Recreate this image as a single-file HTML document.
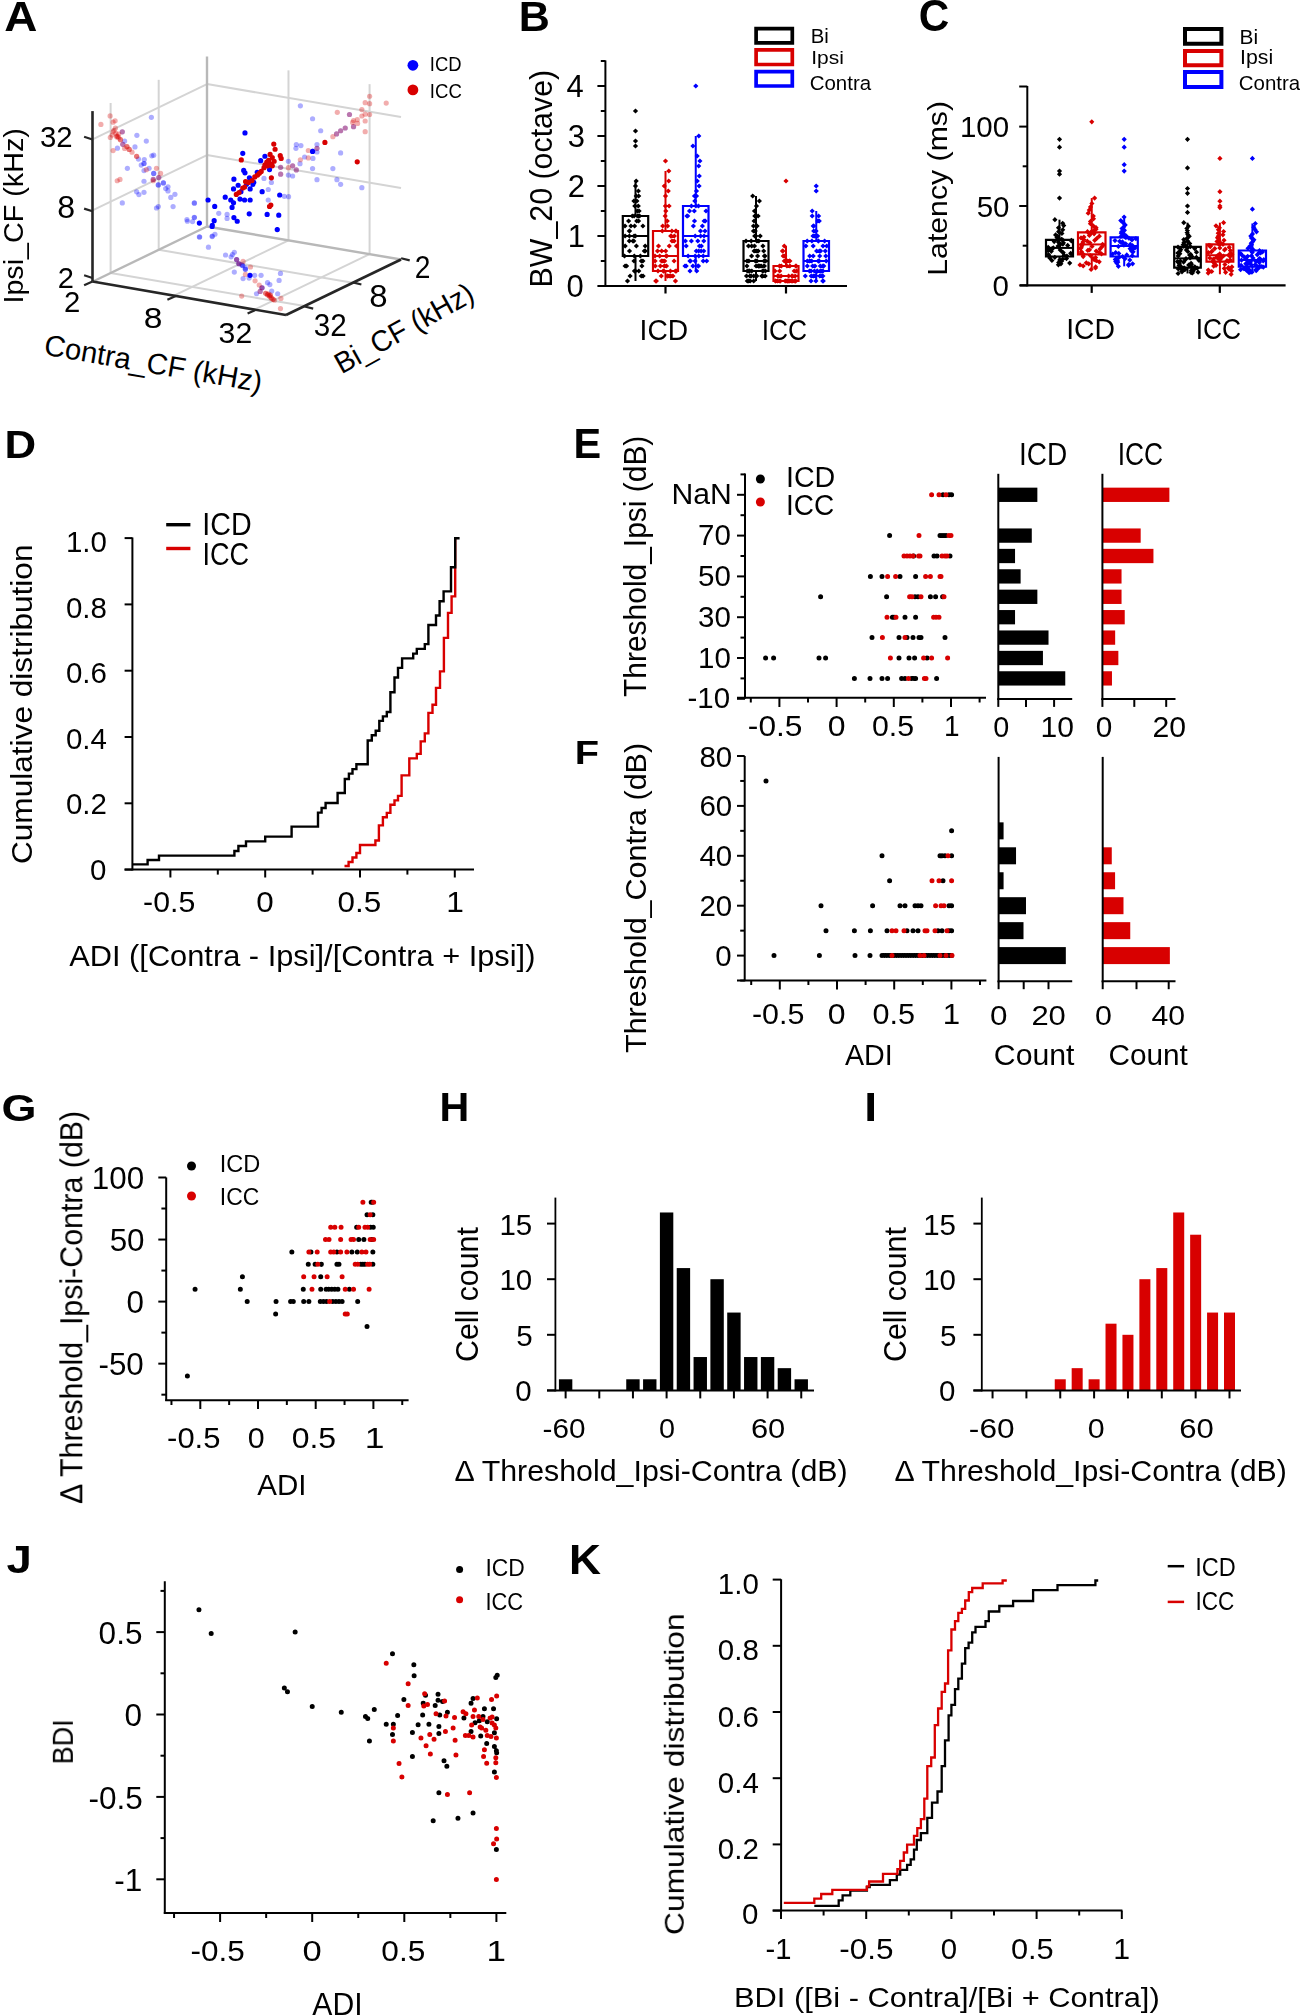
<!DOCTYPE html><html><head><meta charset="utf-8"><style>html,body{margin:0;padding:0;background:#fff;overflow:hidden}svg{display:block}</style></head><body>
<svg width="1300" height="2016" viewBox="0 0 1300 2016" style="font-family:&quot;Liberation Sans&quot;, sans-serif">
<rect width="1300" height="2016" fill="#fff"/>
<line x1="132.40" y1="537.50" x2="132.40" y2="870.60" stroke="#000" stroke-width="2.0" stroke-linecap="butt"/>
<line x1="124.60" y1="869.60" x2="474.00" y2="869.60" stroke="#000" stroke-width="2.0" stroke-linecap="butt"/>
<line x1="124.60" y1="869.60" x2="132.40" y2="869.60" stroke="#000" stroke-width="2.0" stroke-linecap="butt"/>
<line x1="124.60" y1="803.30" x2="132.40" y2="803.30" stroke="#000" stroke-width="2.0" stroke-linecap="butt"/>
<line x1="124.60" y1="737.00" x2="132.40" y2="737.00" stroke="#000" stroke-width="2.0" stroke-linecap="butt"/>
<line x1="124.60" y1="670.70" x2="132.40" y2="670.70" stroke="#000" stroke-width="2.0" stroke-linecap="butt"/>
<line x1="124.60" y1="604.40" x2="132.40" y2="604.40" stroke="#000" stroke-width="2.0" stroke-linecap="butt"/>
<line x1="124.60" y1="538.10" x2="132.40" y2="538.10" stroke="#000" stroke-width="2.0" stroke-linecap="butt"/>
<line x1="170.40" y1="869.60" x2="170.40" y2="877.50" stroke="#000" stroke-width="2.0" stroke-linecap="butt"/>
<line x1="265.20" y1="869.60" x2="265.20" y2="877.50" stroke="#000" stroke-width="2.0" stroke-linecap="butt"/>
<line x1="360.00" y1="869.60" x2="360.00" y2="877.50" stroke="#000" stroke-width="2.0" stroke-linecap="butt"/>
<line x1="454.80" y1="869.60" x2="454.80" y2="877.50" stroke="#000" stroke-width="2.0" stroke-linecap="butt"/>
<line x1="217.80" y1="869.60" x2="217.80" y2="874.60" stroke="#000" stroke-width="2.0" stroke-linecap="butt"/>
<line x1="312.60" y1="869.60" x2="312.60" y2="874.60" stroke="#000" stroke-width="2.0" stroke-linecap="butt"/>
<line x1="407.40" y1="869.60" x2="407.40" y2="874.60" stroke="#000" stroke-width="2.0" stroke-linecap="butt"/>
<line x1="166.20" y1="524.70" x2="190.40" y2="524.70" stroke="#000" stroke-width="3.4" stroke-linecap="butt"/>
<line x1="166.20" y1="548.50" x2="190.40" y2="548.50" stroke="#d80000" stroke-width="3.4" stroke-linecap="butt"/>
<path d="M344.5,866.0 H348.6 V862.0 H352.5 V857.5 H356.4 V853.0 H360.0 V845.0 H375.4 V840.5 H378.9 V825.4 H382.9 V817.3 H386.8 V812.9 H390.4 V804.8 H394.5 V800.4 H398.0 V795.9 H401.6 V775.4 H409.3 V758.4 H416.8 V753.9 H420.7 V741.4 H424.8 V733.4 H428.4 V712.9 H432.5 V704.8 H436.0 V687.9 H440.0 V671.4 H443.9 V637.9 H448.0 V612.9 H451.6 V596.4 H455.2 V568.2 H455.2 V538.3 H455.2" stroke="#d80000" stroke-width="2.4" fill="none" />
<path d="M132.4,864.4 H147.6 V860.0 H159.0 V855.6 H234.4 V851.0 H238.4 V846.0 H246.0 V841.4 H265.2 V836.6 H291.6 V826.6 H318.0 V812.6 H321.6 V808.0 H325.6 V803.0 H337.6 V793.0 H344.8 V779.0 H348.9 V773.6 H352.5 V769.1 H356.4 V764.3 H367.7 V740.5 H371.8 V735.2 H375.7 V730.7 H379.3 V720.9 H382.9 V716.4 H386.8 V712.0 H390.4 V692.3 H394.5 V677.5 H398.0 V667.9 H402.1 V658.4 H413.2 V653.6 H416.8 V648.9 H424.8 V644.1 H428.4 V625.0 H436.0 V615.5 H439.6 V601.3 H443.6 V591.4 H451.0 V567.3 H455.2 V538.3 H459.6" stroke="#000" stroke-width="2.4" fill="none" />
<rect x="558.92" y="1379.28" width="13.40" height="11.12" fill="#000"/>
<rect x="626.24" y="1379.28" width="13.40" height="11.12" fill="#000"/>
<rect x="643.07" y="1379.28" width="13.40" height="11.12" fill="#000"/>
<rect x="659.90" y="1212.48" width="13.40" height="177.92" fill="#000"/>
<rect x="676.73" y="1268.08" width="13.40" height="122.32" fill="#000"/>
<rect x="693.56" y="1357.04" width="13.40" height="33.36" fill="#000"/>
<rect x="710.39" y="1279.20" width="13.40" height="111.20" fill="#000"/>
<rect x="727.22" y="1312.56" width="13.40" height="77.84" fill="#000"/>
<rect x="744.05" y="1357.04" width="13.40" height="33.36" fill="#000"/>
<rect x="760.88" y="1357.04" width="13.40" height="33.36" fill="#000"/>
<rect x="777.71" y="1368.16" width="13.40" height="22.24" fill="#000"/>
<rect x="794.54" y="1379.28" width="13.40" height="11.12" fill="#000"/>
<line x1="555.40" y1="1197.60" x2="555.40" y2="1391.40" stroke="#000" stroke-width="1.8" stroke-linecap="butt"/>
<line x1="547.00" y1="1390.40" x2="814.00" y2="1390.40" stroke="#000" stroke-width="2.0" stroke-linecap="butt"/>
<line x1="547.00" y1="1390.40" x2="555.40" y2="1390.40" stroke="#000" stroke-width="2.0" stroke-linecap="butt"/>
<line x1="547.00" y1="1334.80" x2="555.40" y2="1334.80" stroke="#000" stroke-width="2.0" stroke-linecap="butt"/>
<line x1="547.00" y1="1279.20" x2="555.40" y2="1279.20" stroke="#000" stroke-width="2.0" stroke-linecap="butt"/>
<line x1="547.00" y1="1223.60" x2="555.40" y2="1223.60" stroke="#000" stroke-width="2.0" stroke-linecap="butt"/>
<line x1="565.62" y1="1390.40" x2="565.62" y2="1398.40" stroke="#000" stroke-width="2.0" stroke-linecap="butt"/>
<line x1="599.28" y1="1390.40" x2="599.28" y2="1398.40" stroke="#000" stroke-width="2.0" stroke-linecap="butt"/>
<line x1="632.94" y1="1390.40" x2="632.94" y2="1398.40" stroke="#000" stroke-width="2.0" stroke-linecap="butt"/>
<line x1="666.60" y1="1390.40" x2="666.60" y2="1398.40" stroke="#000" stroke-width="2.0" stroke-linecap="butt"/>
<line x1="700.26" y1="1390.40" x2="700.26" y2="1398.40" stroke="#000" stroke-width="2.0" stroke-linecap="butt"/>
<line x1="733.92" y1="1390.40" x2="733.92" y2="1398.40" stroke="#000" stroke-width="2.0" stroke-linecap="butt"/>
<line x1="767.58" y1="1390.40" x2="767.58" y2="1398.40" stroke="#000" stroke-width="2.0" stroke-linecap="butt"/>
<line x1="801.24" y1="1390.40" x2="801.24" y2="1398.40" stroke="#000" stroke-width="2.0" stroke-linecap="butt"/>
<rect x="1054.75" y="1379.28" width="11.00" height="11.12" fill="#d80000"/>
<rect x="1071.67" y="1368.16" width="11.00" height="22.24" fill="#d80000"/>
<rect x="1088.60" y="1379.28" width="11.00" height="11.12" fill="#d80000"/>
<rect x="1105.52" y="1323.68" width="11.00" height="66.72" fill="#d80000"/>
<rect x="1122.45" y="1334.80" width="11.00" height="55.60" fill="#d80000"/>
<rect x="1139.38" y="1279.20" width="11.00" height="111.20" fill="#d80000"/>
<rect x="1156.30" y="1268.08" width="11.00" height="122.32" fill="#d80000"/>
<rect x="1173.22" y="1212.48" width="11.00" height="177.92" fill="#d80000"/>
<rect x="1190.15" y="1234.72" width="11.00" height="155.68" fill="#d80000"/>
<rect x="1207.07" y="1312.56" width="11.00" height="77.84" fill="#d80000"/>
<rect x="1224.00" y="1312.56" width="11.00" height="77.84" fill="#d80000"/>
<line x1="981.80" y1="1197.60" x2="981.80" y2="1391.40" stroke="#000" stroke-width="1.8" stroke-linecap="butt"/>
<line x1="973.40" y1="1390.40" x2="1241.00" y2="1390.40" stroke="#000" stroke-width="2.0" stroke-linecap="butt"/>
<line x1="973.40" y1="1390.40" x2="981.80" y2="1390.40" stroke="#000" stroke-width="2.0" stroke-linecap="butt"/>
<line x1="973.40" y1="1334.80" x2="981.80" y2="1334.80" stroke="#000" stroke-width="2.0" stroke-linecap="butt"/>
<line x1="973.40" y1="1279.20" x2="981.80" y2="1279.20" stroke="#000" stroke-width="2.0" stroke-linecap="butt"/>
<line x1="973.40" y1="1223.60" x2="981.80" y2="1223.60" stroke="#000" stroke-width="2.0" stroke-linecap="butt"/>
<line x1="992.55" y1="1390.40" x2="992.55" y2="1398.40" stroke="#000" stroke-width="2.0" stroke-linecap="butt"/>
<line x1="1026.40" y1="1390.40" x2="1026.40" y2="1398.40" stroke="#000" stroke-width="2.0" stroke-linecap="butt"/>
<line x1="1060.25" y1="1390.40" x2="1060.25" y2="1398.40" stroke="#000" stroke-width="2.0" stroke-linecap="butt"/>
<line x1="1094.10" y1="1390.40" x2="1094.10" y2="1398.40" stroke="#000" stroke-width="2.0" stroke-linecap="butt"/>
<line x1="1127.95" y1="1390.40" x2="1127.95" y2="1398.40" stroke="#000" stroke-width="2.0" stroke-linecap="butt"/>
<line x1="1161.80" y1="1390.40" x2="1161.80" y2="1398.40" stroke="#000" stroke-width="2.0" stroke-linecap="butt"/>
<line x1="1195.65" y1="1390.40" x2="1195.65" y2="1398.40" stroke="#000" stroke-width="2.0" stroke-linecap="butt"/>
<line x1="1229.50" y1="1390.40" x2="1229.50" y2="1398.40" stroke="#000" stroke-width="2.0" stroke-linecap="butt"/>
<line x1="781.10" y1="1579.20" x2="781.10" y2="1911.60" stroke="#000" stroke-width="2.0" stroke-linecap="butt"/>
<line x1="772.70" y1="1910.60" x2="1122.40" y2="1910.60" stroke="#000" stroke-width="2.0" stroke-linecap="butt"/>
<line x1="772.70" y1="1910.60" x2="781.10" y2="1910.60" stroke="#000" stroke-width="2.0" stroke-linecap="butt"/>
<line x1="772.70" y1="1844.40" x2="781.10" y2="1844.40" stroke="#000" stroke-width="2.0" stroke-linecap="butt"/>
<line x1="772.70" y1="1778.20" x2="781.10" y2="1778.20" stroke="#000" stroke-width="2.0" stroke-linecap="butt"/>
<line x1="772.70" y1="1712.00" x2="781.10" y2="1712.00" stroke="#000" stroke-width="2.0" stroke-linecap="butt"/>
<line x1="772.70" y1="1645.80" x2="781.10" y2="1645.80" stroke="#000" stroke-width="2.0" stroke-linecap="butt"/>
<line x1="772.70" y1="1579.60" x2="781.10" y2="1579.60" stroke="#000" stroke-width="2.0" stroke-linecap="butt"/>
<line x1="781.00" y1="1910.60" x2="781.00" y2="1919.00" stroke="#000" stroke-width="2.0" stroke-linecap="butt"/>
<line x1="866.20" y1="1910.60" x2="866.20" y2="1919.00" stroke="#000" stroke-width="2.0" stroke-linecap="butt"/>
<line x1="951.40" y1="1910.60" x2="951.40" y2="1919.00" stroke="#000" stroke-width="2.0" stroke-linecap="butt"/>
<line x1="1036.60" y1="1910.60" x2="1036.60" y2="1919.00" stroke="#000" stroke-width="2.0" stroke-linecap="butt"/>
<line x1="1121.80" y1="1910.60" x2="1121.80" y2="1919.00" stroke="#000" stroke-width="2.0" stroke-linecap="butt"/>
<line x1="823.60" y1="1910.60" x2="823.60" y2="1915.50" stroke="#000" stroke-width="2.0" stroke-linecap="butt"/>
<line x1="908.80" y1="1910.60" x2="908.80" y2="1915.50" stroke="#000" stroke-width="2.0" stroke-linecap="butt"/>
<line x1="994.00" y1="1910.60" x2="994.00" y2="1915.50" stroke="#000" stroke-width="2.0" stroke-linecap="butt"/>
<line x1="1079.20" y1="1910.60" x2="1079.20" y2="1915.50" stroke="#000" stroke-width="2.0" stroke-linecap="butt"/>
<line x1="1167.70" y1="1566.20" x2="1184.10" y2="1566.20" stroke="#000" stroke-width="2.5" stroke-linecap="butt"/>
<line x1="1167.70" y1="1601.90" x2="1184.10" y2="1601.90" stroke="#d80000" stroke-width="2.5" stroke-linecap="butt"/>
<path d="M814.3,1905.9 H838.7 V1900.4 H842.6 V1895.4 H850.3 V1890.7 H866.9 V1887.1 H869.7 V1884.9 H889.9 V1880.2 H896.8 V1874.6 H900.2 V1869.9 H907.1 V1864.9 H910.7 V1859.4 H914.0 V1849.7 H916.8 V1840.0 H920.9 V1833.1 H927.3 V1817.9 H932.0 V1802.6 H937.5 V1791.5 H941.7 V1766.1 H945.0 V1740.3 H948.6 V1715.4 H951.4 V1704.9 H955.0 V1689.1 H958.3 V1678.6 H961.9 V1663.6 H965.2 V1648.1 H968.6 V1642.6 H972.2 V1632.3 H975.5 V1626.8 H985.5 V1621.2 H988.8 V1611.5 H999.3 V1606.0 H1013.1 V1601.0 H1033.1 V1590.2 H1057.5 V1585.2 H1095.4 V1580.5 H1098.2" stroke="#000" stroke-width="2.3" fill="none" />
<path d="M783.8,1902.9 H814.3 V1898.7 H821.2 V1894.0 H832.3 V1889.9 H866.9 V1886.3 H869.1 V1881.5 H883.0 V1873.8 H897.4 V1869.1 H900.2 V1860.8 H903.8 V1852.5 H907.1 V1844.7 H914.0 V1835.9 H917.3 V1828.1 H920.9 V1819.2 H924.3 V1798.7 H927.3 V1766.1 H931.2 V1757.5 H934.8 V1725.1 H938.1 V1708.5 H941.7 V1691.8 H945.0 V1683.5 H948.1 V1650.3 H951.4 V1629.5 H955.0 V1621.2 H958.3 V1612.9 H961.9 V1608.8 H965.2 V1600.5 H968.8 V1592.2 H972.2 V1588.0 H982.7 V1583.3 H1002.6 V1580.5 H1006.8" stroke="#d80000" stroke-width="2.3" fill="none" />
<path d="M624.9,281.0L627.5,278.4L630.1,281.0L627.5,283.6ZM640.5,276.0L643.1,273.4L645.7,276.0L643.1,278.6ZM638.7,276.0L641.3,273.4L643.9,276.0L641.3,278.6ZM627.5,276.0L630.1,273.4L632.7,276.0L630.1,278.6ZM632.8,271.0L635.4,268.4L638.0,271.0L635.4,273.6ZM631.8,271.0L634.4,268.4L637.0,271.0L634.4,273.6ZM636.2,271.0L638.8,268.4L641.4,271.0L638.8,273.6ZM639.3,266.0L641.9,263.4L644.5,266.0L641.9,268.6ZM624.0,266.0L626.6,263.4L629.2,266.0L626.6,268.6ZM622.5,266.0L625.1,263.4L627.7,266.0L625.1,268.6ZM640.3,261.0L642.9,258.4L645.5,261.0L642.9,263.6ZM631.4,261.0L634.0,258.4L636.6,261.0L634.0,263.6ZM638.7,261.0L641.3,258.4L643.9,261.0L641.3,263.6ZM621.9,256.0L624.5,253.4L627.1,256.0L624.5,258.6ZM631.7,256.0L634.3,253.4L636.9,256.0L634.3,258.6ZM637.8,256.0L640.4,253.4L643.0,256.0L640.4,258.6ZM626.9,251.0L629.5,248.4L632.1,251.0L629.5,253.6ZM642.7,251.0L645.3,248.4L647.9,251.0L645.3,253.6ZM641.7,251.0L644.3,248.4L646.9,251.0L644.3,253.6ZM622.6,246.0L625.2,243.4L627.8,246.0L625.2,248.6ZM622.5,246.0L625.1,243.4L627.7,246.0L625.1,248.6ZM633.8,246.0L636.4,243.4L639.0,246.0L636.4,248.6ZM642.6,246.0L645.2,243.4L647.8,246.0L645.2,248.6ZM630.3,241.0L632.9,238.4L635.5,241.0L632.9,243.6ZM626.7,241.0L629.3,238.4L631.9,241.0L629.3,243.6ZM631.2,241.0L633.8,238.4L636.4,241.0L633.8,243.6ZM622.5,236.0L625.1,233.4L627.7,236.0L625.1,238.6ZM626.8,236.0L629.4,233.4L632.0,236.0L629.4,238.6ZM631.5,236.0L634.1,233.4L636.7,236.0L634.1,238.6ZM632.8,236.0L635.4,233.4L638.0,236.0L635.4,238.6ZM627.0,231.0L629.6,228.4L632.2,231.0L629.6,233.6ZM627.0,231.0L629.6,228.4L632.2,231.0L629.6,233.6ZM626.7,231.0L629.3,228.4L631.9,231.0L629.3,233.6ZM632.0,226.0L634.6,223.4L637.2,226.0L634.6,228.6ZM628.3,226.0L630.9,223.4L633.5,226.0L630.9,228.6ZM622.4,226.0L625.0,223.4L627.6,226.0L625.0,228.6ZM640.3,226.0L642.9,223.4L645.5,226.0L642.9,228.6ZM634.1,221.0L636.7,218.4L639.3,221.0L636.7,223.6ZM636.0,221.0L638.6,218.4L641.2,221.0L638.6,223.6ZM626.0,221.0L628.6,218.4L631.2,221.0L628.6,223.6ZM637.0,216.0L639.6,213.4L642.2,216.0L639.6,218.6ZM635.9,216.0L638.5,213.4L641.1,216.0L638.5,218.6ZM629.7,216.0L632.3,213.4L634.9,216.0L632.3,218.6ZM631.5,216.0L634.1,213.4L636.7,216.0L634.1,218.6ZM634.8,216.0L637.4,213.4L640.0,216.0L637.4,218.6ZM634.7,211.0L637.3,208.4L639.9,211.0L637.3,213.6ZM636.5,211.0L639.1,208.4L641.7,211.0L639.1,213.6ZM632.2,206.0L634.8,203.4L637.4,206.0L634.8,208.6ZM635.7,206.0L638.3,203.4L640.9,206.0L638.3,208.6ZM634.3,201.0L636.9,198.4L639.5,201.0L636.9,203.6ZM631.3,201.0L633.9,198.4L636.5,201.0L633.9,203.6ZM633.6,196.0L636.2,193.4L638.8,196.0L636.2,198.6ZM636.1,196.0L638.7,193.4L641.3,196.0L638.7,198.6ZM635.8,191.0L638.4,188.4L641.0,191.0L638.4,193.6ZM632.9,186.0L635.5,183.4L638.1,186.0L635.5,188.6ZM633.6,181.0L636.2,178.4L638.8,181.0L636.2,183.6ZM632.9,146.0L635.5,143.4L638.1,146.0L635.5,148.6ZM632.9,141.0L635.5,138.4L638.1,141.0L635.5,143.6ZM632.9,131.0L635.5,128.4L638.1,131.0L635.5,133.6ZM632.9,111.0L635.5,108.4L638.1,111.0L635.5,113.6Z" fill="#000"/>
<line x1="635.50" y1="216.00" x2="635.50" y2="181.00" stroke="#000" stroke-width="2.0" stroke-linecap="butt"/>
<line x1="635.50" y1="281.00" x2="635.50" y2="256.00" stroke="#000" stroke-width="2.0" stroke-linecap="butt"/>
<path d="M622.8,256.0H648.2V216.0H622.8Z" stroke="#000" stroke-width="2.2" fill="none" />
<line x1="622.75" y1="236.00" x2="648.25" y2="236.00" stroke="#000" stroke-width="2.0" stroke-linecap="butt"/>
<path d="M672.9,281.0L675.5,278.4L678.1,281.0L675.5,283.6ZM672.8,281.0L675.4,278.4L678.0,281.0L675.4,283.6ZM653.1,281.0L655.7,278.4L658.3,281.0L655.7,283.6ZM653.8,281.0L656.4,278.4L659.0,281.0L656.4,283.6ZM670.3,276.0L672.9,273.4L675.5,276.0L672.9,278.6ZM668.1,276.0L670.7,273.4L673.3,276.0L670.7,278.6ZM666.6,276.0L669.2,273.4L671.8,276.0L669.2,278.6ZM658.7,276.0L661.3,273.4L663.9,276.0L661.3,278.6ZM665.2,276.0L667.8,273.4L670.4,276.0L667.8,278.6ZM665.2,276.0L667.8,273.4L670.4,276.0L667.8,278.6ZM664.7,276.0L667.3,273.4L669.9,276.0L667.3,278.6ZM655.4,271.0L658.0,268.4L660.6,271.0L658.0,273.6ZM661.4,271.0L664.0,268.4L666.6,271.0L664.0,273.6ZM660.6,271.0L663.2,268.4L665.8,271.0L663.2,273.6ZM667.8,271.0L670.4,268.4L673.0,271.0L670.4,273.6ZM673.8,271.0L676.4,268.4L679.0,271.0L676.4,273.6ZM672.8,271.0L675.4,268.4L678.0,271.0L675.4,273.6ZM663.9,266.0L666.5,263.4L669.1,266.0L666.5,268.6ZM661.7,266.0L664.3,263.4L666.9,266.0L664.3,268.6ZM657.8,266.0L660.4,263.4L663.0,266.0L660.4,268.6ZM652.7,266.0L655.3,263.4L657.9,266.0L655.3,268.6ZM652.5,261.0L655.1,258.4L657.7,261.0L655.1,263.6ZM662.1,261.0L664.7,258.4L667.3,261.0L664.7,263.6ZM658.9,261.0L661.5,258.4L664.1,261.0L661.5,263.6ZM660.3,261.0L662.9,258.4L665.5,261.0L662.9,263.6ZM671.5,261.0L674.1,258.4L676.7,261.0L674.1,263.6ZM663.5,256.0L666.1,253.4L668.7,256.0L666.1,258.6ZM664.2,256.0L666.8,253.4L669.4,256.0L666.8,258.6ZM657.1,256.0L659.7,253.4L662.3,256.0L659.7,258.6ZM652.4,256.0L655.0,253.4L657.6,256.0L655.0,258.6ZM659.1,251.0L661.7,248.4L664.3,251.0L661.7,253.6ZM654.9,251.0L657.5,248.4L660.1,251.0L657.5,253.6ZM663.1,251.0L665.7,248.4L668.3,251.0L665.7,253.6ZM673.9,246.0L676.5,243.4L679.1,246.0L676.5,248.6ZM666.7,246.0L669.3,243.4L671.9,246.0L669.3,248.6ZM655.9,246.0L658.5,243.4L661.1,246.0L658.5,248.6ZM671.6,241.0L674.2,238.4L676.8,241.0L674.2,243.6ZM669.4,241.0L672.0,238.4L674.6,241.0L672.0,243.6ZM668.1,236.0L670.7,233.4L673.3,236.0L670.7,238.6ZM671.8,236.0L674.4,233.4L677.0,236.0L674.4,238.6ZM668.7,236.0L671.3,233.4L673.9,236.0L671.3,238.6ZM669.3,231.0L671.9,228.4L674.5,231.0L671.9,233.6ZM659.7,231.0L662.3,228.4L664.9,231.0L662.3,233.6ZM673.5,231.0L676.1,228.4L678.7,231.0L676.1,233.6ZM673.1,231.0L675.7,228.4L678.3,231.0L675.7,233.6ZM660.1,226.0L662.7,223.4L665.3,226.0L662.7,228.6ZM665.0,226.0L667.6,223.4L670.2,226.0L667.6,228.6ZM664.7,221.0L667.3,218.4L669.9,221.0L667.3,223.6ZM662.6,216.0L665.2,213.4L667.8,216.0L665.2,218.6ZM663.2,211.0L665.8,208.4L668.4,211.0L665.8,213.6ZM662.8,206.0L665.4,203.4L668.0,206.0L665.4,208.6ZM666.5,206.0L669.1,203.4L671.7,206.0L669.1,208.6ZM662.9,196.0L665.5,193.4L668.1,196.0L665.5,198.6ZM665.7,191.0L668.3,188.4L670.9,191.0L668.3,193.6ZM661.7,186.0L664.3,183.4L666.9,186.0L664.3,188.6ZM666.1,181.0L668.7,178.4L671.3,181.0L668.7,183.6ZM666.2,171.0L668.8,168.4L671.4,171.0L668.8,173.6ZM662.9,161.0L665.5,158.4L668.1,161.0L665.5,163.6Z" fill="#d80000"/>
<line x1="665.50" y1="231.00" x2="665.50" y2="171.00" stroke="#d80000" stroke-width="2.0" stroke-linecap="butt"/>
<line x1="665.50" y1="281.00" x2="665.50" y2="271.00" stroke="#d80000" stroke-width="2.0" stroke-linecap="butt"/>
<path d="M653.0,271.0H678.0V231.0H653.0Z" stroke="#d80000" stroke-width="2.2" fill="none" />
<line x1="653.00" y1="256.00" x2="678.00" y2="256.00" stroke="#d80000" stroke-width="2.0" stroke-linecap="butt"/>
<path d="M687.4,271.0L690.0,268.4L692.6,271.0L690.0,273.6ZM694.1,271.0L696.7,268.4L699.3,271.0L696.7,273.6ZM690.3,266.0L692.9,263.4L695.5,266.0L692.9,268.6ZM695.4,266.0L698.0,263.4L700.6,266.0L698.0,268.6ZM695.9,266.0L698.5,263.4L701.1,266.0L698.5,268.6ZM683.6,266.0L686.2,263.4L688.8,266.0L686.2,268.6ZM682.4,266.0L685.0,263.4L687.6,266.0L685.0,268.6ZM700.6,261.0L703.2,258.4L705.8,261.0L703.2,263.6ZM687.9,261.0L690.5,258.4L693.1,261.0L690.5,263.6ZM687.3,261.0L689.9,258.4L692.5,261.0L689.9,263.6ZM704.1,261.0L706.7,258.4L709.3,261.0L706.7,263.6ZM692.5,261.0L695.1,258.4L697.7,261.0L695.1,263.6ZM700.6,256.0L703.2,253.4L705.8,256.0L703.2,258.6ZM692.6,256.0L695.2,253.4L697.8,256.0L695.2,258.6ZM696.2,256.0L698.8,253.4L701.4,256.0L698.8,258.6ZM685.5,256.0L688.1,253.4L690.7,256.0L688.1,258.6ZM696.1,251.0L698.7,248.4L701.3,251.0L698.7,253.6ZM701.2,251.0L703.8,248.4L706.4,251.0L703.8,253.6ZM693.7,251.0L696.3,248.4L698.9,251.0L696.3,253.6ZM698.5,251.0L701.1,248.4L703.7,251.0L701.1,253.6ZM696.9,246.0L699.5,243.4L702.1,246.0L699.5,248.6ZM683.6,246.0L686.2,243.4L688.8,246.0L686.2,248.6ZM698.8,246.0L701.4,243.4L704.0,246.0L701.4,248.6ZM695.2,241.0L697.8,238.4L700.4,241.0L697.8,243.6ZM688.8,241.0L691.4,238.4L694.0,241.0L691.4,243.6ZM682.8,241.0L685.4,238.4L688.0,241.0L685.4,243.6ZM701.2,241.0L703.8,238.4L706.4,241.0L703.8,243.6ZM692.6,236.0L695.2,233.4L697.8,236.0L695.2,238.6ZM698.0,236.0L700.6,233.4L703.2,236.0L700.6,238.6ZM701.5,236.0L704.1,233.4L706.7,236.0L704.1,238.6ZM697.9,231.0L700.5,228.4L703.1,231.0L700.5,233.6ZM702.4,231.0L705.0,228.4L707.6,231.0L705.0,233.6ZM690.8,226.0L693.4,223.4L696.0,226.0L693.4,228.6ZM699.8,226.0L702.4,223.4L705.0,226.0L702.4,228.6ZM691.9,221.0L694.5,218.4L697.1,221.0L694.5,223.6ZM702.7,221.0L705.3,218.4L707.9,221.0L705.3,223.6ZM701.5,221.0L704.1,218.4L706.7,221.0L704.1,223.6ZM684.3,216.0L686.9,213.4L689.5,216.0L686.9,218.6ZM685.1,216.0L687.7,213.4L690.3,216.0L687.7,218.6ZM686.9,211.0L689.5,208.4L692.1,211.0L689.5,213.6ZM703.4,211.0L706.0,208.4L708.6,211.0L706.0,213.6ZM691.7,211.0L694.3,208.4L696.9,211.0L694.3,213.6ZM695.9,206.0L698.5,203.4L701.1,206.0L698.5,208.6ZM688.8,206.0L691.4,203.4L694.0,206.0L691.4,208.6ZM693.3,206.0L695.9,203.4L698.5,206.0L695.9,208.6ZM692.2,201.0L694.8,198.4L697.4,201.0L694.8,203.6ZM691.9,196.0L694.5,193.4L697.1,196.0L694.5,198.6ZM693.9,196.0L696.5,193.4L699.1,196.0L696.5,198.6ZM693.9,191.0L696.5,188.4L699.1,191.0L696.5,193.6ZM696.5,186.0L699.1,183.4L701.7,186.0L699.1,188.6ZM694.7,181.0L697.3,178.4L699.9,181.0L697.3,183.6ZM696.7,176.0L699.3,173.4L701.9,176.0L699.3,178.6ZM696.1,166.0L698.7,163.4L701.3,166.0L698.7,168.6ZM697.3,161.0L699.9,158.4L702.5,161.0L699.9,163.6ZM694.6,156.0L697.2,153.4L699.8,156.0L697.2,158.6ZM690.3,146.0L692.9,143.4L695.5,146.0L692.9,148.6ZM696.2,136.0L698.8,133.4L701.4,136.0L698.8,138.6ZM693.1,86.0L695.8,83.4L698.4,86.0L695.8,88.6Z" fill="#0000ff"/>
<line x1="695.75" y1="206.00" x2="695.75" y2="136.00" stroke="#0000ff" stroke-width="2.0" stroke-linecap="butt"/>
<line x1="695.75" y1="271.00" x2="695.75" y2="256.00" stroke="#0000ff" stroke-width="2.0" stroke-linecap="butt"/>
<path d="M683.0,256.0H708.5V206.0H683.0Z" stroke="#0000ff" stroke-width="2.2" fill="none" />
<line x1="683.00" y1="236.00" x2="708.50" y2="236.00" stroke="#0000ff" stroke-width="2.0" stroke-linecap="butt"/>
<path d="M747.6,281.0L750.2,278.4L752.8,281.0L750.2,283.6ZM744.7,281.0L747.3,278.4L749.9,281.0L747.3,283.6ZM751.1,281.0L753.7,278.4L756.3,281.0L753.7,283.6ZM745.8,281.0L748.4,278.4L751.0,281.0L748.4,283.6ZM743.9,276.0L746.5,273.4L749.1,276.0L746.5,278.6ZM751.2,276.0L753.8,273.4L756.4,276.0L753.8,278.6ZM762.6,276.0L765.2,273.4L767.8,276.0L765.2,278.6ZM760.0,276.0L762.6,273.4L765.2,276.0L762.6,278.6ZM759.2,276.0L761.8,273.4L764.4,276.0L761.8,278.6ZM747.3,276.0L749.9,273.4L752.5,276.0L749.9,278.6ZM754.2,276.0L756.8,273.4L759.4,276.0L756.8,278.6ZM748.5,276.0L751.1,273.4L753.7,276.0L751.1,278.6ZM746.2,271.0L748.8,268.4L751.4,271.0L748.8,273.6ZM744.7,271.0L747.3,268.4L749.9,271.0L747.3,273.6ZM747.1,271.0L749.7,268.4L752.3,271.0L749.7,273.6ZM762.8,271.0L765.4,268.4L768.0,271.0L765.4,273.6ZM760.6,271.0L763.2,268.4L765.8,271.0L763.2,273.6ZM760.1,271.0L762.7,268.4L765.3,271.0L762.7,273.6ZM760.0,271.0L762.6,268.4L765.2,271.0L762.6,273.6ZM746.7,271.0L749.3,268.4L751.9,271.0L749.3,273.6ZM749.2,271.0L751.8,268.4L754.4,271.0L751.8,273.6ZM756.2,266.0L758.8,263.4L761.4,266.0L758.8,268.6ZM758.5,266.0L761.1,263.4L763.7,266.0L761.1,268.6ZM761.2,266.0L763.8,263.4L766.4,266.0L763.8,268.6ZM761.8,266.0L764.4,263.4L767.0,266.0L764.4,268.6ZM744.3,266.0L746.9,263.4L749.5,266.0L746.9,268.6ZM755.7,266.0L758.3,263.4L760.9,266.0L758.3,268.6ZM757.2,266.0L759.8,263.4L762.4,266.0L759.8,268.6ZM753.5,266.0L756.1,263.4L758.7,266.0L756.1,268.6ZM746.3,261.0L748.9,258.4L751.5,261.0L748.9,263.6ZM752.8,261.0L755.4,258.4L758.0,261.0L755.4,263.6ZM744.4,261.0L747.0,258.4L749.6,261.0L747.0,263.6ZM763.0,261.0L765.6,258.4L768.2,261.0L765.6,263.6ZM761.4,261.0L764.0,258.4L766.6,261.0L764.0,263.6ZM754.4,261.0L757.0,258.4L759.6,261.0L757.0,263.6ZM749.0,256.0L751.6,253.4L754.2,256.0L751.6,258.6ZM762.4,256.0L765.0,253.4L767.6,256.0L765.0,258.6ZM755.0,256.0L757.6,253.4L760.2,256.0L757.6,258.6ZM761.8,256.0L764.4,253.4L767.0,256.0L764.4,258.6ZM761.1,251.0L763.7,248.4L766.3,251.0L763.7,253.6ZM753.6,251.0L756.2,248.4L758.8,251.0L756.2,253.6ZM751.5,251.0L754.1,248.4L756.7,251.0L754.1,253.6ZM755.6,251.0L758.2,248.4L760.8,251.0L758.2,253.6ZM751.9,246.0L754.5,243.4L757.1,246.0L754.5,248.6ZM745.9,246.0L748.5,243.4L751.1,246.0L748.5,248.6ZM749.1,246.0L751.7,243.4L754.3,246.0L751.7,248.6ZM760.3,246.0L762.9,243.4L765.5,246.0L762.9,248.6ZM743.4,241.0L746.0,238.4L748.6,241.0L746.0,243.6ZM743.4,241.0L746.0,238.4L748.6,241.0L746.0,243.6ZM756.2,241.0L758.8,238.4L761.4,241.0L758.8,243.6ZM748.6,241.0L751.2,238.4L753.8,241.0L751.2,243.6ZM754.2,241.0L756.8,238.4L759.4,241.0L756.8,243.6ZM753.2,236.0L755.8,233.4L758.4,236.0L755.8,238.6ZM752.1,236.0L754.7,233.4L757.3,236.0L754.7,238.6ZM757.6,236.0L760.2,233.4L762.8,236.0L760.2,238.6ZM750.9,231.0L753.5,228.4L756.1,231.0L753.5,233.6ZM752.7,231.0L755.3,228.4L757.9,231.0L755.3,233.6ZM750.9,226.0L753.5,223.4L756.1,226.0L753.5,228.6ZM754.5,226.0L757.1,223.4L759.7,226.0L757.1,228.6ZM751.5,221.0L754.1,218.4L756.7,221.0L754.1,223.6ZM752.2,216.0L754.8,213.4L757.4,216.0L754.8,218.6ZM755.5,216.0L758.1,213.4L760.7,216.0L758.1,218.6ZM751.9,211.0L754.5,208.4L757.1,211.0L754.5,213.6ZM753.9,206.0L756.5,203.4L759.1,206.0L756.5,208.6ZM756.8,201.0L759.4,198.4L762.0,201.0L759.4,203.6ZM750.1,196.0L752.7,193.4L755.3,196.0L752.7,198.6Z" fill="#000"/>
<line x1="756.00" y1="241.00" x2="756.00" y2="196.00" stroke="#000" stroke-width="2.0" stroke-linecap="butt"/>
<line x1="756.00" y1="281.00" x2="756.00" y2="271.00" stroke="#000" stroke-width="2.0" stroke-linecap="butt"/>
<path d="M743.5,271.0H768.5V241.0H743.5Z" stroke="#000" stroke-width="2.2" fill="none" />
<line x1="743.50" y1="261.00" x2="768.50" y2="261.00" stroke="#000" stroke-width="2.0" stroke-linecap="butt"/>
<path d="M786.1,281.0L788.7,278.4L791.3,281.0L788.7,283.6ZM788.7,281.0L791.3,278.4L793.9,281.0L791.3,283.6ZM789.9,281.0L792.5,278.4L795.1,281.0L792.5,283.6ZM793.1,281.0L795.7,278.4L798.3,281.0L795.7,283.6ZM788.7,281.0L791.3,278.4L793.9,281.0L791.3,283.6ZM792.7,281.0L795.3,278.4L797.9,281.0L795.3,283.6ZM773.0,281.0L775.6,278.4L778.2,281.0L775.6,283.6ZM782.6,281.0L785.2,278.4L787.8,281.0L785.2,283.6ZM793.2,281.0L795.8,278.4L798.4,281.0L795.8,283.6ZM786.7,281.0L789.3,278.4L791.9,281.0L789.3,283.6ZM792.2,281.0L794.8,278.4L797.4,281.0L794.8,283.6ZM774.9,281.0L777.5,278.4L780.1,281.0L777.5,283.6ZM782.7,281.0L785.3,278.4L787.9,281.0L785.3,283.6ZM777.8,281.0L780.4,278.4L783.0,281.0L780.4,283.6ZM784.4,281.0L787.0,278.4L789.6,281.0L787.0,283.6ZM785.0,281.0L787.6,278.4L790.2,281.0L787.6,283.6ZM772.7,281.0L775.3,278.4L777.9,281.0L775.3,283.6ZM777.2,281.0L779.8,278.4L782.4,281.0L779.8,283.6ZM778.5,276.0L781.1,273.4L783.7,276.0L781.1,278.6ZM792.6,276.0L795.2,273.4L797.8,276.0L795.2,278.6ZM789.2,276.0L791.8,273.4L794.4,276.0L791.8,278.6ZM775.9,276.0L778.5,273.4L781.1,276.0L778.5,278.6ZM789.9,276.0L792.5,273.4L795.1,276.0L792.5,278.6ZM775.5,276.0L778.1,273.4L780.7,276.0L778.1,278.6ZM786.0,276.0L788.6,273.4L791.2,276.0L788.6,278.6ZM775.2,276.0L777.8,273.4L780.4,276.0L777.8,278.6ZM772.4,271.0L775.0,268.4L777.6,271.0L775.0,273.6ZM791.6,271.0L794.2,268.4L796.8,271.0L794.2,273.6ZM777.0,271.0L779.6,268.4L782.2,271.0L779.6,273.6ZM777.1,271.0L779.7,268.4L782.3,271.0L779.7,273.6ZM794.0,271.0L796.6,268.4L799.2,271.0L796.6,273.6ZM791.6,271.0L794.2,268.4L796.8,271.0L794.2,273.6ZM778.8,266.0L781.4,263.4L784.0,266.0L781.4,268.6ZM793.6,266.0L796.2,263.4L798.8,266.0L796.2,268.6ZM784.3,266.0L786.9,263.4L789.5,266.0L786.9,268.6ZM787.3,266.0L789.9,263.4L792.5,266.0L789.9,268.6ZM776.9,266.0L779.5,263.4L782.1,266.0L779.5,268.6ZM793.1,266.0L795.7,263.4L798.3,266.0L795.7,268.6ZM785.0,261.0L787.6,258.4L790.2,261.0L787.6,263.6ZM787.3,261.0L789.9,258.4L792.5,261.0L789.9,263.6ZM786.7,261.0L789.3,258.4L791.9,261.0L789.3,263.6ZM781.7,261.0L784.3,258.4L786.9,261.0L784.3,263.6ZM782.2,256.0L784.8,253.4L787.4,256.0L784.8,258.6ZM780.6,256.0L783.2,253.4L785.8,256.0L783.2,258.6ZM780.4,251.0L783.0,248.4L785.6,251.0L783.0,253.6ZM779.8,251.0L782.4,248.4L785.0,251.0L782.4,253.6ZM781.7,246.0L784.3,243.4L786.9,246.0L784.3,248.6ZM783.4,181.0L786.0,178.4L788.6,181.0L786.0,183.6Z" fill="#d80000"/>
<line x1="786.00" y1="266.00" x2="786.00" y2="246.00" stroke="#d80000" stroke-width="2.0" stroke-linecap="butt"/>
<line x1="786.00" y1="281.00" x2="786.00" y2="281.00" stroke="#d80000" stroke-width="2.0" stroke-linecap="butt"/>
<path d="M773.5,281.0H798.5V266.0H773.5Z" stroke="#d80000" stroke-width="2.2" fill="none" />
<line x1="773.50" y1="276.00" x2="798.50" y2="276.00" stroke="#d80000" stroke-width="2.0" stroke-linecap="butt"/>
<path d="M820.1,281.0L822.7,278.4L825.3,281.0L822.7,283.6ZM820.7,281.0L823.3,278.4L825.9,281.0L823.3,283.6ZM813.3,281.0L815.9,278.4L818.5,281.0L815.9,283.6ZM808.4,281.0L811.0,278.4L813.6,281.0L811.0,283.6ZM802.7,276.0L805.3,273.4L807.9,276.0L805.3,278.6ZM817.2,276.0L819.8,273.4L822.4,276.0L819.8,278.6ZM813.0,276.0L815.6,273.4L818.2,276.0L815.6,278.6ZM819.4,276.0L822.0,273.4L824.6,276.0L822.0,278.6ZM810.9,276.0L813.5,273.4L816.1,276.0L813.5,278.6ZM819.6,276.0L822.2,273.4L824.8,276.0L822.2,278.6ZM808.6,276.0L811.2,273.4L813.8,276.0L811.2,278.6ZM820.3,276.0L822.9,273.4L825.5,276.0L822.9,278.6ZM818.7,271.0L821.3,268.4L823.9,271.0L821.3,273.6ZM811.8,271.0L814.4,268.4L817.0,271.0L814.4,273.6ZM814.5,271.0L817.1,268.4L819.7,271.0L817.1,273.6ZM817.7,271.0L820.3,268.4L822.9,271.0L820.3,273.6ZM806.9,271.0L809.5,268.4L812.1,271.0L809.5,273.6ZM814.8,271.0L817.4,268.4L820.0,271.0L817.4,273.6ZM820.4,271.0L823.0,268.4L825.6,271.0L823.0,273.6ZM808.5,271.0L811.1,268.4L813.7,271.0L811.1,273.6ZM820.3,266.0L822.9,263.4L825.5,266.0L822.9,268.6ZM817.7,266.0L820.3,263.4L822.9,266.0L820.3,268.6ZM821.2,266.0L823.8,263.4L826.4,266.0L823.8,268.6ZM810.0,266.0L812.6,263.4L815.2,266.0L812.6,268.6ZM804.7,266.0L807.3,263.4L809.9,266.0L807.3,268.6ZM820.3,266.0L822.9,263.4L825.5,266.0L822.9,268.6ZM820.4,266.0L823.0,263.4L825.6,266.0L823.0,268.6ZM812.4,266.0L815.0,263.4L817.6,266.0L815.0,268.6ZM804.7,261.0L807.3,258.4L809.9,261.0L807.3,263.6ZM807.0,261.0L809.6,258.4L812.2,261.0L809.6,263.6ZM816.6,261.0L819.2,258.4L821.8,261.0L819.2,263.6ZM809.1,261.0L811.7,258.4L814.3,261.0L811.7,263.6ZM823.6,261.0L826.2,258.4L828.8,261.0L826.2,263.6ZM815.6,261.0L818.2,258.4L820.8,261.0L818.2,263.6ZM807.1,256.0L809.7,253.4L812.3,256.0L809.7,258.6ZM817.1,256.0L819.7,253.4L822.3,256.0L819.7,258.6ZM810.6,256.0L813.2,253.4L815.8,256.0L813.2,258.6ZM823.2,256.0L825.8,253.4L828.4,256.0L825.8,258.6ZM822.7,251.0L825.3,248.4L827.9,251.0L825.3,253.6ZM814.0,251.0L816.6,248.4L819.2,251.0L816.6,253.6ZM816.8,251.0L819.4,248.4L822.0,251.0L819.4,253.6ZM818.0,251.0L820.6,248.4L823.2,251.0L820.6,253.6ZM820.4,246.0L823.0,243.4L825.6,246.0L823.0,248.6ZM824.1,246.0L826.7,243.4L829.3,246.0L826.7,248.6ZM803.3,246.0L805.9,243.4L808.5,246.0L805.9,248.6ZM810.6,246.0L813.2,243.4L815.8,246.0L813.2,248.6ZM815.9,241.0L818.5,238.4L821.1,241.0L818.5,243.6ZM809.3,241.0L811.9,238.4L814.5,241.0L811.9,243.6ZM815.6,241.0L818.2,238.4L820.8,241.0L818.2,243.6ZM804.6,241.0L807.2,238.4L809.8,241.0L807.2,243.6ZM822.0,241.0L824.6,238.4L827.2,241.0L824.6,243.6ZM813.9,236.0L816.5,233.4L819.1,236.0L816.5,238.6ZM810.4,236.0L813.0,233.4L815.6,236.0L813.0,238.6ZM815.0,236.0L817.6,233.4L820.2,236.0L817.6,238.6ZM812.1,236.0L814.7,233.4L817.3,236.0L814.7,238.6ZM811.1,231.0L813.7,228.4L816.3,231.0L813.7,233.6ZM813.5,231.0L816.1,228.4L818.7,231.0L816.1,233.6ZM810.6,226.0L813.2,223.4L815.8,226.0L813.2,228.6ZM811.2,226.0L813.8,223.4L816.4,226.0L813.8,228.6ZM816.7,221.0L819.3,218.4L821.9,221.0L819.3,223.6ZM815.3,221.0L817.9,218.4L820.5,221.0L817.9,223.6ZM809.6,216.0L812.2,213.4L814.8,216.0L812.2,218.6ZM816.0,216.0L818.6,213.4L821.2,216.0L818.6,218.6ZM809.6,211.0L812.2,208.4L814.8,211.0L812.2,213.6ZM813.6,191.0L816.2,188.4L818.9,191.0L816.2,193.6ZM813.6,186.0L816.2,183.4L818.9,186.0L816.2,188.6Z" fill="#0000ff"/>
<line x1="816.25" y1="241.00" x2="816.25" y2="211.00" stroke="#0000ff" stroke-width="2.0" stroke-linecap="butt"/>
<line x1="816.25" y1="281.00" x2="816.25" y2="271.00" stroke="#0000ff" stroke-width="2.0" stroke-linecap="butt"/>
<path d="M803.5,271.0H829.0V241.0H803.5Z" stroke="#0000ff" stroke-width="2.2" fill="none" />
<line x1="803.50" y1="261.00" x2="829.00" y2="261.00" stroke="#0000ff" stroke-width="2.0" stroke-linecap="butt"/>
<line x1="605.40" y1="60.40" x2="605.40" y2="287.00" stroke="#000" stroke-width="2.0" stroke-linecap="butt"/>
<line x1="598.00" y1="286.00" x2="847.00" y2="286.00" stroke="#000" stroke-width="2.2" stroke-linecap="butt"/>
<line x1="597.40" y1="286.00" x2="605.40" y2="286.00" stroke="#000" stroke-width="2.0" stroke-linecap="butt"/>
<line x1="600.80" y1="261.00" x2="605.40" y2="261.00" stroke="#000" stroke-width="2.0" stroke-linecap="butt"/>
<line x1="597.40" y1="236.00" x2="605.40" y2="236.00" stroke="#000" stroke-width="2.0" stroke-linecap="butt"/>
<line x1="600.80" y1="211.00" x2="605.40" y2="211.00" stroke="#000" stroke-width="2.0" stroke-linecap="butt"/>
<line x1="597.40" y1="186.00" x2="605.40" y2="186.00" stroke="#000" stroke-width="2.0" stroke-linecap="butt"/>
<line x1="600.80" y1="161.00" x2="605.40" y2="161.00" stroke="#000" stroke-width="2.0" stroke-linecap="butt"/>
<line x1="597.40" y1="136.00" x2="605.40" y2="136.00" stroke="#000" stroke-width="2.0" stroke-linecap="butt"/>
<line x1="600.80" y1="111.00" x2="605.40" y2="111.00" stroke="#000" stroke-width="2.0" stroke-linecap="butt"/>
<line x1="597.40" y1="86.00" x2="605.40" y2="86.00" stroke="#000" stroke-width="2.0" stroke-linecap="butt"/>
<line x1="600.80" y1="61.00" x2="605.40" y2="61.00" stroke="#000" stroke-width="2.0" stroke-linecap="butt"/>
<line x1="665.50" y1="286.00" x2="665.50" y2="293.50" stroke="#000" stroke-width="2.2" stroke-linecap="butt"/>
<line x1="786.00" y1="286.00" x2="786.00" y2="293.50" stroke="#000" stroke-width="2.2" stroke-linecap="butt"/>
<path d="M756.1,28.6H792.3V42.9H756.1Z" stroke="#000" stroke-width="3.7" fill="none" />
<path d="M756.1,49.9H792.3V64.5H756.1Z" stroke="#d80000" stroke-width="3.7" fill="none" />
<path d="M756.1,71.7H792.3V86.0H756.1Z" stroke="#0000ff" stroke-width="3.7" fill="none" />
<path d="M1055.8,264.8L1058.4,262.2L1061.0,264.8L1058.4,267.4ZM1058.3,263.8L1060.9,261.2L1063.5,263.8L1060.9,266.4ZM1067.1,263.1L1069.7,260.5L1072.3,263.1L1069.7,265.7ZM1056.1,262.5L1058.7,259.9L1061.3,262.5L1058.7,265.1ZM1057.1,261.8L1059.7,259.2L1062.3,261.8L1059.7,264.4ZM1059.0,261.2L1061.6,258.6L1064.2,261.2L1061.6,263.8ZM1049.3,260.5L1051.9,257.9L1054.5,260.5L1051.9,263.1ZM1057.2,259.9L1059.8,257.3L1062.4,259.9L1059.8,262.5ZM1060.0,259.3L1062.6,256.7L1065.2,259.3L1062.6,261.9ZM1063.9,258.6L1066.5,256.0L1069.1,258.6L1066.5,261.2ZM1047.2,258.0L1049.8,255.4L1052.4,258.0L1049.8,260.6ZM1052.2,257.3L1054.8,254.7L1057.4,257.3L1054.8,259.9ZM1047.1,256.7L1049.7,254.1L1052.3,256.7L1049.7,259.3ZM1064.3,256.0L1066.9,253.4L1069.5,256.0L1066.9,258.6ZM1061.5,255.3L1064.1,252.7L1066.7,255.3L1064.1,257.9ZM1045.9,254.6L1048.5,252.0L1051.1,254.6L1048.5,257.2ZM1068.5,254.0L1071.1,251.4L1073.7,254.0L1071.1,256.6ZM1068.1,253.3L1070.7,250.7L1073.3,253.3L1070.7,255.9ZM1060.6,252.6L1063.2,250.0L1065.8,252.6L1063.2,255.2ZM1059.7,252.0L1062.3,249.4L1064.9,252.0L1062.3,254.6ZM1048.7,251.3L1051.3,248.7L1053.9,251.3L1051.3,253.9ZM1045.3,250.6L1047.9,248.0L1050.5,250.6L1047.9,253.2ZM1057.6,249.9L1060.2,247.3L1062.8,249.9L1060.2,252.5ZM1046.3,249.3L1048.9,246.7L1051.5,249.3L1048.9,251.9ZM1049.5,248.6L1052.1,246.0L1054.7,248.6L1052.1,251.2ZM1050.7,247.9L1053.3,245.3L1055.9,247.9L1053.3,250.5ZM1045.6,247.3L1048.2,244.7L1050.8,247.3L1048.2,249.9ZM1056.0,246.7L1058.6,244.1L1061.2,246.7L1058.6,249.3ZM1055.5,246.0L1058.1,243.4L1060.7,246.0L1058.1,248.6ZM1065.1,245.4L1067.7,242.8L1070.3,245.4L1067.7,248.0ZM1057.4,244.7L1060.0,242.1L1062.6,244.7L1060.0,247.3ZM1060.3,244.1L1062.9,241.5L1065.5,244.1L1062.9,246.7ZM1056.9,243.5L1059.5,240.9L1062.1,243.5L1059.5,246.1ZM1060.8,242.8L1063.4,240.2L1066.0,242.8L1063.4,245.4ZM1055.9,242.2L1058.5,239.6L1061.1,242.2L1058.5,244.8ZM1051.6,241.6L1054.2,239.0L1056.8,241.6L1054.2,244.2ZM1068.8,240.9L1071.4,238.3L1074.0,240.9L1071.4,243.5ZM1068.8,240.3L1071.4,237.7L1074.0,240.3L1071.4,242.9ZM1060.0,239.8L1062.6,237.2L1065.2,239.8L1062.6,242.4ZM1058.8,239.3L1061.4,236.7L1064.0,239.3L1061.4,241.9ZM1055.2,238.6L1057.8,236.0L1060.4,238.6L1057.8,241.2ZM1054.4,237.6L1057.0,235.0L1059.6,237.6L1057.0,240.2ZM1055.0,236.3L1057.6,233.7L1060.2,236.3L1057.6,238.9ZM1053.0,234.9L1055.6,232.3L1058.2,234.9L1055.6,237.5ZM1059.3,233.4L1061.9,230.8L1064.5,233.4L1061.9,236.0ZM1056.0,231.7L1058.6,229.1L1061.2,231.7L1058.6,234.3ZM1060.1,229.8L1062.7,227.2L1065.3,229.8L1062.7,232.4ZM1055.9,227.8L1058.5,225.2L1061.1,227.8L1058.5,230.4ZM1061.1,225.6L1063.7,223.0L1066.3,225.6L1063.7,228.2ZM1060.1,223.3L1062.7,220.7L1065.3,223.3L1062.7,225.9ZM1052.3,219.7L1054.9,217.1L1057.5,219.7L1054.9,222.3ZM1056.9,198.1L1059.5,195.5L1062.1,198.1L1059.5,200.7ZM1056.9,174.2L1059.5,171.6L1062.1,174.2L1059.5,176.8ZM1056.9,171.1L1059.5,168.5L1062.1,171.1L1059.5,173.7ZM1056.9,147.2L1059.5,144.6L1062.1,147.2L1059.5,149.8ZM1056.9,139.3L1059.5,136.7L1062.1,139.3L1059.5,141.9Z" fill="#000"/>
<line x1="1059.50" y1="239.82" x2="1059.50" y2="219.66" stroke="#000" stroke-width="2.0" stroke-linecap="butt"/>
<line x1="1059.50" y1="264.76" x2="1059.50" y2="256.50" stroke="#000" stroke-width="2.0" stroke-linecap="butt"/>
<path d="M1046.0,256.5H1073.0V239.8H1046.0Z" stroke="#000" stroke-width="2.2" fill="none" />
<line x1="1046.00" y1="247.92" x2="1073.00" y2="247.92" stroke="#000" stroke-width="2.0" stroke-linecap="butt"/>
<path d="M1088.5,269.5L1091.1,266.9L1093.7,269.5L1091.1,272.1ZM1092.9,268.0L1095.5,265.4L1098.1,268.0L1095.5,270.6ZM1093.1,266.9L1095.7,264.3L1098.3,266.9L1095.7,269.5ZM1080.6,265.9L1083.2,263.3L1085.8,265.9L1083.2,268.5ZM1077.4,264.9L1080.0,262.3L1082.6,264.9L1080.0,267.5ZM1086.1,263.8L1088.7,261.2L1091.3,263.8L1088.7,266.4ZM1083.7,262.8L1086.3,260.2L1088.9,262.8L1086.3,265.4ZM1096.6,261.8L1099.2,259.2L1101.8,261.8L1099.2,264.4ZM1093.7,260.7L1096.3,258.1L1098.9,260.7L1096.3,263.3ZM1091.6,259.7L1094.2,257.1L1096.8,259.7L1094.2,262.3ZM1090.5,258.7L1093.1,256.1L1095.7,258.7L1093.1,261.3ZM1093.0,257.6L1095.6,255.0L1098.2,257.6L1095.6,260.2ZM1080.6,256.6L1083.2,254.0L1085.8,256.6L1083.2,259.2ZM1087.7,255.6L1090.3,253.0L1092.9,255.6L1090.3,258.2ZM1081.0,254.5L1083.6,251.9L1086.2,254.5L1083.6,257.1ZM1098.9,253.8L1101.5,251.2L1104.1,253.8L1101.5,256.4ZM1078.6,253.1L1081.2,250.5L1083.8,253.1L1081.2,255.7ZM1096.8,252.4L1099.4,249.8L1102.0,252.4L1099.4,255.0ZM1078.9,251.8L1081.5,249.2L1084.1,251.8L1081.5,254.4ZM1093.6,251.1L1096.2,248.5L1098.8,251.1L1096.2,253.7ZM1085.2,250.4L1087.8,247.8L1090.4,250.4L1087.8,253.0ZM1086.9,249.8L1089.5,247.2L1092.1,249.8L1089.5,252.4ZM1097.4,249.1L1100.0,246.5L1102.6,249.1L1100.0,251.7ZM1077.6,248.4L1080.2,245.8L1082.8,248.4L1080.2,251.0ZM1078.6,247.8L1081.2,245.2L1083.8,247.8L1081.2,250.4ZM1099.1,247.1L1101.7,244.5L1104.3,247.1L1101.7,249.7ZM1089.4,246.4L1092.0,243.8L1094.6,246.4L1092.0,249.0ZM1079.3,245.8L1081.9,243.2L1084.5,245.8L1081.9,248.4ZM1100.8,245.1L1103.4,242.5L1106.0,245.1L1103.4,247.7ZM1099.9,244.4L1102.5,241.8L1105.1,244.4L1102.5,247.0ZM1079.9,243.6L1082.5,241.0L1085.1,243.6L1082.5,246.2ZM1087.3,242.8L1089.9,240.2L1092.5,242.8L1089.9,245.4ZM1080.4,242.0L1083.0,239.4L1085.6,242.0L1083.0,244.6ZM1084.7,241.2L1087.3,238.6L1089.9,241.2L1087.3,243.8ZM1092.1,240.3L1094.7,237.7L1097.3,240.3L1094.7,242.9ZM1081.1,239.5L1083.7,236.9L1086.3,239.5L1083.7,242.1ZM1093.9,238.7L1096.5,236.1L1099.1,238.7L1096.5,241.3ZM1078.4,237.9L1081.0,235.3L1083.6,237.9L1081.0,240.5ZM1081.3,237.1L1083.9,234.5L1086.5,237.1L1083.9,239.7ZM1096.7,236.2L1099.3,233.6L1101.9,236.2L1099.3,238.8ZM1086.8,235.4L1089.4,232.8L1092.0,235.4L1089.4,238.0ZM1087.2,234.6L1089.8,232.0L1092.4,234.6L1089.8,237.2ZM1091.5,233.8L1094.1,231.2L1096.7,233.8L1094.1,236.4ZM1088.6,233.0L1091.2,230.4L1093.8,233.0L1091.2,235.6ZM1088.1,232.3L1090.7,229.7L1093.3,232.3L1090.7,234.9ZM1084.9,231.7L1087.5,229.1L1090.1,231.7L1087.5,234.3ZM1091.2,230.7L1093.8,228.1L1096.4,230.7L1093.8,233.3ZM1093.4,229.3L1096.0,226.7L1098.6,229.3L1096.0,231.9ZM1093.5,227.7L1096.1,225.1L1098.7,227.7L1096.1,230.3ZM1090.6,225.8L1093.2,223.2L1095.8,225.8L1093.2,228.4ZM1087.8,223.7L1090.4,221.1L1093.0,223.7L1090.4,226.3ZM1087.9,221.4L1090.5,218.8L1093.1,221.4L1090.5,224.0ZM1090.9,218.8L1093.5,216.2L1096.1,218.8L1093.5,221.4ZM1090.7,216.1L1093.3,213.5L1095.9,216.1L1093.3,218.7ZM1085.6,213.2L1088.2,210.6L1090.8,213.2L1088.2,215.8ZM1086.7,210.1L1089.3,207.5L1091.9,210.1L1089.3,212.7ZM1087.9,206.9L1090.5,204.3L1093.1,206.9L1090.5,209.5ZM1089.3,203.5L1091.9,200.9L1094.5,203.5L1091.9,206.1ZM1092.0,198.1L1094.6,195.5L1097.2,198.1L1094.6,200.7ZM1089.2,121.8L1091.8,119.2L1094.3,121.8L1091.8,124.4Z" fill="#d80000"/>
<line x1="1091.75" y1="232.36" x2="1091.75" y2="198.06" stroke="#d80000" stroke-width="2.0" stroke-linecap="butt"/>
<line x1="1091.75" y1="269.52" x2="1091.75" y2="254.28" stroke="#d80000" stroke-width="2.0" stroke-linecap="butt"/>
<path d="M1078.0,254.3H1105.5V232.4H1078.0Z" stroke="#d80000" stroke-width="2.2" fill="none" />
<line x1="1078.00" y1="244.43" x2="1105.50" y2="244.43" stroke="#d80000" stroke-width="2.0" stroke-linecap="butt"/>
<path d="M1115.8,266.3L1118.4,263.7L1121.0,266.3L1118.4,268.9ZM1126.0,265.3L1128.6,262.7L1131.2,265.3L1128.6,267.9ZM1126.0,264.5L1128.6,261.9L1131.2,264.5L1128.6,267.1ZM1130.0,263.8L1132.6,261.2L1135.2,263.8L1132.6,266.4ZM1114.1,263.1L1116.7,260.5L1119.3,263.1L1116.7,265.7ZM1115.1,262.3L1117.7,259.7L1120.3,262.3L1117.7,264.9ZM1113.1,261.6L1115.7,259.0L1118.3,261.6L1115.7,264.2ZM1115.0,260.9L1117.6,258.3L1120.2,260.9L1117.6,263.5ZM1127.2,260.1L1129.8,257.5L1132.4,260.1L1129.8,262.7ZM1112.7,259.4L1115.3,256.8L1117.9,259.4L1115.3,262.0ZM1122.4,258.7L1125.0,256.1L1127.6,258.7L1125.0,261.3ZM1114.7,258.0L1117.3,255.4L1119.9,258.0L1117.3,260.6ZM1116.7,257.2L1119.3,254.6L1121.9,257.2L1119.3,259.8ZM1120.0,256.5L1122.6,253.9L1125.2,256.5L1122.6,259.1ZM1129.7,255.7L1132.3,253.1L1134.9,255.7L1132.3,258.3ZM1124.2,254.9L1126.8,252.3L1129.4,254.9L1126.8,257.5ZM1109.9,254.2L1112.5,251.6L1115.1,254.2L1112.5,256.8ZM1116.2,253.4L1118.8,250.8L1121.4,253.4L1118.8,256.0ZM1113.1,252.6L1115.7,250.0L1118.3,252.6L1115.7,255.2ZM1130.5,251.8L1133.1,249.2L1135.7,251.8L1133.1,254.4ZM1129.0,251.1L1131.6,248.5L1134.2,251.1L1131.6,253.7ZM1128.9,250.3L1131.5,247.7L1134.1,250.3L1131.5,252.9ZM1129.4,249.5L1132.0,246.9L1134.6,249.5L1132.0,252.1ZM1127.5,248.7L1130.1,246.1L1132.7,248.7L1130.1,251.3ZM1132.4,248.0L1135.0,245.4L1137.6,248.0L1135.0,250.6ZM1128.7,247.2L1131.3,244.6L1133.9,247.2L1131.3,249.8ZM1115.8,246.4L1118.4,243.8L1121.0,246.4L1118.4,249.0ZM1130.0,245.7L1132.6,243.1L1135.2,245.7L1132.6,248.3ZM1121.3,245.1L1123.9,242.5L1126.5,245.1L1123.9,247.7ZM1127.7,244.4L1130.3,241.8L1132.9,244.4L1130.3,247.0ZM1123.1,243.8L1125.7,241.2L1128.3,243.8L1125.7,246.4ZM1119.9,243.2L1122.5,240.6L1125.1,243.2L1122.5,245.8ZM1118.3,242.5L1120.9,239.9L1123.5,242.5L1120.9,245.1ZM1119.9,241.9L1122.5,239.3L1125.1,241.9L1122.5,244.5ZM1117.1,241.3L1119.7,238.7L1122.3,241.3L1119.7,243.9ZM1112.4,240.6L1115.0,238.0L1117.6,240.6L1115.0,243.2ZM1129.3,240.0L1131.9,237.4L1134.5,240.0L1131.9,242.6ZM1128.8,239.3L1131.4,236.7L1134.0,239.3L1131.4,241.9ZM1133.3,238.7L1135.9,236.1L1138.5,238.7L1135.9,241.3ZM1126.2,238.1L1128.8,235.5L1131.4,238.1L1128.8,240.7ZM1122.9,237.4L1125.5,234.8L1128.1,237.4L1125.5,240.0ZM1123.9,237.1L1126.5,234.5L1129.1,237.1L1126.5,239.7ZM1118.3,236.5L1120.9,233.9L1123.5,236.5L1120.9,239.1ZM1123.2,235.6L1125.8,233.0L1128.4,235.6L1125.8,238.2ZM1121.1,234.5L1123.7,231.9L1126.3,234.5L1123.7,237.1ZM1118.7,233.3L1121.3,230.7L1123.9,233.3L1121.3,235.9ZM1118.9,231.9L1121.5,229.3L1124.1,231.9L1121.5,234.5ZM1121.8,230.3L1124.4,227.7L1127.0,230.3L1124.4,232.9ZM1119.4,228.6L1122.0,226.0L1124.6,228.6L1122.0,231.2ZM1121.2,226.8L1123.8,224.2L1126.4,226.8L1123.8,229.4ZM1122.6,224.9L1125.2,222.3L1127.8,224.9L1125.2,227.5ZM1120.6,222.8L1123.2,220.2L1125.8,222.8L1123.2,225.4ZM1118.2,220.6L1120.8,218.0L1123.4,220.6L1120.8,223.2ZM1121.5,217.1L1124.1,214.5L1126.7,217.1L1124.1,219.7ZM1121.6,171.1L1124.2,168.5L1126.8,171.1L1124.2,173.7ZM1121.6,164.7L1124.2,162.1L1126.8,164.7L1124.2,167.3ZM1121.6,147.2L1124.2,144.6L1126.8,147.2L1124.2,149.8ZM1121.6,139.3L1124.2,136.7L1126.8,139.3L1124.2,141.9Z" fill="#0000ff"/>
<line x1="1124.20" y1="237.44" x2="1124.20" y2="217.12" stroke="#0000ff" stroke-width="2.0" stroke-linecap="butt"/>
<line x1="1124.20" y1="266.34" x2="1124.20" y2="256.50" stroke="#0000ff" stroke-width="2.0" stroke-linecap="butt"/>
<path d="M1110.6,256.5H1137.8V237.4H1110.6Z" stroke="#0000ff" stroke-width="2.2" fill="none" />
<line x1="1110.60" y1="246.02" x2="1137.80" y2="246.02" stroke="#0000ff" stroke-width="2.0" stroke-linecap="butt"/>
<path d="M1175.5,273.5L1178.1,270.9L1180.7,273.5L1178.1,276.1ZM1189.8,272.9L1192.4,270.3L1195.0,272.9L1192.4,275.5ZM1188.5,272.6L1191.1,270.0L1193.7,272.6L1191.1,275.2ZM1195.5,272.2L1198.1,269.6L1200.7,272.2L1198.1,274.8ZM1179.4,271.8L1182.0,269.2L1184.6,271.8L1182.0,274.4ZM1179.0,271.5L1181.6,268.9L1184.2,271.5L1181.6,274.1ZM1190.5,271.1L1193.1,268.5L1195.7,271.1L1193.1,273.7ZM1188.7,270.7L1191.3,268.1L1193.9,270.7L1191.3,273.3ZM1180.2,270.4L1182.8,267.8L1185.4,270.4L1182.8,273.0ZM1189.3,270.0L1191.9,267.4L1194.5,270.0L1191.9,272.6ZM1182.4,269.6L1185.0,267.0L1187.6,269.6L1185.0,272.2ZM1191.6,269.3L1194.2,266.7L1196.8,269.3L1194.2,271.9ZM1175.7,268.9L1178.3,266.3L1180.9,268.9L1178.3,271.5ZM1178.3,268.5L1180.9,265.9L1183.5,268.5L1180.9,271.1ZM1194.5,268.2L1197.1,265.6L1199.7,268.2L1197.1,270.8ZM1181.5,267.8L1184.1,265.2L1186.7,267.8L1184.1,270.4ZM1179.1,267.3L1181.7,264.7L1184.3,267.3L1181.7,269.9ZM1192.2,266.8L1194.8,264.2L1197.4,266.8L1194.8,269.4ZM1188.1,266.2L1190.7,263.6L1193.3,266.2L1190.7,268.8ZM1176.5,265.6L1179.1,263.0L1181.7,265.6L1179.1,268.2ZM1186.1,265.0L1188.7,262.4L1191.3,265.0L1188.7,267.6ZM1188.8,264.4L1191.4,261.8L1194.0,264.4L1191.4,267.0ZM1176.9,263.9L1179.5,261.3L1182.1,263.9L1179.5,266.5ZM1188.5,263.3L1191.1,260.7L1193.7,263.3L1191.1,265.9ZM1175.9,262.7L1178.5,260.1L1181.1,262.7L1178.5,265.3ZM1181.0,262.1L1183.6,259.5L1186.2,262.1L1183.6,264.7ZM1174.9,261.6L1177.5,259.0L1180.1,261.6L1177.5,264.2ZM1177.8,261.0L1180.4,258.4L1183.0,261.0L1180.4,263.6ZM1196.4,260.4L1199.0,257.8L1201.6,260.4L1199.0,263.0ZM1182.6,259.8L1185.2,257.2L1187.8,259.8L1185.2,262.4ZM1196.7,259.3L1199.3,256.7L1201.9,259.3L1199.3,261.9ZM1183.4,258.7L1186.0,256.1L1188.6,258.7L1186.0,261.3ZM1187.5,258.0L1190.1,255.4L1192.7,258.0L1190.1,260.6ZM1193.8,257.3L1196.4,254.7L1199.0,257.3L1196.4,259.9ZM1189.4,256.6L1192.0,254.0L1194.6,256.6L1192.0,259.2ZM1175.6,255.9L1178.2,253.3L1180.8,255.9L1178.2,258.5ZM1187.0,255.1L1189.6,252.5L1192.2,255.1L1189.6,257.7ZM1188.1,254.4L1190.7,251.8L1193.3,254.4L1190.7,257.0ZM1177.2,253.7L1179.8,251.1L1182.4,253.7L1179.8,256.3ZM1175.2,253.0L1177.8,250.4L1180.4,253.0L1177.8,255.6ZM1193.9,252.2L1196.5,249.6L1199.1,252.2L1196.5,254.8ZM1185.2,251.5L1187.8,248.9L1190.4,251.5L1187.8,254.1ZM1177.6,250.8L1180.2,248.2L1182.8,250.8L1180.2,253.4ZM1183.8,250.1L1186.4,247.5L1189.0,250.1L1186.4,252.7ZM1178.1,249.3L1180.7,246.7L1183.3,249.3L1180.7,251.9ZM1192.1,248.6L1194.7,246.0L1197.3,248.6L1194.7,251.2ZM1184.9,247.9L1187.5,245.3L1190.1,247.9L1187.5,250.5ZM1175.4,247.2L1178.0,244.6L1180.6,247.2L1178.0,249.8ZM1187.8,246.7L1190.4,244.1L1193.0,246.7L1190.4,249.3ZM1181.2,246.3L1183.8,243.7L1186.4,246.3L1183.8,248.9ZM1182.9,245.6L1185.5,243.0L1188.1,245.6L1185.5,248.2ZM1180.6,244.7L1183.2,242.1L1185.8,244.7L1183.2,247.3ZM1187.1,243.6L1189.7,241.0L1192.3,243.6L1189.7,246.2ZM1181.4,242.4L1184.0,239.8L1186.6,242.4L1184.0,245.0ZM1185.1,241.1L1187.7,238.5L1190.3,241.1L1187.7,243.7ZM1181.2,239.6L1183.8,237.0L1186.4,239.6L1183.8,242.2ZM1184.7,238.0L1187.3,235.4L1189.9,238.0L1187.3,240.6ZM1186.6,236.3L1189.2,233.7L1191.8,236.3L1189.2,238.9ZM1185.2,234.5L1187.8,231.9L1190.4,234.5L1187.8,237.1ZM1184.5,232.6L1187.1,230.0L1189.7,232.6L1187.1,235.2ZM1184.8,230.6L1187.4,228.0L1190.0,230.6L1187.4,233.2ZM1184.3,228.4L1186.9,225.8L1189.5,228.4L1186.9,231.0ZM1185.8,226.2L1188.4,223.6L1191.0,226.2L1188.4,228.8ZM1181.2,222.7L1183.8,220.1L1186.4,222.7L1183.8,225.3ZM1184.9,212.4L1187.5,209.8L1190.1,212.4L1187.5,215.0ZM1184.9,206.0L1187.5,203.4L1190.1,206.0L1187.5,208.6ZM1184.9,193.3L1187.5,190.7L1190.1,193.3L1187.5,195.9ZM1184.9,188.5L1187.5,185.9L1190.1,188.5L1187.5,191.1ZM1184.9,167.9L1187.5,165.3L1190.1,167.9L1187.5,170.5ZM1184.9,139.3L1187.5,136.7L1190.1,139.3L1187.5,141.9Z" fill="#000"/>
<line x1="1187.50" y1="246.81" x2="1187.50" y2="222.67" stroke="#000" stroke-width="2.0" stroke-linecap="butt"/>
<line x1="1187.50" y1="273.49" x2="1187.50" y2="267.61" stroke="#000" stroke-width="2.0" stroke-linecap="butt"/>
<path d="M1174.2,267.6H1200.8V246.8H1174.2Z" stroke="#000" stroke-width="2.2" fill="none" />
<line x1="1174.20" y1="258.40" x2="1200.80" y2="258.40" stroke="#000" stroke-width="2.0" stroke-linecap="butt"/>
<path d="M1228.5,274.3L1231.1,271.7L1233.7,274.3L1231.1,276.9ZM1205.6,273.1L1208.2,270.5L1210.8,273.1L1208.2,275.7ZM1223.0,272.3L1225.6,269.7L1228.2,272.3L1225.6,274.9ZM1209.1,271.5L1211.7,268.9L1214.3,271.5L1211.7,274.1ZM1229.0,270.8L1231.6,268.2L1234.2,270.8L1231.6,273.4ZM1205.7,270.0L1208.3,267.4L1210.9,270.0L1208.3,272.6ZM1226.4,269.2L1229.0,266.6L1231.6,269.2L1229.0,271.8ZM1221.7,268.4L1224.3,265.8L1226.9,268.4L1224.3,271.0ZM1225.9,267.6L1228.5,265.0L1231.1,267.6L1228.5,270.2ZM1229.3,266.9L1231.9,264.3L1234.5,266.9L1231.9,269.5ZM1211.1,266.1L1213.7,263.5L1216.3,266.1L1213.7,268.7ZM1213.4,265.3L1216.0,262.7L1218.6,265.3L1216.0,267.9ZM1222.3,264.5L1224.9,261.9L1227.5,264.5L1224.9,267.1ZM1212.0,263.7L1214.6,261.1L1217.2,263.7L1214.6,266.3ZM1211.6,262.9L1214.2,260.3L1216.8,262.9L1214.2,265.5ZM1210.8,262.2L1213.4,259.6L1216.0,262.2L1213.4,264.8ZM1225.9,261.5L1228.5,258.9L1231.1,261.5L1228.5,264.1ZM1226.3,261.1L1228.9,258.5L1231.5,261.1L1228.9,263.7ZM1224.4,260.7L1227.0,258.1L1229.6,260.7L1227.0,263.3ZM1210.7,260.3L1213.3,257.7L1215.9,260.3L1213.3,262.9ZM1227.5,259.9L1230.1,257.3L1232.7,259.9L1230.1,262.5ZM1217.6,259.5L1220.2,256.9L1222.8,259.5L1220.2,262.1ZM1210.9,259.1L1213.5,256.5L1216.1,259.1L1213.5,261.7ZM1216.2,258.7L1218.8,256.1L1221.4,258.7L1218.8,261.3ZM1215.4,258.4L1218.0,255.8L1220.6,258.4L1218.0,261.0ZM1207.2,258.0L1209.8,255.4L1212.4,258.0L1209.8,260.6ZM1218.9,257.6L1221.5,255.0L1224.1,257.6L1221.5,260.2ZM1213.9,257.2L1216.5,254.6L1219.1,257.2L1216.5,259.8ZM1219.0,256.8L1221.6,254.2L1224.2,256.8L1221.6,259.4ZM1227.6,256.4L1230.2,253.8L1232.8,256.4L1230.2,259.0ZM1220.8,256.0L1223.4,253.4L1226.0,256.0L1223.4,258.6ZM1215.0,255.6L1217.6,253.0L1220.2,255.6L1217.6,258.2ZM1226.0,255.2L1228.6,252.6L1231.2,255.2L1228.6,257.8ZM1229.2,254.6L1231.8,252.0L1234.4,254.6L1231.8,257.2ZM1217.1,253.9L1219.7,251.3L1222.3,253.9L1219.7,256.5ZM1228.0,253.2L1230.6,250.6L1233.2,253.2L1230.6,255.8ZM1205.8,252.6L1208.4,250.0L1211.0,252.6L1208.4,255.2ZM1208.7,251.9L1211.3,249.3L1213.9,251.9L1211.3,254.5ZM1209.4,251.2L1212.0,248.6L1214.6,251.2L1212.0,253.8ZM1227.8,250.6L1230.4,248.0L1233.0,250.6L1230.4,253.2ZM1221.9,249.9L1224.5,247.3L1227.1,249.9L1224.5,252.5ZM1222.6,249.2L1225.2,246.6L1227.8,249.2L1225.2,251.8ZM1212.2,248.6L1214.8,246.0L1217.4,248.6L1214.8,251.2ZM1217.2,247.9L1219.8,245.3L1222.4,247.9L1219.8,250.5ZM1226.6,247.3L1229.2,244.7L1231.8,247.3L1229.2,249.9ZM1207.7,246.6L1210.3,244.0L1212.9,246.6L1210.3,249.2ZM1208.1,245.9L1210.7,243.3L1213.3,245.9L1210.7,248.5ZM1206.4,245.3L1209.0,242.7L1211.6,245.3L1209.0,247.9ZM1216.5,244.6L1219.1,242.0L1221.7,244.6L1219.1,247.2ZM1220.4,244.3L1223.0,241.7L1225.6,244.3L1223.0,246.9ZM1217.8,243.8L1220.4,241.2L1223.0,243.8L1220.4,246.4ZM1216.4,243.2L1219.0,240.6L1221.6,243.2L1219.0,245.8ZM1217.3,242.3L1219.9,239.7L1222.5,242.3L1219.9,244.9ZM1214.4,241.4L1217.0,238.8L1219.6,241.4L1217.0,244.0ZM1221.4,240.3L1224.0,237.7L1226.6,240.3L1224.0,242.9ZM1216.0,239.1L1218.6,236.5L1221.2,239.1L1218.6,241.7ZM1214.9,237.8L1217.5,235.2L1220.1,237.8L1217.5,240.4ZM1215.6,236.3L1218.2,233.7L1220.8,236.3L1218.2,238.9ZM1220.3,234.8L1222.9,232.2L1225.5,234.8L1222.9,237.4ZM1215.6,233.2L1218.2,230.6L1220.8,233.2L1218.2,235.8ZM1221.0,231.5L1223.6,228.9L1226.2,231.5L1223.6,234.1ZM1215.8,229.7L1218.4,227.1L1221.0,229.7L1218.4,232.3ZM1216.8,227.8L1219.4,225.2L1222.0,227.8L1219.4,230.4ZM1213.4,225.8L1216.0,223.2L1218.6,225.8L1216.0,228.4ZM1221.0,222.7L1223.6,220.1L1226.2,222.7L1223.6,225.3ZM1217.3,207.6L1219.9,205.0L1222.5,207.6L1219.9,210.2ZM1217.3,206.0L1219.9,203.4L1222.5,206.0L1219.9,208.6ZM1217.3,201.2L1219.9,198.6L1222.5,201.2L1219.9,203.8ZM1217.3,191.7L1219.9,189.1L1222.5,191.7L1219.9,194.3ZM1217.3,158.4L1219.9,155.8L1222.5,158.4L1219.9,161.0Z" fill="#d80000"/>
<line x1="1219.90" y1="244.43" x2="1219.90" y2="222.67" stroke="#d80000" stroke-width="2.0" stroke-linecap="butt"/>
<line x1="1219.90" y1="274.28" x2="1219.90" y2="261.58" stroke="#d80000" stroke-width="2.0" stroke-linecap="butt"/>
<path d="M1206.5,261.6H1233.3V244.4H1206.5Z" stroke="#d80000" stroke-width="2.2" fill="none" />
<line x1="1206.50" y1="255.23" x2="1233.30" y2="255.23" stroke="#d80000" stroke-width="2.0" stroke-linecap="butt"/>
<path d="M1246.5,272.7L1249.1,270.1L1251.7,272.7L1249.1,275.3ZM1249.3,272.2L1251.9,269.6L1254.5,272.2L1251.9,274.8ZM1247.8,271.8L1250.4,269.2L1253.0,271.8L1250.4,274.4ZM1248.5,271.5L1251.1,268.9L1253.7,271.5L1251.1,274.1ZM1247.6,271.1L1250.2,268.5L1252.8,271.1L1250.2,273.7ZM1253.6,270.7L1256.2,268.1L1258.8,270.7L1256.2,273.3ZM1244.0,270.4L1246.6,267.8L1249.2,270.4L1246.6,273.0ZM1253.0,270.0L1255.6,267.4L1258.2,270.0L1255.6,272.6ZM1238.0,269.7L1240.6,267.1L1243.2,269.7L1240.6,272.3ZM1245.0,269.3L1247.6,266.7L1250.2,269.3L1247.6,271.9ZM1245.8,269.0L1248.4,266.4L1251.0,269.0L1248.4,271.6ZM1241.2,268.6L1243.8,266.0L1246.4,268.6L1243.8,271.2ZM1255.6,268.3L1258.2,265.7L1260.8,268.3L1258.2,270.9ZM1245.2,267.9L1247.8,265.3L1250.4,267.9L1247.8,270.5ZM1256.7,267.5L1259.3,264.9L1261.9,267.5L1259.3,270.1ZM1260.7,267.2L1263.3,264.6L1265.9,267.2L1263.3,269.8ZM1243.9,266.8L1246.5,264.2L1249.1,266.8L1246.5,269.4ZM1259.2,266.5L1261.8,263.9L1264.4,266.5L1261.8,269.1ZM1257.2,266.1L1259.8,263.5L1262.4,266.1L1259.8,268.7ZM1253.8,265.7L1256.4,263.1L1259.0,265.7L1256.4,268.3ZM1238.5,265.3L1241.1,262.7L1243.7,265.3L1241.1,267.9ZM1248.8,264.9L1251.4,262.3L1254.0,264.9L1251.4,267.5ZM1252.8,264.5L1255.4,261.9L1258.0,264.5L1255.4,267.1ZM1244.9,264.1L1247.5,261.5L1250.1,264.1L1247.5,266.7ZM1243.2,263.7L1245.8,261.1L1248.4,263.7L1245.8,266.3ZM1245.2,263.3L1247.8,260.7L1250.4,263.3L1247.8,265.9ZM1244.0,262.9L1246.6,260.3L1249.2,262.9L1246.6,265.5ZM1256.7,262.5L1259.3,259.9L1261.9,262.5L1259.3,265.1ZM1246.1,262.1L1248.7,259.5L1251.3,262.1L1248.7,264.7ZM1248.0,261.8L1250.6,259.2L1253.2,261.8L1250.6,264.4ZM1253.2,261.4L1255.8,258.8L1258.4,261.4L1255.8,264.0ZM1260.6,261.0L1263.2,258.4L1265.8,261.0L1263.2,263.6ZM1244.8,260.6L1247.4,258.0L1250.0,260.6L1247.4,263.2ZM1238.9,260.2L1241.5,257.6L1244.1,260.2L1241.5,262.8ZM1261.2,259.7L1263.8,257.1L1266.4,259.7L1263.8,262.3ZM1257.8,259.2L1260.4,256.6L1263.0,259.2L1260.4,261.8ZM1256.8,258.6L1259.4,256.0L1262.0,258.6L1259.4,261.2ZM1250.4,258.0L1253.0,255.4L1255.6,258.0L1253.0,260.6ZM1243.4,257.5L1246.0,254.9L1248.6,257.5L1246.0,260.1ZM1241.5,256.9L1244.1,254.3L1246.7,256.9L1244.1,259.5ZM1245.1,256.3L1247.7,253.7L1250.3,256.3L1247.7,258.9ZM1248.9,255.8L1251.5,253.2L1254.1,255.8L1251.5,258.4ZM1239.4,255.2L1242.0,252.6L1244.6,255.2L1242.0,257.8ZM1254.6,254.7L1257.2,252.1L1259.8,254.7L1257.2,257.3ZM1255.3,254.1L1257.9,251.5L1260.5,254.1L1257.9,256.7ZM1238.1,253.5L1240.7,250.9L1243.3,253.5L1240.7,256.1ZM1258.0,253.0L1260.6,250.4L1263.2,253.0L1260.6,255.6ZM1249.6,252.4L1252.2,249.8L1254.8,252.4L1252.2,255.0ZM1259.9,251.9L1262.5,249.3L1265.1,251.9L1262.5,254.5ZM1249.2,251.3L1251.8,248.7L1254.4,251.3L1251.8,253.9ZM1256.9,250.7L1259.5,248.1L1262.1,250.7L1259.5,253.3ZM1249.4,250.4L1252.0,247.8L1254.6,250.4L1252.0,253.0ZM1250.8,249.9L1253.4,247.3L1256.0,249.9L1253.4,252.5ZM1249.8,249.2L1252.4,246.6L1255.0,249.2L1252.4,251.8ZM1245.4,248.3L1248.0,245.7L1250.6,248.3L1248.0,250.9ZM1246.6,247.2L1249.2,244.6L1251.8,247.2L1249.2,249.8ZM1247.4,246.0L1250.0,243.4L1252.6,246.0L1250.0,248.6ZM1248.9,244.7L1251.5,242.1L1254.1,244.7L1251.5,247.3ZM1248.6,243.2L1251.2,240.6L1253.8,243.2L1251.2,245.8ZM1250.2,241.6L1252.8,239.0L1255.4,241.6L1252.8,244.2ZM1251.3,239.8L1253.9,237.2L1256.5,239.8L1253.9,242.4ZM1248.9,238.0L1251.5,235.4L1254.1,238.0L1251.5,240.6ZM1248.2,236.0L1250.8,233.4L1253.4,236.0L1250.8,238.6ZM1249.9,234.0L1252.5,231.4L1255.1,234.0L1252.5,236.6ZM1253.9,231.8L1256.5,229.2L1259.1,231.8L1256.5,234.4ZM1252.4,229.5L1255.0,226.9L1257.6,229.5L1255.0,232.1ZM1251.2,227.2L1253.8,224.6L1256.4,227.2L1253.8,229.8ZM1252.7,223.5L1255.3,220.9L1257.9,223.5L1255.3,226.1ZM1249.8,209.2L1252.4,206.6L1255.0,209.2L1252.4,211.8ZM1249.8,158.4L1252.4,155.8L1255.0,158.4L1252.4,161.0Z" fill="#0000ff"/>
<line x1="1252.40" y1="250.46" x2="1252.40" y2="223.47" stroke="#0000ff" stroke-width="2.0" stroke-linecap="butt"/>
<line x1="1252.40" y1="272.70" x2="1252.40" y2="266.66" stroke="#0000ff" stroke-width="2.0" stroke-linecap="butt"/>
<path d="M1238.8,266.7H1266.0V250.5H1238.8Z" stroke="#0000ff" stroke-width="2.2" fill="none" />
<line x1="1238.80" y1="259.99" x2="1266.00" y2="259.99" stroke="#0000ff" stroke-width="2.0" stroke-linecap="butt"/>
<line x1="1027.30" y1="86.00" x2="1027.30" y2="286.40" stroke="#000" stroke-width="2.0" stroke-linecap="butt"/>
<line x1="1020.00" y1="285.40" x2="1285.60" y2="285.40" stroke="#000" stroke-width="2.2" stroke-linecap="butt"/>
<line x1="1019.20" y1="285.40" x2="1027.30" y2="285.40" stroke="#000" stroke-width="2.0" stroke-linecap="butt"/>
<line x1="1022.70" y1="245.70" x2="1027.30" y2="245.70" stroke="#000" stroke-width="2.0" stroke-linecap="butt"/>
<line x1="1019.20" y1="206.00" x2="1027.30" y2="206.00" stroke="#000" stroke-width="2.0" stroke-linecap="butt"/>
<line x1="1022.70" y1="166.30" x2="1027.30" y2="166.30" stroke="#000" stroke-width="2.0" stroke-linecap="butt"/>
<line x1="1019.20" y1="126.60" x2="1027.30" y2="126.60" stroke="#000" stroke-width="2.0" stroke-linecap="butt"/>
<line x1="1019.20" y1="86.50" x2="1027.30" y2="86.50" stroke="#000" stroke-width="2.0" stroke-linecap="butt"/>
<line x1="1091.70" y1="285.40" x2="1091.70" y2="292.90" stroke="#000" stroke-width="2.2" stroke-linecap="butt"/>
<line x1="1219.80" y1="285.40" x2="1219.80" y2="292.90" stroke="#000" stroke-width="2.2" stroke-linecap="butt"/>
<path d="M1185.0,29.1H1221.4V43.7H1185.0Z" stroke="#000" stroke-width="4.0" fill="none" />
<path d="M1185.0,50.9H1221.4V65.2H1185.0Z" stroke="#d80000" stroke-width="4.0" fill="none" />
<path d="M1185.0,72.1H1221.4V87.1H1185.0Z" stroke="#0000ff" stroke-width="4.0" fill="none" />
<path d="M940.50,494.80a2.5,2.5 0 1,0 5.0,0a2.5,2.5 0 1,0 -5.0,0M946.50,494.80a2.5,2.5 0 1,0 5.0,0a2.5,2.5 0 1,0 -5.0,0M949.10,494.80a2.5,2.5 0 1,0 5.0,0a2.5,2.5 0 1,0 -5.0,0M887.10,535.60a2.5,2.5 0 1,0 5.0,0a2.5,2.5 0 1,0 -5.0,0M937.50,535.60a2.5,2.5 0 1,0 5.0,0a2.5,2.5 0 1,0 -5.0,0M939.50,535.60a2.5,2.5 0 1,0 5.0,0a2.5,2.5 0 1,0 -5.0,0M941.50,535.60a2.5,2.5 0 1,0 5.0,0a2.5,2.5 0 1,0 -5.0,0M943.50,535.60a2.5,2.5 0 1,0 5.0,0a2.5,2.5 0 1,0 -5.0,0M911.10,556.00a2.5,2.5 0 1,0 5.0,0a2.5,2.5 0 1,0 -5.0,0M931.50,556.00a2.5,2.5 0 1,0 5.0,0a2.5,2.5 0 1,0 -5.0,0M934.50,556.00a2.5,2.5 0 1,0 5.0,0a2.5,2.5 0 1,0 -5.0,0M947.50,556.00a2.5,2.5 0 1,0 5.0,0a2.5,2.5 0 1,0 -5.0,0M867.90,576.40a2.5,2.5 0 1,0 5.0,0a2.5,2.5 0 1,0 -5.0,0M879.50,576.40a2.5,2.5 0 1,0 5.0,0a2.5,2.5 0 1,0 -5.0,0M897.50,576.40a2.5,2.5 0 1,0 5.0,0a2.5,2.5 0 1,0 -5.0,0M913.10,576.40a2.5,2.5 0 1,0 5.0,0a2.5,2.5 0 1,0 -5.0,0M818.10,596.80a2.5,2.5 0 1,0 5.0,0a2.5,2.5 0 1,0 -5.0,0M884.10,596.80a2.5,2.5 0 1,0 5.0,0a2.5,2.5 0 1,0 -5.0,0M912.50,596.80a2.5,2.5 0 1,0 5.0,0a2.5,2.5 0 1,0 -5.0,0M915.50,596.80a2.5,2.5 0 1,0 5.0,0a2.5,2.5 0 1,0 -5.0,0M927.90,596.80a2.5,2.5 0 1,0 5.0,0a2.5,2.5 0 1,0 -5.0,0M933.10,596.80a2.5,2.5 0 1,0 5.0,0a2.5,2.5 0 1,0 -5.0,0M940.10,596.80a2.5,2.5 0 1,0 5.0,0a2.5,2.5 0 1,0 -5.0,0M889.90,617.20a2.5,2.5 0 1,0 5.0,0a2.5,2.5 0 1,0 -5.0,0M891.50,617.20a2.5,2.5 0 1,0 5.0,0a2.5,2.5 0 1,0 -5.0,0M902.50,617.20a2.5,2.5 0 1,0 5.0,0a2.5,2.5 0 1,0 -5.0,0M913.10,617.20a2.5,2.5 0 1,0 5.0,0a2.5,2.5 0 1,0 -5.0,0M869.50,637.60a2.5,2.5 0 1,0 5.0,0a2.5,2.5 0 1,0 -5.0,0M896.50,637.60a2.5,2.5 0 1,0 5.0,0a2.5,2.5 0 1,0 -5.0,0M904.50,637.60a2.5,2.5 0 1,0 5.0,0a2.5,2.5 0 1,0 -5.0,0M910.50,637.60a2.5,2.5 0 1,0 5.0,0a2.5,2.5 0 1,0 -5.0,0M916.50,637.60a2.5,2.5 0 1,0 5.0,0a2.5,2.5 0 1,0 -5.0,0M918.50,637.60a2.5,2.5 0 1,0 5.0,0a2.5,2.5 0 1,0 -5.0,0M942.50,637.60a2.5,2.5 0 1,0 5.0,0a2.5,2.5 0 1,0 -5.0,0M763.10,658.00a2.5,2.5 0 1,0 5.0,0a2.5,2.5 0 1,0 -5.0,0M771.10,658.00a2.5,2.5 0 1,0 5.0,0a2.5,2.5 0 1,0 -5.0,0M816.50,658.00a2.5,2.5 0 1,0 5.0,0a2.5,2.5 0 1,0 -5.0,0M823.10,658.00a2.5,2.5 0 1,0 5.0,0a2.5,2.5 0 1,0 -5.0,0M896.50,658.00a2.5,2.5 0 1,0 5.0,0a2.5,2.5 0 1,0 -5.0,0M906.50,658.00a2.5,2.5 0 1,0 5.0,0a2.5,2.5 0 1,0 -5.0,0M912.10,658.00a2.5,2.5 0 1,0 5.0,0a2.5,2.5 0 1,0 -5.0,0M924.50,658.00a2.5,2.5 0 1,0 5.0,0a2.5,2.5 0 1,0 -5.0,0M851.90,678.40a2.5,2.5 0 1,0 5.0,0a2.5,2.5 0 1,0 -5.0,0M867.50,678.40a2.5,2.5 0 1,0 5.0,0a2.5,2.5 0 1,0 -5.0,0M879.50,678.40a2.5,2.5 0 1,0 5.0,0a2.5,2.5 0 1,0 -5.0,0M885.10,678.40a2.5,2.5 0 1,0 5.0,0a2.5,2.5 0 1,0 -5.0,0M899.10,678.40a2.5,2.5 0 1,0 5.0,0a2.5,2.5 0 1,0 -5.0,0M902.50,678.40a2.5,2.5 0 1,0 5.0,0a2.5,2.5 0 1,0 -5.0,0M909.10,678.40a2.5,2.5 0 1,0 5.0,0a2.5,2.5 0 1,0 -5.0,0M911.50,678.40a2.5,2.5 0 1,0 5.0,0a2.5,2.5 0 1,0 -5.0,0M913.10,678.40a2.5,2.5 0 1,0 5.0,0a2.5,2.5 0 1,0 -5.0,0M934.10,678.40a2.5,2.5 0 1,0 5.0,0a2.5,2.5 0 1,0 -5.0,0" fill="#000"/>
<path d="M929.10,494.80a2.5,2.5 0 1,0 5.0,0a2.5,2.5 0 1,0 -5.0,0M936.50,494.80a2.5,2.5 0 1,0 5.0,0a2.5,2.5 0 1,0 -5.0,0M943.50,494.80a2.5,2.5 0 1,0 5.0,0a2.5,2.5 0 1,0 -5.0,0M916.50,535.60a2.5,2.5 0 1,0 5.0,0a2.5,2.5 0 1,0 -5.0,0M946.50,535.60a2.5,2.5 0 1,0 5.0,0a2.5,2.5 0 1,0 -5.0,0M948.50,535.60a2.5,2.5 0 1,0 5.0,0a2.5,2.5 0 1,0 -5.0,0M901.50,556.00a2.5,2.5 0 1,0 5.0,0a2.5,2.5 0 1,0 -5.0,0M904.50,556.00a2.5,2.5 0 1,0 5.0,0a2.5,2.5 0 1,0 -5.0,0M907.50,556.00a2.5,2.5 0 1,0 5.0,0a2.5,2.5 0 1,0 -5.0,0M910.50,556.00a2.5,2.5 0 1,0 5.0,0a2.5,2.5 0 1,0 -5.0,0M916.10,556.00a2.5,2.5 0 1,0 5.0,0a2.5,2.5 0 1,0 -5.0,0M917.50,556.00a2.5,2.5 0 1,0 5.0,0a2.5,2.5 0 1,0 -5.0,0M939.50,556.00a2.5,2.5 0 1,0 5.0,0a2.5,2.5 0 1,0 -5.0,0M942.50,556.00a2.5,2.5 0 1,0 5.0,0a2.5,2.5 0 1,0 -5.0,0M944.50,556.00a2.5,2.5 0 1,0 5.0,0a2.5,2.5 0 1,0 -5.0,0M885.10,576.40a2.5,2.5 0 1,0 5.0,0a2.5,2.5 0 1,0 -5.0,0M893.10,576.40a2.5,2.5 0 1,0 5.0,0a2.5,2.5 0 1,0 -5.0,0M923.10,576.40a2.5,2.5 0 1,0 5.0,0a2.5,2.5 0 1,0 -5.0,0M927.90,576.40a2.5,2.5 0 1,0 5.0,0a2.5,2.5 0 1,0 -5.0,0M937.50,576.40a2.5,2.5 0 1,0 5.0,0a2.5,2.5 0 1,0 -5.0,0M938.50,576.40a2.5,2.5 0 1,0 5.0,0a2.5,2.5 0 1,0 -5.0,0M907.10,596.80a2.5,2.5 0 1,0 5.0,0a2.5,2.5 0 1,0 -5.0,0M909.50,596.80a2.5,2.5 0 1,0 5.0,0a2.5,2.5 0 1,0 -5.0,0M918.50,596.80a2.5,2.5 0 1,0 5.0,0a2.5,2.5 0 1,0 -5.0,0M941.50,596.80a2.5,2.5 0 1,0 5.0,0a2.5,2.5 0 1,0 -5.0,0M884.50,617.20a2.5,2.5 0 1,0 5.0,0a2.5,2.5 0 1,0 -5.0,0M893.50,617.20a2.5,2.5 0 1,0 5.0,0a2.5,2.5 0 1,0 -5.0,0M931.10,617.20a2.5,2.5 0 1,0 5.0,0a2.5,2.5 0 1,0 -5.0,0M933.50,617.20a2.5,2.5 0 1,0 5.0,0a2.5,2.5 0 1,0 -5.0,0M936.50,617.20a2.5,2.5 0 1,0 5.0,0a2.5,2.5 0 1,0 -5.0,0M879.90,637.60a2.5,2.5 0 1,0 5.0,0a2.5,2.5 0 1,0 -5.0,0M902.50,637.60a2.5,2.5 0 1,0 5.0,0a2.5,2.5 0 1,0 -5.0,0M887.90,658.00a2.5,2.5 0 1,0 5.0,0a2.5,2.5 0 1,0 -5.0,0M921.10,658.00a2.5,2.5 0 1,0 5.0,0a2.5,2.5 0 1,0 -5.0,0M929.10,658.00a2.5,2.5 0 1,0 5.0,0a2.5,2.5 0 1,0 -5.0,0M945.10,658.00a2.5,2.5 0 1,0 5.0,0a2.5,2.5 0 1,0 -5.0,0M905.90,678.40a2.5,2.5 0 1,0 5.0,0a2.5,2.5 0 1,0 -5.0,0M921.90,678.40a2.5,2.5 0 1,0 5.0,0a2.5,2.5 0 1,0 -5.0,0M923.50,678.40a2.5,2.5 0 1,0 5.0,0a2.5,2.5 0 1,0 -5.0,0" fill="#d80000"/>
<line x1="745.00" y1="473.60" x2="745.00" y2="698.80" stroke="#000" stroke-width="2.0" stroke-linecap="butt"/>
<line x1="737.00" y1="697.80" x2="986.00" y2="697.80" stroke="#000" stroke-width="2.0" stroke-linecap="butt"/>
<line x1="737.00" y1="698.80" x2="745.00" y2="698.80" stroke="#000" stroke-width="2.0" stroke-linecap="butt"/>
<line x1="740.50" y1="678.40" x2="745.00" y2="678.40" stroke="#000" stroke-width="2.0" stroke-linecap="butt"/>
<line x1="737.00" y1="658.00" x2="745.00" y2="658.00" stroke="#000" stroke-width="2.0" stroke-linecap="butt"/>
<line x1="740.50" y1="637.60" x2="745.00" y2="637.60" stroke="#000" stroke-width="2.0" stroke-linecap="butt"/>
<line x1="737.00" y1="617.20" x2="745.00" y2="617.20" stroke="#000" stroke-width="2.0" stroke-linecap="butt"/>
<line x1="740.50" y1="596.80" x2="745.00" y2="596.80" stroke="#000" stroke-width="2.0" stroke-linecap="butt"/>
<line x1="737.00" y1="576.40" x2="745.00" y2="576.40" stroke="#000" stroke-width="2.0" stroke-linecap="butt"/>
<line x1="740.50" y1="556.00" x2="745.00" y2="556.00" stroke="#000" stroke-width="2.0" stroke-linecap="butt"/>
<line x1="737.00" y1="535.60" x2="745.00" y2="535.60" stroke="#000" stroke-width="2.0" stroke-linecap="butt"/>
<line x1="740.50" y1="515.20" x2="745.00" y2="515.20" stroke="#000" stroke-width="2.0" stroke-linecap="butt"/>
<line x1="737.00" y1="494.80" x2="745.00" y2="494.80" stroke="#000" stroke-width="2.0" stroke-linecap="butt"/>
<line x1="740.50" y1="474.40" x2="745.00" y2="474.40" stroke="#000" stroke-width="2.0" stroke-linecap="butt"/>
<line x1="779.40" y1="697.80" x2="779.40" y2="707.00" stroke="#000" stroke-width="2.0" stroke-linecap="butt"/>
<line x1="836.60" y1="697.80" x2="836.60" y2="707.00" stroke="#000" stroke-width="2.0" stroke-linecap="butt"/>
<line x1="893.80" y1="697.80" x2="893.80" y2="707.00" stroke="#000" stroke-width="2.0" stroke-linecap="butt"/>
<line x1="951.00" y1="697.80" x2="951.00" y2="707.00" stroke="#000" stroke-width="2.0" stroke-linecap="butt"/>
<line x1="750.80" y1="697.80" x2="750.80" y2="702.50" stroke="#000" stroke-width="2.0" stroke-linecap="butt"/>
<line x1="808.00" y1="697.80" x2="808.00" y2="702.50" stroke="#000" stroke-width="2.0" stroke-linecap="butt"/>
<line x1="865.20" y1="697.80" x2="865.20" y2="702.50" stroke="#000" stroke-width="2.0" stroke-linecap="butt"/>
<line x1="922.40" y1="697.80" x2="922.40" y2="702.50" stroke="#000" stroke-width="2.0" stroke-linecap="butt"/>
<line x1="979.60" y1="697.80" x2="979.60" y2="702.50" stroke="#000" stroke-width="2.0" stroke-linecap="butt"/>
<circle cx="760.40" cy="479.00" r="4.5" fill="#000"/>
<circle cx="760.40" cy="502.00" r="4.5" fill="#d80000"/>
<rect x="998.30" y="487.65" width="39.06" height="14.30" fill="#000"/>
<rect x="998.30" y="528.45" width="33.48" height="14.30" fill="#000"/>
<rect x="998.30" y="548.85" width="16.74" height="14.30" fill="#000"/>
<rect x="998.30" y="569.25" width="22.32" height="14.30" fill="#000"/>
<rect x="998.30" y="589.65" width="39.06" height="14.30" fill="#000"/>
<rect x="998.30" y="610.05" width="16.74" height="14.30" fill="#000"/>
<rect x="998.30" y="630.45" width="50.22" height="14.30" fill="#000"/>
<rect x="998.30" y="650.85" width="44.64" height="14.30" fill="#000"/>
<rect x="998.30" y="671.25" width="66.96" height="14.30" fill="#000"/>
<line x1="998.30" y1="473.80" x2="998.30" y2="699.90" stroke="#000" stroke-width="2.0" stroke-linecap="butt"/>
<line x1="997.30" y1="698.90" x2="1072.20" y2="698.90" stroke="#000" stroke-width="2.0" stroke-linecap="butt"/>
<line x1="998.30" y1="698.90" x2="998.30" y2="706.90" stroke="#000" stroke-width="2.0" stroke-linecap="butt"/>
<line x1="1026.00" y1="698.90" x2="1026.00" y2="706.90" stroke="#000" stroke-width="2.0" stroke-linecap="butt"/>
<line x1="1054.10" y1="698.90" x2="1054.10" y2="706.90" stroke="#000" stroke-width="2.0" stroke-linecap="butt"/>
<rect x="1102.40" y="487.65" width="66.99" height="14.30" fill="#d80000"/>
<rect x="1102.40" y="528.45" width="38.28" height="14.30" fill="#d80000"/>
<rect x="1102.40" y="548.85" width="51.04" height="14.30" fill="#d80000"/>
<rect x="1102.40" y="569.25" width="19.14" height="14.30" fill="#d80000"/>
<rect x="1102.40" y="589.65" width="19.14" height="14.30" fill="#d80000"/>
<rect x="1102.40" y="610.05" width="22.33" height="14.30" fill="#d80000"/>
<rect x="1102.40" y="630.45" width="12.76" height="14.30" fill="#d80000"/>
<rect x="1102.40" y="650.85" width="15.95" height="14.30" fill="#d80000"/>
<rect x="1102.40" y="671.25" width="9.57" height="14.30" fill="#d80000"/>
<line x1="1102.40" y1="473.80" x2="1102.40" y2="699.90" stroke="#000" stroke-width="2.0" stroke-linecap="butt"/>
<line x1="1101.40" y1="698.90" x2="1175.50" y2="698.90" stroke="#000" stroke-width="2.0" stroke-linecap="butt"/>
<line x1="1102.40" y1="698.90" x2="1102.40" y2="706.90" stroke="#000" stroke-width="2.0" stroke-linecap="butt"/>
<line x1="1134.30" y1="698.90" x2="1134.30" y2="706.90" stroke="#000" stroke-width="2.0" stroke-linecap="butt"/>
<line x1="1166.20" y1="698.90" x2="1166.20" y2="706.90" stroke="#000" stroke-width="2.0" stroke-linecap="butt"/>
<path d="M763.50,780.95a2.5,2.5 0 1,0 5.0,0a2.5,2.5 0 1,0 -5.0,0M949.10,830.85a2.5,2.5 0 1,0 5.0,0a2.5,2.5 0 1,0 -5.0,0M879.50,855.80a2.5,2.5 0 1,0 5.0,0a2.5,2.5 0 1,0 -5.0,0M937.50,855.80a2.5,2.5 0 1,0 5.0,0a2.5,2.5 0 1,0 -5.0,0M939.50,855.80a2.5,2.5 0 1,0 5.0,0a2.5,2.5 0 1,0 -5.0,0M942.50,855.80a2.5,2.5 0 1,0 5.0,0a2.5,2.5 0 1,0 -5.0,0M949.10,855.80a2.5,2.5 0 1,0 5.0,0a2.5,2.5 0 1,0 -5.0,0M887.10,880.75a2.5,2.5 0 1,0 5.0,0a2.5,2.5 0 1,0 -5.0,0M940.50,880.75a2.5,2.5 0 1,0 5.0,0a2.5,2.5 0 1,0 -5.0,0M818.50,905.70a2.5,2.5 0 1,0 5.0,0a2.5,2.5 0 1,0 -5.0,0M870.10,905.70a2.5,2.5 0 1,0 5.0,0a2.5,2.5 0 1,0 -5.0,0M897.50,905.70a2.5,2.5 0 1,0 5.0,0a2.5,2.5 0 1,0 -5.0,0M902.50,905.70a2.5,2.5 0 1,0 5.0,0a2.5,2.5 0 1,0 -5.0,0M912.50,905.70a2.5,2.5 0 1,0 5.0,0a2.5,2.5 0 1,0 -5.0,0M915.50,905.70a2.5,2.5 0 1,0 5.0,0a2.5,2.5 0 1,0 -5.0,0M918.50,905.70a2.5,2.5 0 1,0 5.0,0a2.5,2.5 0 1,0 -5.0,0M946.50,905.70a2.5,2.5 0 1,0 5.0,0a2.5,2.5 0 1,0 -5.0,0M949.10,905.70a2.5,2.5 0 1,0 5.0,0a2.5,2.5 0 1,0 -5.0,0M823.50,930.65a2.5,2.5 0 1,0 5.0,0a2.5,2.5 0 1,0 -5.0,0M851.90,930.65a2.5,2.5 0 1,0 5.0,0a2.5,2.5 0 1,0 -5.0,0M867.90,930.65a2.5,2.5 0 1,0 5.0,0a2.5,2.5 0 1,0 -5.0,0M884.50,930.65a2.5,2.5 0 1,0 5.0,0a2.5,2.5 0 1,0 -5.0,0M904.50,930.65a2.5,2.5 0 1,0 5.0,0a2.5,2.5 0 1,0 -5.0,0M910.50,930.65a2.5,2.5 0 1,0 5.0,0a2.5,2.5 0 1,0 -5.0,0M915.50,930.65a2.5,2.5 0 1,0 5.0,0a2.5,2.5 0 1,0 -5.0,0M935.50,930.65a2.5,2.5 0 1,0 5.0,0a2.5,2.5 0 1,0 -5.0,0M939.50,930.65a2.5,2.5 0 1,0 5.0,0a2.5,2.5 0 1,0 -5.0,0M946.50,930.65a2.5,2.5 0 1,0 5.0,0a2.5,2.5 0 1,0 -5.0,0M949.10,930.65a2.5,2.5 0 1,0 5.0,0a2.5,2.5 0 1,0 -5.0,0M771.50,955.60a2.5,2.5 0 1,0 5.0,0a2.5,2.5 0 1,0 -5.0,0M816.90,955.60a2.5,2.5 0 1,0 5.0,0a2.5,2.5 0 1,0 -5.0,0M852.50,955.60a2.5,2.5 0 1,0 5.0,0a2.5,2.5 0 1,0 -5.0,0M867.50,955.60a2.5,2.5 0 1,0 5.0,0a2.5,2.5 0 1,0 -5.0,0M879.50,955.60a2.5,2.5 0 1,0 5.0,0a2.5,2.5 0 1,0 -5.0,0M881.90,955.60a2.5,2.5 0 1,0 5.0,0a2.5,2.5 0 1,0 -5.0,0M884.30,955.60a2.5,2.5 0 1,0 5.0,0a2.5,2.5 0 1,0 -5.0,0M886.70,955.60a2.5,2.5 0 1,0 5.0,0a2.5,2.5 0 1,0 -5.0,0M889.10,955.60a2.5,2.5 0 1,0 5.0,0a2.5,2.5 0 1,0 -5.0,0M891.50,955.60a2.5,2.5 0 1,0 5.0,0a2.5,2.5 0 1,0 -5.0,0M893.90,955.60a2.5,2.5 0 1,0 5.0,0a2.5,2.5 0 1,0 -5.0,0M896.30,955.60a2.5,2.5 0 1,0 5.0,0a2.5,2.5 0 1,0 -5.0,0M898.70,955.60a2.5,2.5 0 1,0 5.0,0a2.5,2.5 0 1,0 -5.0,0M901.10,955.60a2.5,2.5 0 1,0 5.0,0a2.5,2.5 0 1,0 -5.0,0M903.50,955.60a2.5,2.5 0 1,0 5.0,0a2.5,2.5 0 1,0 -5.0,0M905.90,955.60a2.5,2.5 0 1,0 5.0,0a2.5,2.5 0 1,0 -5.0,0M908.30,955.60a2.5,2.5 0 1,0 5.0,0a2.5,2.5 0 1,0 -5.0,0M910.70,955.60a2.5,2.5 0 1,0 5.0,0a2.5,2.5 0 1,0 -5.0,0M913.10,955.60a2.5,2.5 0 1,0 5.0,0a2.5,2.5 0 1,0 -5.0,0M915.50,955.60a2.5,2.5 0 1,0 5.0,0a2.5,2.5 0 1,0 -5.0,0M917.90,955.60a2.5,2.5 0 1,0 5.0,0a2.5,2.5 0 1,0 -5.0,0M920.30,955.60a2.5,2.5 0 1,0 5.0,0a2.5,2.5 0 1,0 -5.0,0M922.70,955.60a2.5,2.5 0 1,0 5.0,0a2.5,2.5 0 1,0 -5.0,0M925.10,955.60a2.5,2.5 0 1,0 5.0,0a2.5,2.5 0 1,0 -5.0,0M927.50,955.60a2.5,2.5 0 1,0 5.0,0a2.5,2.5 0 1,0 -5.0,0M929.90,955.60a2.5,2.5 0 1,0 5.0,0a2.5,2.5 0 1,0 -5.0,0M932.30,955.60a2.5,2.5 0 1,0 5.0,0a2.5,2.5 0 1,0 -5.0,0M934.70,955.60a2.5,2.5 0 1,0 5.0,0a2.5,2.5 0 1,0 -5.0,0M937.10,955.60a2.5,2.5 0 1,0 5.0,0a2.5,2.5 0 1,0 -5.0,0M939.50,955.60a2.5,2.5 0 1,0 5.0,0a2.5,2.5 0 1,0 -5.0,0M941.90,955.60a2.5,2.5 0 1,0 5.0,0a2.5,2.5 0 1,0 -5.0,0M944.30,955.60a2.5,2.5 0 1,0 5.0,0a2.5,2.5 0 1,0 -5.0,0M946.70,955.60a2.5,2.5 0 1,0 5.0,0a2.5,2.5 0 1,0 -5.0,0M949.10,955.60a2.5,2.5 0 1,0 5.0,0a2.5,2.5 0 1,0 -5.0,0" fill="#000"/>
<path d="M945.50,855.80a2.5,2.5 0 1,0 5.0,0a2.5,2.5 0 1,0 -5.0,0M929.50,880.75a2.5,2.5 0 1,0 5.0,0a2.5,2.5 0 1,0 -5.0,0M936.50,880.75a2.5,2.5 0 1,0 5.0,0a2.5,2.5 0 1,0 -5.0,0M949.10,880.75a2.5,2.5 0 1,0 5.0,0a2.5,2.5 0 1,0 -5.0,0M933.10,905.70a2.5,2.5 0 1,0 5.0,0a2.5,2.5 0 1,0 -5.0,0M938.50,905.70a2.5,2.5 0 1,0 5.0,0a2.5,2.5 0 1,0 -5.0,0M941.50,905.70a2.5,2.5 0 1,0 5.0,0a2.5,2.5 0 1,0 -5.0,0M889.50,930.65a2.5,2.5 0 1,0 5.0,0a2.5,2.5 0 1,0 -5.0,0M893.50,930.65a2.5,2.5 0 1,0 5.0,0a2.5,2.5 0 1,0 -5.0,0M901.50,930.65a2.5,2.5 0 1,0 5.0,0a2.5,2.5 0 1,0 -5.0,0M922.50,930.65a2.5,2.5 0 1,0 5.0,0a2.5,2.5 0 1,0 -5.0,0M924.50,930.65a2.5,2.5 0 1,0 5.0,0a2.5,2.5 0 1,0 -5.0,0M932.50,930.65a2.5,2.5 0 1,0 5.0,0a2.5,2.5 0 1,0 -5.0,0M944.50,930.65a2.5,2.5 0 1,0 5.0,0a2.5,2.5 0 1,0 -5.0,0M889.50,955.60a2.5,2.5 0 1,0 5.0,0a2.5,2.5 0 1,0 -5.0,0M917.50,955.60a2.5,2.5 0 1,0 5.0,0a2.5,2.5 0 1,0 -5.0,0M921.50,955.60a2.5,2.5 0 1,0 5.0,0a2.5,2.5 0 1,0 -5.0,0M937.50,955.60a2.5,2.5 0 1,0 5.0,0a2.5,2.5 0 1,0 -5.0,0M943.50,955.60a2.5,2.5 0 1,0 5.0,0a2.5,2.5 0 1,0 -5.0,0M949.50,955.60a2.5,2.5 0 1,0 5.0,0a2.5,2.5 0 1,0 -5.0,0" fill="#d80000"/>
<line x1="744.70" y1="756.00" x2="744.70" y2="981.20" stroke="#000" stroke-width="2.0" stroke-linecap="butt"/>
<line x1="737.00" y1="980.40" x2="986.40" y2="980.40" stroke="#000" stroke-width="2.0" stroke-linecap="butt"/>
<line x1="740.20" y1="980.55" x2="744.70" y2="980.55" stroke="#000" stroke-width="2.0" stroke-linecap="butt"/>
<line x1="737.00" y1="955.60" x2="744.70" y2="955.60" stroke="#000" stroke-width="2.0" stroke-linecap="butt"/>
<line x1="740.20" y1="930.65" x2="744.70" y2="930.65" stroke="#000" stroke-width="2.0" stroke-linecap="butt"/>
<line x1="737.00" y1="905.70" x2="744.70" y2="905.70" stroke="#000" stroke-width="2.0" stroke-linecap="butt"/>
<line x1="740.20" y1="880.75" x2="744.70" y2="880.75" stroke="#000" stroke-width="2.0" stroke-linecap="butt"/>
<line x1="737.00" y1="855.80" x2="744.70" y2="855.80" stroke="#000" stroke-width="2.0" stroke-linecap="butt"/>
<line x1="740.20" y1="830.85" x2="744.70" y2="830.85" stroke="#000" stroke-width="2.0" stroke-linecap="butt"/>
<line x1="737.00" y1="805.90" x2="744.70" y2="805.90" stroke="#000" stroke-width="2.0" stroke-linecap="butt"/>
<line x1="740.20" y1="780.95" x2="744.70" y2="780.95" stroke="#000" stroke-width="2.0" stroke-linecap="butt"/>
<line x1="737.00" y1="756.00" x2="744.70" y2="756.00" stroke="#000" stroke-width="2.0" stroke-linecap="butt"/>
<line x1="779.80" y1="980.40" x2="779.80" y2="989.50" stroke="#000" stroke-width="2.0" stroke-linecap="butt"/>
<line x1="837.00" y1="980.40" x2="837.00" y2="989.50" stroke="#000" stroke-width="2.0" stroke-linecap="butt"/>
<line x1="894.20" y1="980.40" x2="894.20" y2="989.50" stroke="#000" stroke-width="2.0" stroke-linecap="butt"/>
<line x1="951.40" y1="980.40" x2="951.40" y2="989.50" stroke="#000" stroke-width="2.0" stroke-linecap="butt"/>
<line x1="751.20" y1="980.40" x2="751.20" y2="985.00" stroke="#000" stroke-width="2.0" stroke-linecap="butt"/>
<line x1="808.40" y1="980.40" x2="808.40" y2="985.00" stroke="#000" stroke-width="2.0" stroke-linecap="butt"/>
<line x1="865.60" y1="980.40" x2="865.60" y2="985.00" stroke="#000" stroke-width="2.0" stroke-linecap="butt"/>
<line x1="922.80" y1="980.40" x2="922.80" y2="985.00" stroke="#000" stroke-width="2.0" stroke-linecap="butt"/>
<line x1="980.00" y1="980.40" x2="980.00" y2="985.00" stroke="#000" stroke-width="2.0" stroke-linecap="butt"/>
<rect x="998.60" y="822.35" width="4.98" height="17.00" fill="#000"/>
<rect x="998.60" y="847.30" width="17.43" height="17.00" fill="#000"/>
<rect x="998.60" y="872.25" width="4.98" height="17.00" fill="#000"/>
<rect x="998.60" y="897.20" width="27.39" height="17.00" fill="#000"/>
<rect x="998.60" y="922.15" width="24.90" height="17.00" fill="#000"/>
<rect x="998.60" y="947.10" width="67.23" height="17.00" fill="#000"/>
<line x1="998.60" y1="756.90" x2="998.60" y2="982.20" stroke="#000" stroke-width="2.0" stroke-linecap="butt"/>
<line x1="997.60" y1="981.20" x2="1072.20" y2="981.20" stroke="#000" stroke-width="2.0" stroke-linecap="butt"/>
<line x1="998.60" y1="981.20" x2="998.60" y2="989.20" stroke="#000" stroke-width="2.0" stroke-linecap="butt"/>
<line x1="1023.70" y1="981.20" x2="1023.70" y2="989.20" stroke="#000" stroke-width="2.0" stroke-linecap="butt"/>
<line x1="1048.50" y1="981.20" x2="1048.50" y2="989.20" stroke="#000" stroke-width="2.0" stroke-linecap="butt"/>
<rect x="1102.70" y="847.30" width="9.07" height="17.00" fill="#d80000"/>
<rect x="1102.70" y="872.25" width="12.38" height="17.00" fill="#d80000"/>
<rect x="1102.70" y="897.20" width="20.79" height="17.00" fill="#d80000"/>
<rect x="1102.70" y="922.15" width="27.55" height="17.00" fill="#d80000"/>
<rect x="1102.70" y="947.10" width="67.16" height="17.00" fill="#d80000"/>
<line x1="1102.70" y1="756.90" x2="1102.70" y2="982.20" stroke="#000" stroke-width="2.0" stroke-linecap="butt"/>
<line x1="1101.70" y1="981.20" x2="1175.50" y2="981.20" stroke="#000" stroke-width="2.0" stroke-linecap="butt"/>
<line x1="1102.70" y1="981.20" x2="1102.70" y2="989.20" stroke="#000" stroke-width="2.0" stroke-linecap="butt"/>
<line x1="1136.50" y1="981.20" x2="1136.50" y2="989.20" stroke="#000" stroke-width="2.0" stroke-linecap="butt"/>
<line x1="1168.70" y1="981.20" x2="1168.70" y2="989.20" stroke="#000" stroke-width="2.0" stroke-linecap="butt"/>
<path d="M368.68,1202.32a2.5,2.5 0 1,0 5.0,0a2.5,2.5 0 1,0 -5.0,0M369.72,1202.32a2.5,2.5 0 1,0 5.0,0a2.5,2.5 0 1,0 -5.0,0M364.53,1214.73a2.5,2.5 0 1,0 5.0,0a2.5,2.5 0 1,0 -5.0,0M370.35,1214.73a2.5,2.5 0 1,0 5.0,0a2.5,2.5 0 1,0 -5.0,0M354.15,1227.14a2.5,2.5 0 1,0 5.0,0a2.5,2.5 0 1,0 -5.0,0M368.06,1227.14a2.5,2.5 0 1,0 5.0,0a2.5,2.5 0 1,0 -5.0,0M370.76,1227.14a2.5,2.5 0 1,0 5.0,0a2.5,2.5 0 1,0 -5.0,0M356.22,1239.55a2.5,2.5 0 1,0 5.0,0a2.5,2.5 0 1,0 -5.0,0M361.41,1239.55a2.5,2.5 0 1,0 5.0,0a2.5,2.5 0 1,0 -5.0,0M369.31,1239.55a2.5,2.5 0 1,0 5.0,0a2.5,2.5 0 1,0 -5.0,0M289.35,1251.96a2.5,2.5 0 1,0 5.0,0a2.5,2.5 0 1,0 -5.0,0M308.46,1251.96a2.5,2.5 0 1,0 5.0,0a2.5,2.5 0 1,0 -5.0,0M334.42,1251.96a2.5,2.5 0 1,0 5.0,0a2.5,2.5 0 1,0 -5.0,0M349.37,1251.96a2.5,2.5 0 1,0 5.0,0a2.5,2.5 0 1,0 -5.0,0M354.77,1251.96a2.5,2.5 0 1,0 5.0,0a2.5,2.5 0 1,0 -5.0,0M370.35,1251.96a2.5,2.5 0 1,0 5.0,0a2.5,2.5 0 1,0 -5.0,0M305.76,1264.37a2.5,2.5 0 1,0 5.0,0a2.5,2.5 0 1,0 -5.0,0M312.61,1264.37a2.5,2.5 0 1,0 5.0,0a2.5,2.5 0 1,0 -5.0,0M318.84,1264.37a2.5,2.5 0 1,0 5.0,0a2.5,2.5 0 1,0 -5.0,0M334.42,1264.37a2.5,2.5 0 1,0 5.0,0a2.5,2.5 0 1,0 -5.0,0M336.49,1264.37a2.5,2.5 0 1,0 5.0,0a2.5,2.5 0 1,0 -5.0,0M358.30,1264.37a2.5,2.5 0 1,0 5.0,0a2.5,2.5 0 1,0 -5.0,0M360.38,1264.37a2.5,2.5 0 1,0 5.0,0a2.5,2.5 0 1,0 -5.0,0M362.45,1264.37a2.5,2.5 0 1,0 5.0,0a2.5,2.5 0 1,0 -5.0,0M370.35,1264.37a2.5,2.5 0 1,0 5.0,0a2.5,2.5 0 1,0 -5.0,0M239.92,1276.78a2.5,2.5 0 1,0 5.0,0a2.5,2.5 0 1,0 -5.0,0M318.22,1276.78a2.5,2.5 0 1,0 5.0,0a2.5,2.5 0 1,0 -5.0,0M192.57,1289.19a2.5,2.5 0 1,0 5.0,0a2.5,2.5 0 1,0 -5.0,0M237.84,1289.19a2.5,2.5 0 1,0 5.0,0a2.5,2.5 0 1,0 -5.0,0M300.77,1289.19a2.5,2.5 0 1,0 5.0,0a2.5,2.5 0 1,0 -5.0,0M318.22,1289.19a2.5,2.5 0 1,0 5.0,0a2.5,2.5 0 1,0 -5.0,0M323.62,1289.19a2.5,2.5 0 1,0 5.0,0a2.5,2.5 0 1,0 -5.0,0M326.11,1289.19a2.5,2.5 0 1,0 5.0,0a2.5,2.5 0 1,0 -5.0,0M329.22,1289.19a2.5,2.5 0 1,0 5.0,0a2.5,2.5 0 1,0 -5.0,0M332.34,1289.19a2.5,2.5 0 1,0 5.0,0a2.5,2.5 0 1,0 -5.0,0M335.45,1289.19a2.5,2.5 0 1,0 5.0,0a2.5,2.5 0 1,0 -5.0,0M346.88,1289.19a2.5,2.5 0 1,0 5.0,0a2.5,2.5 0 1,0 -5.0,0M244.70,1301.60a2.5,2.5 0 1,0 5.0,0a2.5,2.5 0 1,0 -5.0,0M273.56,1301.60a2.5,2.5 0 1,0 5.0,0a2.5,2.5 0 1,0 -5.0,0M288.10,1301.60a2.5,2.5 0 1,0 5.0,0a2.5,2.5 0 1,0 -5.0,0M290.80,1301.60a2.5,2.5 0 1,0 5.0,0a2.5,2.5 0 1,0 -5.0,0M301.19,1301.60a2.5,2.5 0 1,0 5.0,0a2.5,2.5 0 1,0 -5.0,0M306.38,1301.60a2.5,2.5 0 1,0 5.0,0a2.5,2.5 0 1,0 -5.0,0M317.80,1301.60a2.5,2.5 0 1,0 5.0,0a2.5,2.5 0 1,0 -5.0,0M320.92,1301.60a2.5,2.5 0 1,0 5.0,0a2.5,2.5 0 1,0 -5.0,0M324.03,1301.60a2.5,2.5 0 1,0 5.0,0a2.5,2.5 0 1,0 -5.0,0M330.26,1301.60a2.5,2.5 0 1,0 5.0,0a2.5,2.5 0 1,0 -5.0,0M333.38,1301.60a2.5,2.5 0 1,0 5.0,0a2.5,2.5 0 1,0 -5.0,0M336.49,1301.60a2.5,2.5 0 1,0 5.0,0a2.5,2.5 0 1,0 -5.0,0M339.61,1301.60a2.5,2.5 0 1,0 5.0,0a2.5,2.5 0 1,0 -5.0,0M355.18,1301.60a2.5,2.5 0 1,0 5.0,0a2.5,2.5 0 1,0 -5.0,0M273.15,1314.01a2.5,2.5 0 1,0 5.0,0a2.5,2.5 0 1,0 -5.0,0M364.53,1326.42a2.5,2.5 0 1,0 5.0,0a2.5,2.5 0 1,0 -5.0,0M184.88,1376.06a2.5,2.5 0 1,0 5.0,0a2.5,2.5 0 1,0 -5.0,0" fill="#000"/>
<path d="M360.38,1202.32a2.5,2.5 0 1,0 5.0,0a2.5,2.5 0 1,0 -5.0,0M371.18,1202.32a2.5,2.5 0 1,0 5.0,0a2.5,2.5 0 1,0 -5.0,0M367.65,1214.73a2.5,2.5 0 1,0 5.0,0a2.5,2.5 0 1,0 -5.0,0M328.19,1227.14a2.5,2.5 0 1,0 5.0,0a2.5,2.5 0 1,0 -5.0,0M332.34,1227.14a2.5,2.5 0 1,0 5.0,0a2.5,2.5 0 1,0 -5.0,0M338.57,1227.14a2.5,2.5 0 1,0 5.0,0a2.5,2.5 0 1,0 -5.0,0M356.22,1227.14a2.5,2.5 0 1,0 5.0,0a2.5,2.5 0 1,0 -5.0,0M362.45,1227.14a2.5,2.5 0 1,0 5.0,0a2.5,2.5 0 1,0 -5.0,0M365.15,1227.14a2.5,2.5 0 1,0 5.0,0a2.5,2.5 0 1,0 -5.0,0M322.99,1239.55a2.5,2.5 0 1,0 5.0,0a2.5,2.5 0 1,0 -5.0,0M326.52,1239.55a2.5,2.5 0 1,0 5.0,0a2.5,2.5 0 1,0 -5.0,0M338.15,1239.55a2.5,2.5 0 1,0 5.0,0a2.5,2.5 0 1,0 -5.0,0M348.54,1239.55a2.5,2.5 0 1,0 5.0,0a2.5,2.5 0 1,0 -5.0,0M351.03,1239.55a2.5,2.5 0 1,0 5.0,0a2.5,2.5 0 1,0 -5.0,0M367.65,1239.55a2.5,2.5 0 1,0 5.0,0a2.5,2.5 0 1,0 -5.0,0M371.18,1239.55a2.5,2.5 0 1,0 5.0,0a2.5,2.5 0 1,0 -5.0,0M306.38,1251.96a2.5,2.5 0 1,0 5.0,0a2.5,2.5 0 1,0 -5.0,0M314.69,1251.96a2.5,2.5 0 1,0 5.0,0a2.5,2.5 0 1,0 -5.0,0M328.19,1251.96a2.5,2.5 0 1,0 5.0,0a2.5,2.5 0 1,0 -5.0,0M331.30,1251.96a2.5,2.5 0 1,0 5.0,0a2.5,2.5 0 1,0 -5.0,0M338.15,1251.96a2.5,2.5 0 1,0 5.0,0a2.5,2.5 0 1,0 -5.0,0M344.38,1251.96a2.5,2.5 0 1,0 5.0,0a2.5,2.5 0 1,0 -5.0,0M359.34,1251.96a2.5,2.5 0 1,0 5.0,0a2.5,2.5 0 1,0 -5.0,0M363.49,1251.96a2.5,2.5 0 1,0 5.0,0a2.5,2.5 0 1,0 -5.0,0M315.31,1264.37a2.5,2.5 0 1,0 5.0,0a2.5,2.5 0 1,0 -5.0,0M352.69,1264.37a2.5,2.5 0 1,0 5.0,0a2.5,2.5 0 1,0 -5.0,0M355.18,1264.37a2.5,2.5 0 1,0 5.0,0a2.5,2.5 0 1,0 -5.0,0M365.15,1264.37a2.5,2.5 0 1,0 5.0,0a2.5,2.5 0 1,0 -5.0,0M367.23,1264.37a2.5,2.5 0 1,0 5.0,0a2.5,2.5 0 1,0 -5.0,0M301.19,1276.78a2.5,2.5 0 1,0 5.0,0a2.5,2.5 0 1,0 -5.0,0M311.57,1276.78a2.5,2.5 0 1,0 5.0,0a2.5,2.5 0 1,0 -5.0,0M324.65,1276.78a2.5,2.5 0 1,0 5.0,0a2.5,2.5 0 1,0 -5.0,0M339.61,1276.78a2.5,2.5 0 1,0 5.0,0a2.5,2.5 0 1,0 -5.0,0M309.49,1289.19a2.5,2.5 0 1,0 5.0,0a2.5,2.5 0 1,0 -5.0,0M342.72,1289.19a2.5,2.5 0 1,0 5.0,0a2.5,2.5 0 1,0 -5.0,0M351.03,1289.19a2.5,2.5 0 1,0 5.0,0a2.5,2.5 0 1,0 -5.0,0M366.61,1289.19a2.5,2.5 0 1,0 5.0,0a2.5,2.5 0 1,0 -5.0,0M327.15,1301.60a2.5,2.5 0 1,0 5.0,0a2.5,2.5 0 1,0 -5.0,0M342.72,1314.01a2.5,2.5 0 1,0 5.0,0a2.5,2.5 0 1,0 -5.0,0M344.80,1314.01a2.5,2.5 0 1,0 5.0,0a2.5,2.5 0 1,0 -5.0,0" fill="#d80000"/>
<line x1="166.20" y1="1177.40" x2="166.20" y2="1401.00" stroke="#000" stroke-width="2.0" stroke-linecap="butt"/>
<line x1="165.20" y1="1400.20" x2="408.60" y2="1400.20" stroke="#000" stroke-width="2.0" stroke-linecap="butt"/>
<line x1="161.40" y1="1394.67" x2="166.20" y2="1394.67" stroke="#000" stroke-width="2.0" stroke-linecap="butt"/>
<line x1="158.30" y1="1363.65" x2="166.20" y2="1363.65" stroke="#000" stroke-width="2.0" stroke-linecap="butt"/>
<line x1="161.40" y1="1332.62" x2="166.20" y2="1332.62" stroke="#000" stroke-width="2.0" stroke-linecap="butt"/>
<line x1="158.30" y1="1301.60" x2="166.20" y2="1301.60" stroke="#000" stroke-width="2.0" stroke-linecap="butt"/>
<line x1="161.40" y1="1270.57" x2="166.20" y2="1270.57" stroke="#000" stroke-width="2.0" stroke-linecap="butt"/>
<line x1="158.30" y1="1239.55" x2="166.20" y2="1239.55" stroke="#000" stroke-width="2.0" stroke-linecap="butt"/>
<line x1="161.40" y1="1208.52" x2="166.20" y2="1208.52" stroke="#000" stroke-width="2.0" stroke-linecap="butt"/>
<line x1="158.30" y1="1177.50" x2="166.20" y2="1177.50" stroke="#000" stroke-width="2.0" stroke-linecap="butt"/>
<line x1="200.30" y1="1400.20" x2="200.30" y2="1409.00" stroke="#000" stroke-width="2.0" stroke-linecap="butt"/>
<line x1="258.00" y1="1400.20" x2="258.00" y2="1409.00" stroke="#000" stroke-width="2.0" stroke-linecap="butt"/>
<line x1="315.70" y1="1400.20" x2="315.70" y2="1409.00" stroke="#000" stroke-width="2.0" stroke-linecap="butt"/>
<line x1="373.40" y1="1400.20" x2="373.40" y2="1409.00" stroke="#000" stroke-width="2.0" stroke-linecap="butt"/>
<line x1="171.45" y1="1400.20" x2="171.45" y2="1405.00" stroke="#000" stroke-width="2.0" stroke-linecap="butt"/>
<line x1="229.15" y1="1400.20" x2="229.15" y2="1405.00" stroke="#000" stroke-width="2.0" stroke-linecap="butt"/>
<line x1="286.85" y1="1400.20" x2="286.85" y2="1405.00" stroke="#000" stroke-width="2.0" stroke-linecap="butt"/>
<line x1="344.55" y1="1400.20" x2="344.55" y2="1405.00" stroke="#000" stroke-width="2.0" stroke-linecap="butt"/>
<line x1="402.25" y1="1400.20" x2="402.25" y2="1405.00" stroke="#000" stroke-width="2.0" stroke-linecap="butt"/>
<circle cx="191.50" cy="1166.00" r="4.5" fill="#000"/>
<circle cx="191.50" cy="1196.00" r="4.5" fill="#d80000"/>
<path d="M196.45,1609.81a2.5,2.5 0 1,0 5.0,0a2.5,2.5 0 1,0 -5.0,0M208.69,1633.43a2.5,2.5 0 1,0 5.0,0a2.5,2.5 0 1,0 -5.0,0M292.65,1632.01a2.5,2.5 0 1,0 5.0,0a2.5,2.5 0 1,0 -5.0,0M281.84,1688.08a2.5,2.5 0 1,0 5.0,0a2.5,2.5 0 1,0 -5.0,0M284.97,1691.78a2.5,2.5 0 1,0 5.0,0a2.5,2.5 0 1,0 -5.0,0M309.73,1706.58a2.5,2.5 0 1,0 5.0,0a2.5,2.5 0 1,0 -5.0,0M338.76,1712.27a2.5,2.5 0 1,0 5.0,0a2.5,2.5 0 1,0 -5.0,0M362.95,1716.54a2.5,2.5 0 1,0 5.0,0a2.5,2.5 0 1,0 -5.0,0M365.23,1718.53a2.5,2.5 0 1,0 5.0,0a2.5,2.5 0 1,0 -5.0,0M371.78,1709.42a2.5,2.5 0 1,0 5.0,0a2.5,2.5 0 1,0 -5.0,0M366.94,1741.02a2.5,2.5 0 1,0 5.0,0a2.5,2.5 0 1,0 -5.0,0M383.73,1724.22a2.5,2.5 0 1,0 5.0,0a2.5,2.5 0 1,0 -5.0,0M390.85,1724.22a2.5,2.5 0 1,0 5.0,0a2.5,2.5 0 1,0 -5.0,0M389.99,1734.47a2.5,2.5 0 1,0 5.0,0a2.5,2.5 0 1,0 -5.0,0M389.99,1653.64a2.5,2.5 0 1,0 5.0,0a2.5,2.5 0 1,0 -5.0,0M401.38,1699.46a2.5,2.5 0 1,0 5.0,0a2.5,2.5 0 1,0 -5.0,0M395.12,1715.40a2.5,2.5 0 1,0 5.0,0a2.5,2.5 0 1,0 -5.0,0M411.34,1664.74a2.5,2.5 0 1,0 5.0,0a2.5,2.5 0 1,0 -5.0,0M411.62,1675.84a2.5,2.5 0 1,0 5.0,0a2.5,2.5 0 1,0 -5.0,0M415.61,1724.79a2.5,2.5 0 1,0 5.0,0a2.5,2.5 0 1,0 -5.0,0M409.92,1732.48a2.5,2.5 0 1,0 5.0,0a2.5,2.5 0 1,0 -5.0,0M409.92,1756.39a2.5,2.5 0 1,0 5.0,0a2.5,2.5 0 1,0 -5.0,0M420.16,1715.12a2.5,2.5 0 1,0 5.0,0a2.5,2.5 0 1,0 -5.0,0M420.73,1703.16a2.5,2.5 0 1,0 5.0,0a2.5,2.5 0 1,0 -5.0,0M423.01,1695.19a2.5,2.5 0 1,0 5.0,0a2.5,2.5 0 1,0 -5.0,0M426.42,1724.22a2.5,2.5 0 1,0 5.0,0a2.5,2.5 0 1,0 -5.0,0M432.69,1705.44a2.5,2.5 0 1,0 5.0,0a2.5,2.5 0 1,0 -5.0,0M435.53,1694.34a2.5,2.5 0 1,0 5.0,0a2.5,2.5 0 1,0 -5.0,0M435.53,1700.32a2.5,2.5 0 1,0 5.0,0a2.5,2.5 0 1,0 -5.0,0M437.24,1715.12a2.5,2.5 0 1,0 5.0,0a2.5,2.5 0 1,0 -5.0,0M436.39,1726.50a2.5,2.5 0 1,0 5.0,0a2.5,2.5 0 1,0 -5.0,0M436.39,1733.62a2.5,2.5 0 1,0 5.0,0a2.5,2.5 0 1,0 -5.0,0M440.09,1701.45a2.5,2.5 0 1,0 5.0,0a2.5,2.5 0 1,0 -5.0,0M444.92,1712.27a2.5,2.5 0 1,0 5.0,0a2.5,2.5 0 1,0 -5.0,0M441.51,1760.65a2.5,2.5 0 1,0 5.0,0a2.5,2.5 0 1,0 -5.0,0M444.35,1766.35a2.5,2.5 0 1,0 5.0,0a2.5,2.5 0 1,0 -5.0,0M436.39,1792.82a2.5,2.5 0 1,0 5.0,0a2.5,2.5 0 1,0 -5.0,0M430.69,1820.71a2.5,2.5 0 1,0 5.0,0a2.5,2.5 0 1,0 -5.0,0M455.46,1818.15a2.5,2.5 0 1,0 5.0,0a2.5,2.5 0 1,0 -5.0,0M470.54,1813.02a2.5,2.5 0 1,0 5.0,0a2.5,2.5 0 1,0 -5.0,0M461.43,1717.96a2.5,2.5 0 1,0 5.0,0a2.5,2.5 0 1,0 -5.0,0M468.55,1703.16a2.5,2.5 0 1,0 5.0,0a2.5,2.5 0 1,0 -5.0,0M470.54,1698.61a2.5,2.5 0 1,0 5.0,0a2.5,2.5 0 1,0 -5.0,0M468.55,1731.62a2.5,2.5 0 1,0 5.0,0a2.5,2.5 0 1,0 -5.0,0M472.53,1722.80a2.5,2.5 0 1,0 5.0,0a2.5,2.5 0 1,0 -5.0,0M476.80,1720.81a2.5,2.5 0 1,0 5.0,0a2.5,2.5 0 1,0 -5.0,0M478.22,1735.89a2.5,2.5 0 1,0 5.0,0a2.5,2.5 0 1,0 -5.0,0M481.92,1708.85a2.5,2.5 0 1,0 5.0,0a2.5,2.5 0 1,0 -5.0,0M480.50,1716.54a2.5,2.5 0 1,0 5.0,0a2.5,2.5 0 1,0 -5.0,0M484.77,1721.66a2.5,2.5 0 1,0 5.0,0a2.5,2.5 0 1,0 -5.0,0M484.20,1743.58a2.5,2.5 0 1,0 5.0,0a2.5,2.5 0 1,0 -5.0,0M491.03,1708.85a2.5,2.5 0 1,0 5.0,0a2.5,2.5 0 1,0 -5.0,0M491.89,1732.76a2.5,2.5 0 1,0 5.0,0a2.5,2.5 0 1,0 -5.0,0M494.16,1718.82a2.5,2.5 0 1,0 5.0,0a2.5,2.5 0 1,0 -5.0,0M491.89,1746.42a2.5,2.5 0 1,0 5.0,0a2.5,2.5 0 1,0 -5.0,0M493.88,1750.69a2.5,2.5 0 1,0 5.0,0a2.5,2.5 0 1,0 -5.0,0M494.16,1752.69a2.5,2.5 0 1,0 5.0,0a2.5,2.5 0 1,0 -5.0,0M491.89,1772.04a2.5,2.5 0 1,0 5.0,0a2.5,2.5 0 1,0 -5.0,0M493.31,1677.55a2.5,2.5 0 1,0 5.0,0a2.5,2.5 0 1,0 -5.0,0M494.73,1675.27a2.5,2.5 0 1,0 5.0,0a2.5,2.5 0 1,0 -5.0,0M493.88,1849.45a2.5,2.5 0 1,0 5.0,0a2.5,2.5 0 1,0 -5.0,0" fill="#000"/>
<path d="M383.73,1663.32a2.5,2.5 0 1,0 5.0,0a2.5,2.5 0 1,0 -5.0,0M405.65,1683.81a2.5,2.5 0 1,0 5.0,0a2.5,2.5 0 1,0 -5.0,0M405.65,1705.44a2.5,2.5 0 1,0 5.0,0a2.5,2.5 0 1,0 -5.0,0M390.85,1727.92a2.5,2.5 0 1,0 5.0,0a2.5,2.5 0 1,0 -5.0,0M390.85,1741.02a2.5,2.5 0 1,0 5.0,0a2.5,2.5 0 1,0 -5.0,0M396.54,1763.50a2.5,2.5 0 1,0 5.0,0a2.5,2.5 0 1,0 -5.0,0M399.39,1776.88a2.5,2.5 0 1,0 5.0,0a2.5,2.5 0 1,0 -5.0,0M418.45,1737.89a2.5,2.5 0 1,0 5.0,0a2.5,2.5 0 1,0 -5.0,0M422.15,1693.77a2.5,2.5 0 1,0 5.0,0a2.5,2.5 0 1,0 -5.0,0M421.30,1706.01a2.5,2.5 0 1,0 5.0,0a2.5,2.5 0 1,0 -5.0,0M425.00,1704.59a2.5,2.5 0 1,0 5.0,0a2.5,2.5 0 1,0 -5.0,0M427.28,1734.47a2.5,2.5 0 1,0 5.0,0a2.5,2.5 0 1,0 -5.0,0M423.58,1745.85a2.5,2.5 0 1,0 5.0,0a2.5,2.5 0 1,0 -5.0,0M427.85,1754.11a2.5,2.5 0 1,0 5.0,0a2.5,2.5 0 1,0 -5.0,0M431.55,1739.31a2.5,2.5 0 1,0 5.0,0a2.5,2.5 0 1,0 -5.0,0M433.54,1713.69a2.5,2.5 0 1,0 5.0,0a2.5,2.5 0 1,0 -5.0,0M442.08,1700.89a2.5,2.5 0 1,0 5.0,0a2.5,2.5 0 1,0 -5.0,0M443.50,1715.97a2.5,2.5 0 1,0 5.0,0a2.5,2.5 0 1,0 -5.0,0M442.93,1731.62a2.5,2.5 0 1,0 5.0,0a2.5,2.5 0 1,0 -5.0,0M450.62,1727.92a2.5,2.5 0 1,0 5.0,0a2.5,2.5 0 1,0 -5.0,0M452.04,1717.39a2.5,2.5 0 1,0 5.0,0a2.5,2.5 0 1,0 -5.0,0M452.61,1740.16a2.5,2.5 0 1,0 5.0,0a2.5,2.5 0 1,0 -5.0,0M453.46,1754.96a2.5,2.5 0 1,0 5.0,0a2.5,2.5 0 1,0 -5.0,0M444.92,1794.52a2.5,2.5 0 1,0 5.0,0a2.5,2.5 0 1,0 -5.0,0M460.58,1711.70a2.5,2.5 0 1,0 5.0,0a2.5,2.5 0 1,0 -5.0,0M463.42,1713.69a2.5,2.5 0 1,0 5.0,0a2.5,2.5 0 1,0 -5.0,0M462.86,1735.61a2.5,2.5 0 1,0 5.0,0a2.5,2.5 0 1,0 -5.0,0M466.27,1735.61a2.5,2.5 0 1,0 5.0,0a2.5,2.5 0 1,0 -5.0,0M470.54,1737.03a2.5,2.5 0 1,0 5.0,0a2.5,2.5 0 1,0 -5.0,0M471.96,1709.99a2.5,2.5 0 1,0 5.0,0a2.5,2.5 0 1,0 -5.0,0M469.12,1725.08a2.5,2.5 0 1,0 5.0,0a2.5,2.5 0 1,0 -5.0,0M474.81,1698.04a2.5,2.5 0 1,0 5.0,0a2.5,2.5 0 1,0 -5.0,0M470.54,1716.54a2.5,2.5 0 1,0 5.0,0a2.5,2.5 0 1,0 -5.0,0M476.23,1716.54a2.5,2.5 0 1,0 5.0,0a2.5,2.5 0 1,0 -5.0,0M477.66,1727.07a2.5,2.5 0 1,0 5.0,0a2.5,2.5 0 1,0 -5.0,0M480.50,1719.39a2.5,2.5 0 1,0 5.0,0a2.5,2.5 0 1,0 -5.0,0M479.08,1727.92a2.5,2.5 0 1,0 5.0,0a2.5,2.5 0 1,0 -5.0,0M483.35,1730.20a2.5,2.5 0 1,0 5.0,0a2.5,2.5 0 1,0 -5.0,0M484.77,1735.61a2.5,2.5 0 1,0 5.0,0a2.5,2.5 0 1,0 -5.0,0M481.92,1749.84a2.5,2.5 0 1,0 5.0,0a2.5,2.5 0 1,0 -5.0,0M481.07,1756.39a2.5,2.5 0 1,0 5.0,0a2.5,2.5 0 1,0 -5.0,0M484.20,1763.22a2.5,2.5 0 1,0 5.0,0a2.5,2.5 0 1,0 -5.0,0M487.62,1717.96a2.5,2.5 0 1,0 5.0,0a2.5,2.5 0 1,0 -5.0,0M489.04,1699.46a2.5,2.5 0 1,0 5.0,0a2.5,2.5 0 1,0 -5.0,0M489.61,1717.11a2.5,2.5 0 1,0 5.0,0a2.5,2.5 0 1,0 -5.0,0M489.61,1723.09a2.5,2.5 0 1,0 5.0,0a2.5,2.5 0 1,0 -5.0,0M488.47,1736.46a2.5,2.5 0 1,0 5.0,0a2.5,2.5 0 1,0 -5.0,0M491.89,1725.08a2.5,2.5 0 1,0 5.0,0a2.5,2.5 0 1,0 -5.0,0M494.16,1696.05a2.5,2.5 0 1,0 5.0,0a2.5,2.5 0 1,0 -5.0,0M493.31,1727.92a2.5,2.5 0 1,0 5.0,0a2.5,2.5 0 1,0 -5.0,0M493.88,1737.89a2.5,2.5 0 1,0 5.0,0a2.5,2.5 0 1,0 -5.0,0M493.31,1757.81a2.5,2.5 0 1,0 5.0,0a2.5,2.5 0 1,0 -5.0,0M493.31,1762.65a2.5,2.5 0 1,0 5.0,0a2.5,2.5 0 1,0 -5.0,0M493.88,1777.45a2.5,2.5 0 1,0 5.0,0a2.5,2.5 0 1,0 -5.0,0M467.12,1792.82a2.5,2.5 0 1,0 5.0,0a2.5,2.5 0 1,0 -5.0,0M493.88,1828.39a2.5,2.5 0 1,0 5.0,0a2.5,2.5 0 1,0 -5.0,0M494.16,1838.92a2.5,2.5 0 1,0 5.0,0a2.5,2.5 0 1,0 -5.0,0M491.03,1843.76a2.5,2.5 0 1,0 5.0,0a2.5,2.5 0 1,0 -5.0,0M493.88,1879.62a2.5,2.5 0 1,0 5.0,0a2.5,2.5 0 1,0 -5.0,0" fill="#d80000"/>
<line x1="164.80" y1="1581.30" x2="164.80" y2="1913.80" stroke="#000" stroke-width="2.0" stroke-linecap="butt"/>
<line x1="163.80" y1="1913.00" x2="506.30" y2="1913.00" stroke="#000" stroke-width="2.0" stroke-linecap="butt"/>
<line x1="156.30" y1="1879.30" x2="164.80" y2="1879.30" stroke="#000" stroke-width="2.0" stroke-linecap="butt"/>
<line x1="160.50" y1="1838.10" x2="164.80" y2="1838.10" stroke="#000" stroke-width="2.0" stroke-linecap="butt"/>
<line x1="156.30" y1="1796.90" x2="164.80" y2="1796.90" stroke="#000" stroke-width="2.0" stroke-linecap="butt"/>
<line x1="160.50" y1="1755.70" x2="164.80" y2="1755.70" stroke="#000" stroke-width="2.0" stroke-linecap="butt"/>
<line x1="156.30" y1="1714.50" x2="164.80" y2="1714.50" stroke="#000" stroke-width="2.0" stroke-linecap="butt"/>
<line x1="160.50" y1="1673.30" x2="164.80" y2="1673.30" stroke="#000" stroke-width="2.0" stroke-linecap="butt"/>
<line x1="156.30" y1="1632.10" x2="164.80" y2="1632.10" stroke="#000" stroke-width="2.0" stroke-linecap="butt"/>
<line x1="160.50" y1="1590.90" x2="164.80" y2="1590.90" stroke="#000" stroke-width="2.0" stroke-linecap="butt"/>
<line x1="220.10" y1="1913.00" x2="220.10" y2="1922.00" stroke="#000" stroke-width="2.0" stroke-linecap="butt"/>
<line x1="312.20" y1="1913.00" x2="312.20" y2="1922.00" stroke="#000" stroke-width="2.0" stroke-linecap="butt"/>
<line x1="404.30" y1="1913.00" x2="404.30" y2="1922.00" stroke="#000" stroke-width="2.0" stroke-linecap="butt"/>
<line x1="496.40" y1="1913.00" x2="496.40" y2="1922.00" stroke="#000" stroke-width="2.0" stroke-linecap="butt"/>
<line x1="174.05" y1="1913.00" x2="174.05" y2="1918.00" stroke="#000" stroke-width="2.0" stroke-linecap="butt"/>
<line x1="266.15" y1="1913.00" x2="266.15" y2="1918.00" stroke="#000" stroke-width="2.0" stroke-linecap="butt"/>
<line x1="358.25" y1="1913.00" x2="358.25" y2="1918.00" stroke="#000" stroke-width="2.0" stroke-linecap="butt"/>
<line x1="450.35" y1="1913.00" x2="450.35" y2="1918.00" stroke="#000" stroke-width="2.0" stroke-linecap="butt"/>
<circle cx="459.60" cy="1569.60" r="3.5" fill="#000"/>
<circle cx="459.60" cy="1599.80" r="3.5" fill="#d80000"/>
<line x1="158.70" y1="249.81" x2="158.70" y2="79.81" stroke="#d4d4d4" stroke-width="2.0" stroke-linecap="butt"/>
<line x1="110.63" y1="273.01" x2="110.63" y2="103.01" stroke="#d4d4d4" stroke-width="2.0" stroke-linecap="butt"/>
<line x1="207.00" y1="155.10" x2="92.00" y2="210.60" stroke="#d4d4d4" stroke-width="2.0" stroke-linecap="butt"/>
<line x1="207.00" y1="84.04" x2="92.00" y2="139.54" stroke="#d4d4d4" stroke-width="2.0" stroke-linecap="butt"/>
<line x1="288.48" y1="240.36" x2="288.48" y2="70.36" stroke="#d4d4d4" stroke-width="2.0" stroke-linecap="butt"/>
<line x1="369.57" y1="254.15" x2="369.57" y2="84.15" stroke="#d4d4d4" stroke-width="2.0" stroke-linecap="butt"/>
<line x1="207.00" y1="155.10" x2="401.00" y2="188.10" stroke="#d4d4d4" stroke-width="2.0" stroke-linecap="butt"/>
<line x1="207.00" y1="84.04" x2="401.00" y2="117.04" stroke="#d4d4d4" stroke-width="2.0" stroke-linecap="butt"/>
<line x1="288.48" y1="240.36" x2="173.48" y2="295.86" stroke="#d4d4d4" stroke-width="2.0" stroke-linecap="butt"/>
<line x1="369.57" y1="254.15" x2="254.57" y2="309.65" stroke="#d4d4d4" stroke-width="2.0" stroke-linecap="butt"/>
<line x1="158.70" y1="249.81" x2="352.70" y2="282.81" stroke="#d4d4d4" stroke-width="2.0" stroke-linecap="butt"/>
<line x1="110.63" y1="273.01" x2="304.63" y2="306.01" stroke="#d4d4d4" stroke-width="2.0" stroke-linecap="butt"/>
<line x1="207.00" y1="226.50" x2="207.00" y2="56.50" stroke="#b8b8b8" stroke-width="2.4" stroke-linecap="butt"/>
<line x1="207.00" y1="226.50" x2="92.00" y2="282.00" stroke="#b8b8b8" stroke-width="2.4" stroke-linecap="butt"/>
<line x1="207.00" y1="226.50" x2="401.00" y2="259.50" stroke="#b8b8b8" stroke-width="2.4" stroke-linecap="butt"/>
<circle cx="300.37" cy="105.85" r="2.6" fill="#0000ff" fill-opacity="0.32"/>
<circle cx="312.55" cy="118.77" r="2.6" fill="#0000ff" fill-opacity="0.32"/>
<circle cx="320.68" cy="130.77" r="2.6" fill="#0000ff" fill-opacity="0.32"/>
<circle cx="296.31" cy="144.61" r="2.6" fill="#0000ff" fill-opacity="0.32"/>
<circle cx="300.92" cy="145.54" r="2.6" fill="#0000ff" fill-opacity="0.32"/>
<circle cx="295.94" cy="148.31" r="2.6" fill="#0000ff" fill-opacity="0.32"/>
<circle cx="316.98" cy="144.61" r="2.6" fill="#0000ff" fill-opacity="0.32"/>
<circle cx="312.92" cy="151.08" r="2.6" fill="#0000ff" fill-opacity="0.32"/>
<circle cx="316.98" cy="152.00" r="2.6" fill="#0000ff" fill-opacity="0.32"/>
<circle cx="312.92" cy="158.46" r="2.6" fill="#0000ff" fill-opacity="0.32"/>
<circle cx="304.61" cy="156.98" r="2.6" fill="#0000ff" fill-opacity="0.32"/>
<circle cx="288.37" cy="161.23" r="2.6" fill="#0000ff" fill-opacity="0.32"/>
<circle cx="300.00" cy="163.63" r="2.6" fill="#0000ff" fill-opacity="0.32"/>
<circle cx="288.37" cy="175.08" r="2.6" fill="#0000ff" fill-opacity="0.32"/>
<circle cx="292.61" cy="176.00" r="2.6" fill="#0000ff" fill-opacity="0.32"/>
<circle cx="312.55" cy="168.61" r="2.6" fill="#0000ff" fill-opacity="0.32"/>
<circle cx="332.86" cy="168.61" r="2.6" fill="#0000ff" fill-opacity="0.32"/>
<circle cx="340.61" cy="152.92" r="2.6" fill="#0000ff" fill-opacity="0.32"/>
<circle cx="316.98" cy="179.69" r="2.6" fill="#0000ff" fill-opacity="0.32"/>
<circle cx="336.92" cy="179.69" r="2.6" fill="#0000ff" fill-opacity="0.32"/>
<circle cx="340.61" cy="184.31" r="2.6" fill="#0000ff" fill-opacity="0.32"/>
<circle cx="361.85" cy="187.63" r="2.6" fill="#0000ff" fill-opacity="0.32"/>
<circle cx="264.00" cy="178.40" r="2.6" fill="#0000ff" fill-opacity="0.32"/>
<circle cx="271.38" cy="182.46" r="2.6" fill="#0000ff" fill-opacity="0.32"/>
<circle cx="268.25" cy="189.48" r="2.6" fill="#0000ff" fill-opacity="0.32"/>
<circle cx="268.25" cy="200.00" r="2.6" fill="#0000ff" fill-opacity="0.32"/>
<circle cx="284.31" cy="196.31" r="2.6" fill="#0000ff" fill-opacity="0.32"/>
<circle cx="288.55" cy="196.68" r="2.6" fill="#0000ff" fill-opacity="0.32"/>
<circle cx="194.40" cy="203.14" r="2.6" fill="#0000ff" fill-opacity="0.32"/>
<circle cx="218.77" cy="213.29" r="2.6" fill="#0000ff" fill-opacity="0.32"/>
<circle cx="227.08" cy="214.40" r="2.6" fill="#0000ff" fill-opacity="0.32"/>
<circle cx="227.08" cy="218.46" r="2.6" fill="#0000ff" fill-opacity="0.32"/>
<circle cx="194.40" cy="217.54" r="2.6" fill="#0000ff" fill-opacity="0.32"/>
<circle cx="187.38" cy="221.23" r="2.6" fill="#0000ff" fill-opacity="0.32"/>
<circle cx="192.55" cy="221.60" r="2.6" fill="#0000ff" fill-opacity="0.32"/>
<circle cx="199.38" cy="236.92" r="2.6" fill="#0000ff" fill-opacity="0.32"/>
<circle cx="212.31" cy="236.00" r="2.6" fill="#0000ff" fill-opacity="0.32"/>
<circle cx="349.48" cy="114.52" r="2.6" fill="#0000ff" fill-opacity="0.32"/>
<circle cx="353.54" cy="126.71" r="2.6" fill="#0000ff" fill-opacity="0.32"/>
<circle cx="345.23" cy="128.00" r="2.6" fill="#0000ff" fill-opacity="0.32"/>
<circle cx="340.61" cy="130.77" r="2.6" fill="#0000ff" fill-opacity="0.32"/>
<circle cx="336.55" cy="133.91" r="2.6" fill="#0000ff" fill-opacity="0.32"/>
<circle cx="316.98" cy="148.31" r="2.6" fill="#0000ff" fill-opacity="0.32"/>
<circle cx="280.61" cy="167.32" r="2.6" fill="#0000ff" fill-opacity="0.32"/>
<circle cx="292.61" cy="165.85" r="2.6" fill="#0000ff" fill-opacity="0.32"/>
<circle cx="296.31" cy="169.91" r="2.6" fill="#0000ff" fill-opacity="0.32"/>
<circle cx="280.61" cy="174.15" r="2.6" fill="#0000ff" fill-opacity="0.32"/>
<circle cx="151.39" cy="117.35" r="2.6" fill="#0000ff" fill-opacity="0.32"/>
<circle cx="136.89" cy="135.35" r="2.6" fill="#0000ff" fill-opacity="0.32"/>
<circle cx="146.31" cy="141.08" r="2.6" fill="#0000ff" fill-opacity="0.32"/>
<circle cx="134.96" cy="146.89" r="2.6" fill="#0000ff" fill-opacity="0.32"/>
<circle cx="124.62" cy="141.08" r="2.6" fill="#0000ff" fill-opacity="0.32"/>
<circle cx="117.42" cy="148.19" r="2.6" fill="#0000ff" fill-opacity="0.32"/>
<circle cx="151.85" cy="155.85" r="2.6" fill="#0000ff" fill-opacity="0.32"/>
<circle cx="153.69" cy="155.20" r="2.6" fill="#0000ff" fill-opacity="0.32"/>
<circle cx="138.46" cy="159.08" r="2.6" fill="#0000ff" fill-opacity="0.32"/>
<circle cx="144.28" cy="159.54" r="2.6" fill="#0000ff" fill-opacity="0.32"/>
<circle cx="141.23" cy="165.08" r="2.6" fill="#0000ff" fill-opacity="0.32"/>
<circle cx="149.08" cy="168.31" r="2.6" fill="#0000ff" fill-opacity="0.32"/>
<circle cx="144.00" cy="170.62" r="2.6" fill="#0000ff" fill-opacity="0.32"/>
<circle cx="127.39" cy="168.31" r="2.6" fill="#0000ff" fill-opacity="0.32"/>
<circle cx="144.00" cy="181.23" r="2.6" fill="#0000ff" fill-opacity="0.32"/>
<circle cx="136.62" cy="191.85" r="2.6" fill="#0000ff" fill-opacity="0.32"/>
<circle cx="138.92" cy="194.62" r="2.6" fill="#0000ff" fill-opacity="0.32"/>
<circle cx="144.00" cy="192.31" r="2.6" fill="#0000ff" fill-opacity="0.32"/>
<circle cx="122.31" cy="202.93" r="2.6" fill="#0000ff" fill-opacity="0.32"/>
<circle cx="156.46" cy="208.00" r="2.6" fill="#0000ff" fill-opacity="0.32"/>
<circle cx="158.31" cy="206.62" r="2.6" fill="#0000ff" fill-opacity="0.32"/>
<circle cx="173.08" cy="206.62" r="2.6" fill="#0000ff" fill-opacity="0.32"/>
<circle cx="194.31" cy="202.93" r="2.6" fill="#0000ff" fill-opacity="0.32"/>
<circle cx="174.93" cy="194.34" r="2.6" fill="#0000ff" fill-opacity="0.32"/>
<circle cx="170.77" cy="197.39" r="2.6" fill="#0000ff" fill-opacity="0.32"/>
<circle cx="168.00" cy="190.93" r="2.6" fill="#0000ff" fill-opacity="0.32"/>
<circle cx="165.69" cy="188.62" r="2.6" fill="#0000ff" fill-opacity="0.32"/>
<circle cx="168.00" cy="186.77" r="2.6" fill="#0000ff" fill-opacity="0.32"/>
<circle cx="194.31" cy="217.23" r="2.6" fill="#0000ff" fill-opacity="0.32"/>
<circle cx="186.93" cy="219.54" r="2.6" fill="#0000ff" fill-opacity="0.32"/>
<circle cx="144.00" cy="163.51" r="2.6" fill="#0000ff" fill-opacity="0.32"/>
<circle cx="163.39" cy="182.89" r="2.6" fill="#0000ff" fill-opacity="0.32"/>
<circle cx="158.31" cy="184.93" r="2.6" fill="#0000ff" fill-opacity="0.32"/>
<circle cx="153.69" cy="173.39" r="2.6" fill="#0000ff" fill-opacity="0.32"/>
<circle cx="144.00" cy="163.51" r="2.6" fill="#0000ff" fill-opacity="0.32"/>
<circle cx="163.39" cy="182.89" r="2.6" fill="#0000ff" fill-opacity="0.32"/>
<circle cx="158.31" cy="184.93" r="2.6" fill="#0000ff" fill-opacity="0.32"/>
<circle cx="153.69" cy="173.39" r="2.6" fill="#0000ff" fill-opacity="0.32"/>
<circle cx="122.31" cy="131.85" r="2.6" fill="#0000ff" fill-opacity="0.32"/>
<circle cx="122.77" cy="144.31" r="2.6" fill="#0000ff" fill-opacity="0.32"/>
<circle cx="158.77" cy="177.54" r="2.6" fill="#0000ff" fill-opacity="0.32"/>
<circle cx="153.23" cy="179.39" r="2.6" fill="#0000ff" fill-opacity="0.32"/>
<circle cx="199.69" cy="237.00" r="2.6" fill="#0000ff" fill-opacity="0.32"/>
<circle cx="212.15" cy="236.54" r="2.6" fill="#0000ff" fill-opacity="0.32"/>
<circle cx="214.92" cy="234.23" r="2.6" fill="#0000ff" fill-opacity="0.32"/>
<circle cx="208.46" cy="247.15" r="2.6" fill="#0000ff" fill-opacity="0.32"/>
<circle cx="225.54" cy="255.00" r="2.6" fill="#0000ff" fill-opacity="0.32"/>
<circle cx="234.31" cy="252.23" r="2.6" fill="#0000ff" fill-opacity="0.32"/>
<circle cx="232.46" cy="254.54" r="2.6" fill="#0000ff" fill-opacity="0.32"/>
<circle cx="231.08" cy="256.85" r="2.6" fill="#0000ff" fill-opacity="0.32"/>
<circle cx="234.31" cy="272.08" r="2.6" fill="#0000ff" fill-opacity="0.32"/>
<circle cx="243.08" cy="278.54" r="2.6" fill="#0000ff" fill-opacity="0.32"/>
<circle cx="249.08" cy="278.08" r="2.6" fill="#0000ff" fill-opacity="0.32"/>
<circle cx="254.62" cy="275.31" r="2.6" fill="#0000ff" fill-opacity="0.32"/>
<circle cx="261.08" cy="275.31" r="2.6" fill="#0000ff" fill-opacity="0.32"/>
<circle cx="280.46" cy="273.46" r="2.6" fill="#0000ff" fill-opacity="0.32"/>
<circle cx="279.08" cy="280.39" r="2.6" fill="#0000ff" fill-opacity="0.32"/>
<circle cx="267.54" cy="282.69" r="2.6" fill="#0000ff" fill-opacity="0.32"/>
<circle cx="269.85" cy="284.54" r="2.6" fill="#0000ff" fill-opacity="0.32"/>
<circle cx="256.46" cy="293.77" r="2.6" fill="#0000ff" fill-opacity="0.32"/>
<circle cx="271.69" cy="291.00" r="2.6" fill="#0000ff" fill-opacity="0.32"/>
<circle cx="277.70" cy="293.77" r="2.6" fill="#0000ff" fill-opacity="0.32"/>
<circle cx="245.39" cy="267.92" r="2.6" fill="#0000ff" fill-opacity="0.32"/>
<circle cx="241.69" cy="264.69" r="2.6" fill="#0000ff" fill-opacity="0.32"/>
<circle cx="236.62" cy="259.62" r="2.6" fill="#0000ff" fill-opacity="0.32"/>
<circle cx="238.92" cy="263.77" r="2.6" fill="#0000ff" fill-opacity="0.32"/>
<circle cx="242.62" cy="265.62" r="2.6" fill="#0000ff" fill-opacity="0.32"/>
<circle cx="245.39" cy="269.31" r="2.6" fill="#0000ff" fill-opacity="0.32"/>
<circle cx="262.00" cy="287.77" r="2.6" fill="#0000ff" fill-opacity="0.32"/>
<circle cx="260.16" cy="291.46" r="2.6" fill="#0000ff" fill-opacity="0.32"/>
<circle cx="236.62" cy="259.62" r="2.6" fill="#0000ff" fill-opacity="0.32"/>
<circle cx="238.92" cy="263.77" r="2.6" fill="#0000ff" fill-opacity="0.32"/>
<circle cx="242.62" cy="265.62" r="2.6" fill="#0000ff" fill-opacity="0.32"/>
<circle cx="245.39" cy="269.31" r="2.6" fill="#0000ff" fill-opacity="0.32"/>
<circle cx="262.00" cy="287.77" r="2.6" fill="#0000ff" fill-opacity="0.32"/>
<circle cx="369.60" cy="96.25" r="2.6" fill="#d80000" fill-opacity="0.32"/>
<circle cx="365.17" cy="102.71" r="2.6" fill="#d80000" fill-opacity="0.32"/>
<circle cx="369.60" cy="103.63" r="2.6" fill="#d80000" fill-opacity="0.32"/>
<circle cx="386.21" cy="103.08" r="2.6" fill="#d80000" fill-opacity="0.32"/>
<circle cx="337.29" cy="112.31" r="2.6" fill="#d80000" fill-opacity="0.32"/>
<circle cx="361.85" cy="109.54" r="2.6" fill="#d80000" fill-opacity="0.32"/>
<circle cx="365.17" cy="114.15" r="2.6" fill="#d80000" fill-opacity="0.32"/>
<circle cx="369.60" cy="114.52" r="2.6" fill="#d80000" fill-opacity="0.32"/>
<circle cx="365.17" cy="120.98" r="2.6" fill="#d80000" fill-opacity="0.32"/>
<circle cx="357.60" cy="123.38" r="2.6" fill="#d80000" fill-opacity="0.32"/>
<circle cx="365.17" cy="131.69" r="2.6" fill="#d80000" fill-opacity="0.32"/>
<circle cx="332.86" cy="136.68" r="2.6" fill="#d80000" fill-opacity="0.32"/>
<circle cx="308.31" cy="150.52" r="2.6" fill="#d80000" fill-opacity="0.32"/>
<circle cx="300.37" cy="159.75" r="2.6" fill="#d80000" fill-opacity="0.32"/>
<circle cx="308.31" cy="157.91" r="2.6" fill="#d80000" fill-opacity="0.32"/>
<circle cx="288.37" cy="167.69" r="2.6" fill="#d80000" fill-opacity="0.32"/>
<circle cx="353.54" cy="120.61" r="2.6" fill="#d80000" fill-opacity="0.32"/>
<circle cx="361.85" cy="116.00" r="2.6" fill="#d80000" fill-opacity="0.32"/>
<circle cx="357.23" cy="119.69" r="2.6" fill="#d80000" fill-opacity="0.32"/>
<circle cx="352.61" cy="122.46" r="2.6" fill="#d80000" fill-opacity="0.32"/>
<circle cx="349.48" cy="114.52" r="2.6" fill="#d80000" fill-opacity="0.32"/>
<circle cx="353.54" cy="126.71" r="2.6" fill="#d80000" fill-opacity="0.32"/>
<circle cx="345.23" cy="128.00" r="2.6" fill="#d80000" fill-opacity="0.32"/>
<circle cx="340.61" cy="130.77" r="2.6" fill="#d80000" fill-opacity="0.32"/>
<circle cx="336.55" cy="133.91" r="2.6" fill="#d80000" fill-opacity="0.32"/>
<circle cx="316.98" cy="148.31" r="2.6" fill="#d80000" fill-opacity="0.32"/>
<circle cx="280.61" cy="167.32" r="2.6" fill="#d80000" fill-opacity="0.32"/>
<circle cx="292.61" cy="165.85" r="2.6" fill="#d80000" fill-opacity="0.32"/>
<circle cx="296.31" cy="169.91" r="2.6" fill="#d80000" fill-opacity="0.32"/>
<circle cx="280.61" cy="174.15" r="2.6" fill="#d80000" fill-opacity="0.32"/>
<circle cx="110.12" cy="115.88" r="2.6" fill="#d80000" fill-opacity="0.32"/>
<circle cx="100.89" cy="124.46" r="2.6" fill="#d80000" fill-opacity="0.32"/>
<circle cx="113.08" cy="122.15" r="2.6" fill="#d80000" fill-opacity="0.32"/>
<circle cx="115.11" cy="120.77" r="2.6" fill="#d80000" fill-opacity="0.32"/>
<circle cx="115.39" cy="128.15" r="2.6" fill="#d80000" fill-opacity="0.32"/>
<circle cx="113.08" cy="131.85" r="2.6" fill="#d80000" fill-opacity="0.32"/>
<circle cx="110.31" cy="137.39" r="2.6" fill="#d80000" fill-opacity="0.32"/>
<circle cx="117.69" cy="136.46" r="2.6" fill="#d80000" fill-opacity="0.32"/>
<circle cx="116.77" cy="136.00" r="2.6" fill="#d80000" fill-opacity="0.32"/>
<circle cx="113.08" cy="150.59" r="2.6" fill="#d80000" fill-opacity="0.32"/>
<circle cx="124.62" cy="148.46" r="2.6" fill="#d80000" fill-opacity="0.32"/>
<circle cx="132.00" cy="152.16" r="2.6" fill="#d80000" fill-opacity="0.32"/>
<circle cx="156.46" cy="168.31" r="2.6" fill="#d80000" fill-opacity="0.32"/>
<circle cx="160.62" cy="173.39" r="2.6" fill="#d80000" fill-opacity="0.32"/>
<circle cx="153.23" cy="180.77" r="2.6" fill="#d80000" fill-opacity="0.32"/>
<circle cx="117.23" cy="180.77" r="2.6" fill="#d80000" fill-opacity="0.32"/>
<circle cx="120.00" cy="179.39" r="2.6" fill="#d80000" fill-opacity="0.32"/>
<circle cx="146.31" cy="169.69" r="2.6" fill="#d80000" fill-opacity="0.32"/>
<circle cx="114.00" cy="130.46" r="2.6" fill="#d80000" fill-opacity="0.32"/>
<circle cx="115.85" cy="133.23" r="2.6" fill="#d80000" fill-opacity="0.32"/>
<circle cx="118.62" cy="134.15" r="2.6" fill="#d80000" fill-opacity="0.32"/>
<circle cx="112.15" cy="135.08" r="2.6" fill="#d80000" fill-opacity="0.32"/>
<circle cx="120.46" cy="139.69" r="2.6" fill="#d80000" fill-opacity="0.32"/>
<circle cx="136.62" cy="156.31" r="2.6" fill="#d80000" fill-opacity="0.32"/>
<circle cx="126.92" cy="146.62" r="2.6" fill="#d80000" fill-opacity="0.32"/>
<circle cx="129.23" cy="149.39" r="2.6" fill="#d80000" fill-opacity="0.32"/>
<circle cx="116.77" cy="136.92" r="2.6" fill="#d80000" fill-opacity="0.32"/>
<circle cx="118.62" cy="137.85" r="2.6" fill="#d80000" fill-opacity="0.32"/>
<circle cx="120.46" cy="139.69" r="2.6" fill="#d80000" fill-opacity="0.32"/>
<circle cx="136.62" cy="156.31" r="2.6" fill="#d80000" fill-opacity="0.32"/>
<circle cx="126.92" cy="146.62" r="2.6" fill="#d80000" fill-opacity="0.32"/>
<circle cx="129.23" cy="149.39" r="2.6" fill="#d80000" fill-opacity="0.32"/>
<circle cx="122.31" cy="131.85" r="2.6" fill="#d80000" fill-opacity="0.32"/>
<circle cx="122.77" cy="144.31" r="2.6" fill="#d80000" fill-opacity="0.32"/>
<circle cx="158.77" cy="177.54" r="2.6" fill="#d80000" fill-opacity="0.32"/>
<circle cx="153.23" cy="179.39" r="2.6" fill="#d80000" fill-opacity="0.32"/>
<circle cx="243.08" cy="261.46" r="2.6" fill="#d80000" fill-opacity="0.32"/>
<circle cx="250.46" cy="267.00" r="2.6" fill="#d80000" fill-opacity="0.32"/>
<circle cx="245.39" cy="274.39" r="2.6" fill="#d80000" fill-opacity="0.32"/>
<circle cx="255.08" cy="280.85" r="2.6" fill="#d80000" fill-opacity="0.32"/>
<circle cx="259.23" cy="285.00" r="2.6" fill="#d80000" fill-opacity="0.32"/>
<circle cx="241.69" cy="296.08" r="2.6" fill="#d80000" fill-opacity="0.32"/>
<circle cx="280.93" cy="298.39" r="2.6" fill="#d80000" fill-opacity="0.32"/>
<circle cx="280.46" cy="308.54" r="2.6" fill="#d80000" fill-opacity="0.32"/>
<circle cx="265.69" cy="293.31" r="2.6" fill="#d80000" fill-opacity="0.32"/>
<circle cx="267.54" cy="294.69" r="2.6" fill="#d80000" fill-opacity="0.32"/>
<circle cx="269.39" cy="296.08" r="2.6" fill="#d80000" fill-opacity="0.32"/>
<circle cx="271.23" cy="297.93" r="2.6" fill="#d80000" fill-opacity="0.32"/>
<circle cx="273.08" cy="299.31" r="2.6" fill="#d80000" fill-opacity="0.32"/>
<circle cx="274.46" cy="300.23" r="2.6" fill="#d80000" fill-opacity="0.32"/>
<circle cx="270.31" cy="295.16" r="2.6" fill="#d80000" fill-opacity="0.32"/>
<circle cx="268.46" cy="293.77" r="2.6" fill="#d80000" fill-opacity="0.32"/>
<circle cx="265.69" cy="293.31" r="2.6" fill="#d80000" fill-opacity="0.32"/>
<circle cx="267.54" cy="294.69" r="2.6" fill="#d80000" fill-opacity="0.32"/>
<circle cx="269.39" cy="296.08" r="2.6" fill="#d80000" fill-opacity="0.32"/>
<circle cx="271.23" cy="297.93" r="2.6" fill="#d80000" fill-opacity="0.32"/>
<circle cx="273.08" cy="299.31" r="2.6" fill="#d80000" fill-opacity="0.32"/>
<circle cx="270.31" cy="295.16" r="2.6" fill="#d80000" fill-opacity="0.32"/>
<circle cx="262.00" cy="287.77" r="2.6" fill="#d80000" fill-opacity="0.32"/>
<circle cx="260.16" cy="291.46" r="2.6" fill="#d80000" fill-opacity="0.32"/>
<circle cx="236.62" cy="259.62" r="2.6" fill="#d80000" fill-opacity="0.32"/>
<circle cx="238.92" cy="263.77" r="2.6" fill="#d80000" fill-opacity="0.32"/>
<path d="M242.38,132.98a2.6,2.6 0 1,0 5.2,0a2.6,2.6 0 1,0 -5.2,0M240.17,153.29a2.6,2.6 0 1,0 5.2,0a2.6,2.6 0 1,0 -5.2,0M262.32,156.25a2.6,2.6 0 1,0 5.2,0a2.6,2.6 0 1,0 -5.2,0M258.08,160.68a2.6,2.6 0 1,0 5.2,0a2.6,2.6 0 1,0 -5.2,0M241.09,170.46a2.6,2.6 0 1,0 5.2,0a2.6,2.6 0 1,0 -5.2,0M242.38,172.86a2.6,2.6 0 1,0 5.2,0a2.6,2.6 0 1,0 -5.2,0M254.57,172.31a2.6,2.6 0 1,0 5.2,0a2.6,2.6 0 1,0 -5.2,0M231.31,179.14a2.6,2.6 0 1,0 5.2,0a2.6,2.6 0 1,0 -5.2,0M246.81,177.85a2.6,2.6 0 1,0 5.2,0a2.6,2.6 0 1,0 -5.2,0M235.55,185.23a2.6,2.6 0 1,0 5.2,0a2.6,2.6 0 1,0 -5.2,0M230.94,188.92a2.6,2.6 0 1,0 5.2,0a2.6,2.6 0 1,0 -5.2,0M247.55,188.92a2.6,2.6 0 1,0 5.2,0a2.6,2.6 0 1,0 -5.2,0M259.55,191.69a2.6,2.6 0 1,0 5.2,0a2.6,2.6 0 1,0 -5.2,0M277.09,195.01a2.6,2.6 0 1,0 5.2,0a2.6,2.6 0 1,0 -5.2,0M205.46,200.00a2.6,2.6 0 1,0 5.2,0a2.6,2.6 0 1,0 -5.2,0M222.63,197.23a2.6,2.6 0 1,0 5.2,0a2.6,2.6 0 1,0 -5.2,0M228.17,200.00a2.6,2.6 0 1,0 5.2,0a2.6,2.6 0 1,0 -5.2,0M230.94,202.77a2.6,2.6 0 1,0 5.2,0a2.6,2.6 0 1,0 -5.2,0M237.40,199.08a2.6,2.6 0 1,0 5.2,0a2.6,2.6 0 1,0 -5.2,0M242.01,200.00a2.6,2.6 0 1,0 5.2,0a2.6,2.6 0 1,0 -5.2,0M247.55,200.00a2.6,2.6 0 1,0 5.2,0a2.6,2.6 0 1,0 -5.2,0M212.11,206.46a2.6,2.6 0 1,0 5.2,0a2.6,2.6 0 1,0 -5.2,0M229.46,207.38a2.6,2.6 0 1,0 5.2,0a2.6,2.6 0 1,0 -5.2,0M246.63,213.84a2.6,2.6 0 1,0 5.2,0a2.6,2.6 0 1,0 -5.2,0M264.54,214.40a2.6,2.6 0 1,0 5.2,0a2.6,2.6 0 1,0 -5.2,0M276.17,215.14a2.6,2.6 0 1,0 5.2,0a2.6,2.6 0 1,0 -5.2,0M211.55,220.68a2.6,2.6 0 1,0 5.2,0a2.6,2.6 0 1,0 -5.2,0M231.31,217.54a2.6,2.6 0 1,0 5.2,0a2.6,2.6 0 1,0 -5.2,0M234.63,221.23a2.6,2.6 0 1,0 5.2,0a2.6,2.6 0 1,0 -5.2,0M196.78,223.08a2.6,2.6 0 1,0 5.2,0a2.6,2.6 0 1,0 -5.2,0M209.71,225.29a2.6,2.6 0 1,0 5.2,0a2.6,2.6 0 1,0 -5.2,0M274.69,229.54a2.6,2.6 0 1,0 5.2,0a2.6,2.6 0 1,0 -5.2,0M266.94,169.54a2.6,2.6 0 1,0 5.2,0a2.6,2.6 0 1,0 -5.2,0M251.25,182.46a2.6,2.6 0 1,0 5.2,0a2.6,2.6 0 1,0 -5.2,0M243.86,184.31a2.6,2.6 0 1,0 5.2,0a2.6,2.6 0 1,0 -5.2,0M238.32,191.69a2.6,2.6 0 1,0 5.2,0a2.6,2.6 0 1,0 -5.2,0M250.32,184.31a2.6,2.6 0 1,0 5.2,0a2.6,2.6 0 1,0 -5.2,0M309.95,151.45a2.6,2.6 0 1,0 5.2,0a2.6,2.6 0 1,0 -5.2,0M247.40,275.31a2.6,2.6 0 1,0 5.2,0a2.6,2.6 0 1,0 -5.2,0M209.55,226.38a2.6,2.6 0 1,0 5.2,0a2.6,2.6 0 1,0 -5.2,0M274.63,229.62a2.6,2.6 0 1,0 5.2,0a2.6,2.6 0 1,0 -5.2,0" fill="#0000ff"/>
<path d="M238.69,159.94a2.6,2.6 0 1,0 5.2,0a2.6,2.6 0 1,0 -5.2,0M271.18,144.06a2.6,2.6 0 1,0 5.2,0a2.6,2.6 0 1,0 -5.2,0M272.48,149.23a2.6,2.6 0 1,0 5.2,0a2.6,2.6 0 1,0 -5.2,0M277.65,155.69a2.6,2.6 0 1,0 5.2,0a2.6,2.6 0 1,0 -5.2,0M278.57,158.46a2.6,2.6 0 1,0 5.2,0a2.6,2.6 0 1,0 -5.2,0M267.49,154.40a2.6,2.6 0 1,0 5.2,0a2.6,2.6 0 1,0 -5.2,0M264.17,162.15a2.6,2.6 0 1,0 5.2,0a2.6,2.6 0 1,0 -5.2,0M266.01,160.31a2.6,2.6 0 1,0 5.2,0a2.6,2.6 0 1,0 -5.2,0M267.86,164.00a2.6,2.6 0 1,0 5.2,0a2.6,2.6 0 1,0 -5.2,0M269.71,165.85a2.6,2.6 0 1,0 5.2,0a2.6,2.6 0 1,0 -5.2,0M271.55,161.23a2.6,2.6 0 1,0 5.2,0a2.6,2.6 0 1,0 -5.2,0M261.40,167.69a2.6,2.6 0 1,0 5.2,0a2.6,2.6 0 1,0 -5.2,0M258.63,171.38a2.6,2.6 0 1,0 5.2,0a2.6,2.6 0 1,0 -5.2,0M252.17,176.92a2.6,2.6 0 1,0 5.2,0a2.6,2.6 0 1,0 -5.2,0M249.40,180.61a2.6,2.6 0 1,0 5.2,0a2.6,2.6 0 1,0 -5.2,0M242.94,181.54a2.6,2.6 0 1,0 5.2,0a2.6,2.6 0 1,0 -5.2,0M240.17,188.00a2.6,2.6 0 1,0 5.2,0a2.6,2.6 0 1,0 -5.2,0M236.48,192.61a2.6,2.6 0 1,0 5.2,0a2.6,2.6 0 1,0 -5.2,0M233.71,194.46a2.6,2.6 0 1,0 5.2,0a2.6,2.6 0 1,0 -5.2,0M268.78,177.85a2.6,2.6 0 1,0 5.2,0a2.6,2.6 0 1,0 -5.2,0M266.94,206.46a2.6,2.6 0 1,0 5.2,0a2.6,2.6 0 1,0 -5.2,0M268.23,204.98a2.6,2.6 0 1,0 5.2,0a2.6,2.6 0 1,0 -5.2,0M322.32,142.40a2.6,2.6 0 1,0 5.2,0a2.6,2.6 0 1,0 -5.2,0M354.63,161.78a2.6,2.6 0 1,0 5.2,0a2.6,2.6 0 1,0 -5.2,0M269.71,157.54a2.6,2.6 0 1,0 5.2,0a2.6,2.6 0 1,0 -5.2,0M265.09,165.85a2.6,2.6 0 1,0 5.2,0a2.6,2.6 0 1,0 -5.2,0M262.32,164.92a2.6,2.6 0 1,0 5.2,0a2.6,2.6 0 1,0 -5.2,0M256.78,173.23a2.6,2.6 0 1,0 5.2,0a2.6,2.6 0 1,0 -5.2,0M254.94,175.08a2.6,2.6 0 1,0 5.2,0a2.6,2.6 0 1,0 -5.2,0M245.71,182.46a2.6,2.6 0 1,0 5.2,0a2.6,2.6 0 1,0 -5.2,0M242.01,187.08a2.6,2.6 0 1,0 5.2,0a2.6,2.6 0 1,0 -5.2,0" fill="#d80000"/>
<line x1="92.50" y1="111.10" x2="92.50" y2="281.50" stroke="#262626" stroke-width="2.6" stroke-linecap="butt"/>
<line x1="92.50" y1="281.50" x2="286.00" y2="315.00" stroke="#262626" stroke-width="2.6" stroke-linecap="butt"/>
<line x1="286.00" y1="315.00" x2="401.00" y2="259.50" stroke="#262626" stroke-width="2.6" stroke-linecap="butt"/>
<line x1="92.50" y1="139.50" x2="84.10" y2="136.80" stroke="#262626" stroke-width="2.2" stroke-linecap="butt"/>
<line x1="92.50" y1="211.30" x2="84.10" y2="208.60" stroke="#262626" stroke-width="2.2" stroke-linecap="butt"/>
<line x1="92.50" y1="278.00" x2="84.10" y2="275.30" stroke="#262626" stroke-width="2.2" stroke-linecap="butt"/>
<line x1="92.50" y1="281.50" x2="84.10" y2="285.30" stroke="#262626" stroke-width="2.2" stroke-linecap="butt"/>
<line x1="175.79" y1="295.90" x2="167.39" y2="299.70" stroke="#262626" stroke-width="2.2" stroke-linecap="butt"/>
<line x1="255.98" y1="309.77" x2="247.58" y2="313.57" stroke="#262626" stroke-width="2.2" stroke-linecap="butt"/>
<line x1="401.10" y1="258.30" x2="409.70" y2="260.40" stroke="#262626" stroke-width="2.2" stroke-linecap="butt"/>
<line x1="352.80" y1="282.40" x2="361.40" y2="284.50" stroke="#262626" stroke-width="2.2" stroke-linecap="butt"/>
<line x1="304.60" y1="306.50" x2="313.20" y2="308.60" stroke="#262626" stroke-width="2.2" stroke-linecap="butt"/>
<g style="opacity:0.999"><text transform="translate(43.0,354.5) rotate(9.8) scale(0.99,1)" font-size="29.5" fill="#000">Contra_CF (kHz)</text></g>
<g style="opacity:0.999"><text transform="translate(341.5,374.5) rotate(-29) scale(0.96,1)" font-size="29.5" fill="#000">Bi_CF (kHz)</text></g>
<circle cx="412.90" cy="65.30" r="5.4" fill="#0000ff"/>
<circle cx="412.90" cy="89.90" r="5.4" fill="#d80000"/>
<g style="opacity:0.999">
<g transform="matrix(1.0526 0 0 1.0526 90.11 879.65)"><text x="0" y="0" font-size="28" fill="#000">0</text></g>
<g transform="matrix(1.0526 0 0 1.0526 65.90 814.14)"><text x="0" y="0" font-size="28" fill="#000">0.2</text></g>
<g transform="matrix(1.0526 0 0 1.0526 65.90 748.63)"><text x="0" y="0" font-size="28" fill="#000">0.4</text></g>
<g transform="matrix(1.0526 0 0 1.0526 65.90 683.12)"><text x="0" y="0" font-size="28" fill="#000">0.6</text></g>
<g transform="matrix(1.0526 0 0 1.0526 65.90 617.61)"><text x="0" y="0" font-size="28" fill="#000">0.8</text></g>
<g transform="matrix(1.0526 0 0 1.0526 65.90 552.10)"><text x="0" y="0" font-size="28" fill="#000">1.0</text></g>
<g transform="matrix(1.0804 0 0 1.0526 143.12 911.80)"><text x="0" y="0" font-size="28" fill="#000">-0.5</text></g>
<g transform="matrix(1.1214 0 0 1.0526 256.18 911.80)"><text x="0" y="0" font-size="28" fill="#000">0</text></g>
<g transform="matrix(1.1216 0 0 1.0526 337.48 911.80)"><text x="0" y="0" font-size="28" fill="#000">0.5</text></g>
<g transform="matrix(1.1333 0 0 1.0526 446.13 911.80)"><text x="0" y="0" font-size="28" fill="#000">1</text></g>
<g transform="matrix(0.9934 0 0 0.9667 69.20 966.23)"><text x="0" y="0" font-size="31" fill="#000">ADI ([Contra - Ipsi]/[Contra + Ipsi])</text></g>
<g transform="matrix(0.9522 0 0 1.0193 32.30 864.02)"><text x="0" y="0" transform="rotate(-90)" font-size="31" fill="#000">Cumulative distribution</text></g>
<g transform="matrix(1.2174 0 0 1.0769 4.57 458.00)"><text x="0" y="0" font-size="36" font-weight="bold" fill="#000">D</text></g>
<g transform="matrix(1.0227 0 0 1.0947 202.33 534.60)"><text x="0" y="0" font-size="28" fill="#000">ICD</text></g>
<g transform="matrix(0.9682 0 0 1.0947 202.50 564.60)"><text x="0" y="0" font-size="28" fill="#000">ICC</text></g>
<g transform="matrix(1.0526 0 0 1.0526 515.21 1401.40)"><text x="0" y="0" font-size="28" fill="#000">0</text></g>
<g transform="matrix(1.0526 0 0 1.0526 516.26 1345.80)"><text x="0" y="0" font-size="28" fill="#000">5</text></g>
<g transform="matrix(1.0526 0 0 1.0526 499.42 1290.20)"><text x="0" y="0" font-size="28" fill="#000">10</text></g>
<g transform="matrix(1.0526 0 0 1.0526 499.42 1234.60)"><text x="0" y="0" font-size="28" fill="#000">15</text></g>
<g transform="matrix(1.0615 0 0 1.0000 542.54 1438.00)"><text x="0" y="0" font-size="28" fill="#000">-60</text></g>
<g transform="matrix(1.0286 0 0 1.0000 658.97 1438.00)"><text x="0" y="0" font-size="28" fill="#000">0</text></g>
<g transform="matrix(1.1034 0 0 1.0000 750.90 1438.00)"><text x="0" y="0" font-size="28" fill="#000">60</text></g>
<g transform="matrix(0.9792 0 0 0.9333 454.62 1481.47)"><text x="0" y="0" font-size="31" fill="#000">Δ Threshold_Ipsi-Contra (dB)</text></g>
<g transform="matrix(1.0000 0 0 0.9781 478.00 1361.98)"><text x="0" y="0" transform="rotate(-90)" font-size="31" fill="#000">Cell count</text></g>
<g transform="matrix(1.1455 0 0 1.1154 439.51 1121.00)"><text x="0" y="0" font-size="36" font-weight="bold" fill="#000">H</text></g>
<g transform="matrix(1.0526 0 0 1.0526 939.01 1401.40)"><text x="0" y="0" font-size="28" fill="#000">0</text></g>
<g transform="matrix(1.0526 0 0 1.0526 940.06 1345.80)"><text x="0" y="0" font-size="28" fill="#000">5</text></g>
<g transform="matrix(1.0526 0 0 1.0526 923.22 1290.20)"><text x="0" y="0" font-size="28" fill="#000">10</text></g>
<g transform="matrix(1.0526 0 0 1.0526 923.22 1234.60)"><text x="0" y="0" font-size="28" fill="#000">15</text></g>
<g transform="matrix(1.1282 0 0 1.0000 968.87 1438.00)"><text x="0" y="0" font-size="28" fill="#000">-60</text></g>
<g transform="matrix(1.0857 0 0 1.0000 1087.71 1438.00)"><text x="0" y="0" font-size="28" fill="#000">0</text></g>
<g transform="matrix(1.1103 0 0 1.0000 1179.19 1438.00)"><text x="0" y="0" font-size="28" fill="#000">60</text></g>
<g transform="matrix(0.9769 0 0 0.9333 894.62 1481.47)"><text x="0" y="0" font-size="31" fill="#000">Δ Threshold_Ipsi-Contra (dB)</text></g>
<g transform="matrix(0.9913 0 0 0.9781 905.80 1361.98)"><text x="0" y="0" transform="rotate(-90)" font-size="31" fill="#000">Cell count</text></g>
<g transform="matrix(1.2833 0 0 1.1154 864.23 1121.00)"><text x="0" y="0" font-size="36" font-weight="bold" fill="#000">I</text></g>
<g transform="matrix(1.0526 0 0 1.0526 742.01 1924.30)"><text x="0" y="0" font-size="28" fill="#000">0</text></g>
<g transform="matrix(1.0526 0 0 1.0526 717.80 1858.90)"><text x="0" y="0" font-size="28" fill="#000">0.2</text></g>
<g transform="matrix(1.0526 0 0 1.0526 717.80 1792.70)"><text x="0" y="0" font-size="28" fill="#000">0.4</text></g>
<g transform="matrix(1.0526 0 0 1.0526 717.80 1726.50)"><text x="0" y="0" font-size="28" fill="#000">0.6</text></g>
<g transform="matrix(1.0526 0 0 1.0526 717.80 1660.30)"><text x="0" y="0" font-size="28" fill="#000">0.8</text></g>
<g transform="matrix(1.0526 0 0 1.0526 717.80 1594.10)"><text x="0" y="0" font-size="28" fill="#000">1.0</text></g>
<g transform="matrix(1.0435 0 0 1.0263 765.46 1958.50)"><text x="0" y="0" font-size="28" fill="#000">-1</text></g>
<g transform="matrix(1.1239 0 0 1.0263 839.18 1958.50)"><text x="0" y="0" font-size="28" fill="#000">-0.5</text></g>
<g transform="matrix(1.0500 0 0 1.0263 940.85 1958.50)"><text x="0" y="0" font-size="28" fill="#000">0</text></g>
<g transform="matrix(1.0973 0 0 1.0263 1010.90 1958.50)"><text x="0" y="0" font-size="28" fill="#000">0.5</text></g>
<g transform="matrix(1.0833 0 0 1.0263 1113.23 1958.50)"><text x="0" y="0" font-size="28" fill="#000">1</text></g>
<g transform="matrix(0.9950 0 0 0.8667 734.01 2006.93)"><text x="0" y="0" font-size="31" fill="#000">BDI ([Bi - Contra]/[Bi + Contra])</text></g>
<g transform="matrix(0.8696 0 0 1.0257 684.00 1935.03)"><text x="0" y="0" transform="rotate(-90)" font-size="31" fill="#000">Cumulative distribution</text></g>
<g transform="matrix(1.2304 0 0 1.1731 568.94 1574.30)"><text x="0" y="0" font-size="36" font-weight="bold" fill="#000">K</text></g>
<g transform="matrix(0.8409 0 0 0.9526 1195.28 1576.30)"><text x="0" y="0" font-size="28" fill="#000">ICD</text></g>
<g transform="matrix(0.8068 0 0 0.9263 1195.38 1609.90)"><text x="0" y="0" font-size="28" fill="#000">ICC</text></g>
<g transform="matrix(1.1053 0 0 1.1053 566.52 296.80)"><text x="0" y="0" font-size="28" fill="#000">0</text></g>
<g transform="matrix(1.1053 0 0 1.1053 567.63 246.80)"><text x="0" y="0" font-size="28" fill="#000">1</text></g>
<g transform="matrix(1.1053 0 0 1.1053 567.63 196.80)"><text x="0" y="0" font-size="28" fill="#000">2</text></g>
<g transform="matrix(1.1053 0 0 1.1053 567.63 146.80)"><text x="0" y="0" font-size="28" fill="#000">3</text></g>
<g transform="matrix(1.1053 0 0 1.1053 566.52 96.80)"><text x="0" y="0" font-size="28" fill="#000">4</text></g>
<g transform="matrix(1.0000 0 0 0.9794 551.60 287.46)"><text x="0" y="0" transform="rotate(-90)" font-size="31" fill="#000">BW_20 (octave)</text></g>
<g transform="matrix(1.0068 0 0 1.0684 639.58 340.10)"><text x="0" y="0" font-size="28" fill="#000">ICD</text></g>
<g transform="matrix(0.9432 0 0 1.0684 761.67 340.10)"><text x="0" y="0" font-size="28" fill="#000">ICC</text></g>
<g transform="matrix(1.1955 0 0 1.2000 518.81 30.90)"><text x="0" y="0" font-size="36" font-weight="bold" fill="#000">B</text></g>
<g transform="matrix(1.1308 0 0 1.0923 810.64 42.70)"><text x="0" y="0" font-size="18" fill="#000">Bi</text></g>
<g transform="matrix(1.1680 0 0 1.0471 811.26 63.71)"><text x="0" y="0" font-size="18" fill="#000">Ipsi</text></g>
<g transform="matrix(1.1377 0 0 1.0923 809.66 89.50)"><text x="0" y="0" font-size="18" fill="#000">Contra</text></g>
<g transform="matrix(1.0526 0 0 1.0526 959.88 137.10)"><text x="0" y="0" font-size="28" fill="#000">100</text></g>
<g transform="matrix(1.0526 0 0 1.0526 976.72 216.50)"><text x="0" y="0" font-size="28" fill="#000">50</text></g>
<g transform="matrix(1.0526 0 0 1.0526 992.51 295.90)"><text x="0" y="0" font-size="28" fill="#000">0</text></g>
<g transform="matrix(0.9200 0 0 0.9760 947.36 275.75)"><text x="0" y="0" transform="rotate(-90)" font-size="31" fill="#000">Latency (ms)</text></g>
<g transform="matrix(1.0136 0 0 1.0526 1066.16 338.50)"><text x="0" y="0" font-size="28" fill="#000">ICD</text></g>
<g transform="matrix(0.9432 0 0 1.0526 1195.67 338.50)"><text x="0" y="0" font-size="28" fill="#000">ICC</text></g>
<g transform="matrix(1.1739 0 0 1.2269 918.75 31.40)"><text x="0" y="0" font-size="36" font-weight="bold" fill="#000">C</text></g>
<g transform="matrix(1.1615 0 0 1.1308 1239.48 43.50)"><text x="0" y="0" font-size="18" fill="#000">Bi</text></g>
<g transform="matrix(1.1840 0 0 1.0765 1240.03 64.29)"><text x="0" y="0" font-size="18" fill="#000">Ipsi</text></g>
<g transform="matrix(1.1377 0 0 1.1231 1238.76 90.40)"><text x="0" y="0" font-size="18" fill="#000">Contra</text></g>
<g transform="matrix(1.0769 0 0 1.0526 671.45 503.60)"><text x="0" y="0" font-size="28" fill="#000">NaN</text></g>
<g transform="matrix(1.0526 0 0 1.0526 698.02 545.10)"><text x="0" y="0" font-size="28" fill="#000">70</text></g>
<g transform="matrix(1.0526 0 0 1.0526 698.02 585.90)"><text x="0" y="0" font-size="28" fill="#000">50</text></g>
<g transform="matrix(1.0526 0 0 1.0526 698.02 626.70)"><text x="0" y="0" font-size="28" fill="#000">30</text></g>
<g transform="matrix(1.0526 0 0 1.0526 698.02 667.50)"><text x="0" y="0" font-size="28" fill="#000">10</text></g>
<g transform="matrix(1.0526 0 0 1.0526 687.49 708.30)"><text x="0" y="0" font-size="28" fill="#000">-10</text></g>
<g transform="matrix(1.1304 0 0 1.0526 747.87 736.00)"><text x="0" y="0" font-size="28" fill="#000">-0.5</text></g>
<g transform="matrix(1.1429 0 0 1.0526 827.86 736.00)"><text x="0" y="0" font-size="28" fill="#000">0</text></g>
<g transform="matrix(1.0811 0 0 1.0526 871.92 736.00)"><text x="0" y="0" font-size="28" fill="#000">0.5</text></g>
<g transform="matrix(1.0000 0 0 1.0526 944.00 736.00)"><text x="0" y="0" font-size="28" fill="#000">1</text></g>
<g transform="matrix(1.0000 0 0 0.9664 646.00 696.97)"><text x="0" y="0" transform="rotate(-90)" font-size="31" fill="#000">Threshold_Ipsi (dB)</text></g>
<g transform="matrix(1.1524 0 0 1.1808 573.50 457.50)"><text x="0" y="0" font-size="36" font-weight="bold" fill="#000">E</text></g>
<g transform="matrix(1.0227 0 0 1.0526 785.93 487.00)"><text x="0" y="0" font-size="28" fill="#000">ICD</text></g>
<g transform="matrix(1.0000 0 0 1.0526 786.00 515.00)"><text x="0" y="0" font-size="28" fill="#000">ICC</text></g>
<g transform="matrix(1.0000 0 0 1.1421 1019.00 465.40)"><text x="0" y="0" font-size="28" fill="#000">ICD</text></g>
<g transform="matrix(0.9432 0 0 1.1421 1117.67 465.40)"><text x="0" y="0" font-size="28" fill="#000">ICC</text></g>
<g transform="matrix(1.0286 0 0 1.0263 993.37 736.50)"><text x="0" y="0" font-size="28" fill="#000">0</text></g>
<g transform="matrix(1.0750 0 0 1.0263 1040.45 736.50)"><text x="0" y="0" font-size="28" fill="#000">10</text></g>
<g transform="matrix(1.0643 0 0 1.0263 1095.74 736.50)"><text x="0" y="0" font-size="28" fill="#000">0</text></g>
<g transform="matrix(1.0793 0 0 1.0263 1152.42 736.50)"><text x="0" y="0" font-size="28" fill="#000">20</text></g>
<g transform="matrix(1.0526 0 0 1.0526 699.42 766.50)"><text x="0" y="0" font-size="28" fill="#000">80</text></g>
<g transform="matrix(1.0526 0 0 1.0526 699.42 816.40)"><text x="0" y="0" font-size="28" fill="#000">60</text></g>
<g transform="matrix(1.0526 0 0 1.0526 699.42 866.30)"><text x="0" y="0" font-size="28" fill="#000">40</text></g>
<g transform="matrix(1.0526 0 0 1.0526 699.42 916.20)"><text x="0" y="0" font-size="28" fill="#000">20</text></g>
<g transform="matrix(1.0526 0 0 1.0526 715.21 966.10)"><text x="0" y="0" font-size="28" fill="#000">0</text></g>
<g transform="matrix(1.0870 0 0 1.0526 751.91 1024.00)"><text x="0" y="0" font-size="28" fill="#000">-0.5</text></g>
<g transform="matrix(1.1429 0 0 1.0526 827.86 1024.00)"><text x="0" y="0" font-size="28" fill="#000">0</text></g>
<g transform="matrix(1.0919 0 0 1.0526 872.51 1024.00)"><text x="0" y="0" font-size="28" fill="#000">0.5</text></g>
<g transform="matrix(1.1167 0 0 1.0526 942.77 1024.00)"><text x="0" y="0" font-size="28" fill="#000">1</text></g>
<g transform="matrix(1.0227 0 0 1.0526 845.00 1065.00)"><text x="0" y="0" font-size="28" fill="#000">ADI</text></g>
<g transform="matrix(0.9667 0 0 0.9840 646.23 1052.98)"><text x="0" y="0" transform="rotate(-90)" font-size="31" fill="#000">Threshold_Contra (dB)</text></g>
<g transform="matrix(1.1053 0 0 0.9423 574.79 764.00)"><text x="0" y="0" font-size="36" font-weight="bold" fill="#000">F</text></g>
<g transform="matrix(1.1214 0 0 1.0158 989.88 1025.00)"><text x="0" y="0" font-size="28" fill="#000">0</text></g>
<g transform="matrix(1.1069 0 0 1.0158 1031.39 1025.00)"><text x="0" y="0" font-size="28" fill="#000">20</text></g>
<g transform="matrix(1.0857 0 0 1.0158 1094.91 1025.00)"><text x="0" y="0" font-size="28" fill="#000">0</text></g>
<g transform="matrix(1.0793 0 0 1.0158 1151.52 1025.00)"><text x="0" y="0" font-size="28" fill="#000">40</text></g>
<g transform="matrix(1.0797 0 0 1.0737 993.82 1065.00)"><text x="0" y="0" font-size="28" fill="#000">Count</text></g>
<g transform="matrix(1.0635 0 0 1.0737 1108.44 1065.00)"><text x="0" y="0" font-size="28" fill="#000">Count</text></g>
<g transform="matrix(1.1211 0 0 1.1211 91.73 1188.55)"><text x="0" y="0" font-size="28" fill="#000">100</text></g>
<g transform="matrix(1.1211 0 0 1.1211 109.67 1250.60)"><text x="0" y="0" font-size="28" fill="#000">50</text></g>
<g transform="matrix(1.1211 0 0 1.1211 126.48 1312.65)"><text x="0" y="0" font-size="28" fill="#000">0</text></g>
<g transform="matrix(1.1211 0 0 1.1211 98.46 1374.70)"><text x="0" y="0" font-size="28" fill="#000">-50</text></g>
<g transform="matrix(1.1043 0 0 1.0368 167.10 1448.30)"><text x="0" y="0" font-size="28" fill="#000">-0.5</text></g>
<g transform="matrix(1.0857 0 0 1.0368 247.71 1448.30)"><text x="0" y="0" font-size="28" fill="#000">0</text></g>
<g transform="matrix(1.1405 0 0 1.0368 291.66 1448.30)"><text x="0" y="0" font-size="28" fill="#000">0.5</text></g>
<g transform="matrix(1.2667 0 0 1.0368 364.77 1448.30)"><text x="0" y="0" font-size="28" fill="#000">1</text></g>
<g transform="matrix(1.0545 0 0 1.0684 257.20 1494.60)"><text x="0" y="0" font-size="28" fill="#000">ADI</text></g>
<g transform="matrix(0.9833 0 0 0.9799 81.82 1503.98)"><text x="0" y="0" transform="rotate(-90)" font-size="31" fill="#000">Δ Threshold_Ipsi-Contra (dB)</text></g>
<g transform="matrix(1.2500 0 0 1.0000 1.50 1121.00)"><text x="0" y="0" font-size="36" font-weight="bold" fill="#000">G</text></g>
<g transform="matrix(0.9816 0 0 1.0118 219.74 1172.20)"><text x="0" y="0" font-size="24" fill="#000">ICD</text></g>
<g transform="matrix(0.9553 0 0 0.9765 219.79 1205.40)"><text x="0" y="0" font-size="24" fill="#000">ICC</text></g>
<g transform="matrix(1.1263 0 0 1.1263 98.60 1643.80)"><text x="0" y="0" font-size="28" fill="#000">0.5</text></g>
<g transform="matrix(1.1263 0 0 1.1263 124.51 1726.20)"><text x="0" y="0" font-size="28" fill="#000">0</text></g>
<g transform="matrix(1.1263 0 0 1.1263 88.46 1808.60)"><text x="0" y="0" font-size="28" fill="#000">-0.5</text></g>
<g transform="matrix(1.1263 0 0 1.1263 114.37 1891.00)"><text x="0" y="0" font-size="28" fill="#000">-1</text></g>
<g transform="matrix(1.1239 0 0 1.0211 190.58 1960.80)"><text x="0" y="0" font-size="28" fill="#000">-0.5</text></g>
<g transform="matrix(1.2357 0 0 1.0211 302.46 1960.80)"><text x="0" y="0" font-size="28" fill="#000">0</text></g>
<g transform="matrix(1.1297 0 0 1.0211 381.37 1960.80)"><text x="0" y="0" font-size="28" fill="#000">0.5</text></g>
<g transform="matrix(1.2500 0 0 1.0211 486.50 1960.80)"><text x="0" y="0" font-size="28" fill="#000">1</text></g>
<g transform="matrix(1.0773 0 0 1.1368 312.30 2014.60)"><text x="0" y="0" font-size="28" fill="#000">ADI</text></g>
<g transform="matrix(0.9773 0 0 0.8702 73.20 1764.34)"><text x="0" y="0" transform="rotate(-90)" font-size="31" fill="#000">BDI</text></g>
<g transform="matrix(1.2647 0 0 1.0769 6.54 1573.00)"><text x="0" y="0" font-size="36" font-weight="bold" fill="#000">J</text></g>
<g transform="matrix(0.9526 0 0 1.0235 485.39 1576.20)"><text x="0" y="0" font-size="24" fill="#000">ICD</text></g>
<g transform="matrix(0.9132 0 0 1.0176 485.47 1610.00)"><text x="0" y="0" font-size="24" fill="#000">ICC</text></g>
<g transform="matrix(1.0483 0 0 1.0421 39.95 146.80)"><text x="0" y="0" font-size="28" fill="#000">32</text></g>
<g transform="matrix(1.1462 0 0 1.0895 57.25 217.50)"><text x="0" y="0" font-size="28" fill="#000">8</text></g>
<g transform="matrix(1.0385 0 0 1.0421 57.66 288.10)"><text x="0" y="0" font-size="28" fill="#000">2</text></g>
<g transform="matrix(1.0462 0 0 1.0263 63.95 311.50)"><text x="0" y="0" font-size="28" fill="#000">2</text></g>
<g transform="matrix(1.2000 0 0 1.0211 143.80 328.00)"><text x="0" y="0" font-size="28" fill="#000">8</text></g>
<g transform="matrix(1.0793 0 0 1.0684 218.62 342.80)"><text x="0" y="0" font-size="28" fill="#000">32</text></g>
<g transform="matrix(1.0077 0 0 1.1158 414.69 278.00)"><text x="0" y="0" font-size="28" fill="#000">2</text></g>
<g transform="matrix(1.1769 0 0 1.1158 369.22 306.50)"><text x="0" y="0" font-size="28" fill="#000">8</text></g>
<g transform="matrix(1.0586 0 0 1.1158 313.74 335.70)"><text x="0" y="0" font-size="28" fill="#000">32</text></g>
<g transform="matrix(0.9000 0 0 0.9265 23.10 303.58)"><text x="0" y="0" transform="rotate(-90)" font-size="31" fill="#000">Ipsi_CF (kHz)</text></g>
<g transform="matrix(1.2750 0 0 1.2038 4.32 31.00)"><text x="0" y="0" font-size="36" font-weight="bold" fill="#000">A</text></g>
<g transform="matrix(0.9219 0 0 1.0286 429.86 70.80)"><text x="0" y="0" font-size="20" fill="#000">ICD</text></g>
<g transform="matrix(0.9290 0 0 1.0071 429.84 97.90)"><text x="0" y="0" font-size="20" fill="#000">ICC</text></g>
</g>
</svg></body></html>
